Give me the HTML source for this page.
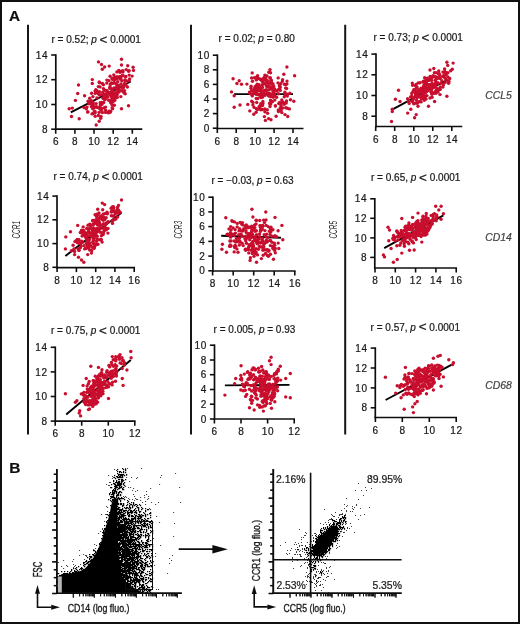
<!DOCTYPE html>
<html><head><meta charset="utf-8"><style>
html,body{margin:0;padding:0;background:#fff;}
svg{display:block;font-family:"Liberation Sans",sans-serif;}
</style></head><body>
<svg width="520" height="624" viewBox="0 0 520 624">
<defs><filter id="soft" x="0" y="0" width="520" height="624" filterUnits="userSpaceOnUse"><feGaussianBlur stdDeviation="0.3"/></filter></defs>
<rect x="0" y="0" width="520" height="624" fill="#fff"/>
<g filter="url(#soft)">
<rect x="0" y="0" width="520" height="624" fill="#fff"/>
<line x1="70.8" y1="112.3" x2="130.8" y2="81.5" stroke="#000" stroke-width="1.9" stroke-linecap="butt"/>
<g fill="#c8102e"><circle cx="120.9" cy="78.1" r="1.7"/><circle cx="101.1" cy="110.3" r="1.7"/><circle cx="84.0" cy="107.5" r="1.7"/><circle cx="124.0" cy="92.7" r="1.7"/><circle cx="96.8" cy="90.6" r="1.7"/><circle cx="110.0" cy="94.4" r="1.7"/><circle cx="107.7" cy="112.5" r="1.7"/><circle cx="114.2" cy="92.7" r="1.7"/><circle cx="108.8" cy="80.6" r="1.7"/><circle cx="117.1" cy="77.8" r="1.7"/><circle cx="125.8" cy="76.4" r="1.7"/><circle cx="99.1" cy="112.4" r="1.7"/><circle cx="110.1" cy="112.2" r="1.7"/><circle cx="114.3" cy="105.2" r="1.7"/><circle cx="108.8" cy="112.8" r="1.7"/><circle cx="104.6" cy="94.8" r="1.7"/><circle cx="122.4" cy="87.8" r="1.7"/><circle cx="114.8" cy="100.2" r="1.7"/><circle cx="117.0" cy="76.6" r="1.7"/><circle cx="106.9" cy="80.1" r="1.7"/><circle cx="132.1" cy="76.1" r="1.7"/><circle cx="117.7" cy="81.8" r="1.7"/><circle cx="92.8" cy="108.8" r="1.7"/><circle cx="93.3" cy="113.5" r="1.7"/><circle cx="110.1" cy="76.2" r="1.7"/><circle cx="110.1" cy="86.7" r="1.7"/><circle cx="87.8" cy="111.9" r="1.7"/><circle cx="107.2" cy="96.3" r="1.7"/><circle cx="100.5" cy="104.5" r="1.7"/><circle cx="106.2" cy="95.2" r="1.7"/><circle cx="125.9" cy="84.9" r="1.7"/><circle cx="112.9" cy="101.5" r="1.7"/><circle cx="100.9" cy="94.9" r="1.7"/><circle cx="92.0" cy="113.9" r="1.7"/><circle cx="122.3" cy="75.8" r="1.7"/><circle cx="105.6" cy="107.1" r="1.7"/><circle cx="125.2" cy="93.8" r="1.7"/><circle cx="121.8" cy="80.8" r="1.7"/><circle cx="109.0" cy="111.1" r="1.7"/><circle cx="120.8" cy="96.6" r="1.7"/><circle cx="105.5" cy="110.3" r="1.7"/><circle cx="102.4" cy="112.5" r="1.7"/><circle cx="94.3" cy="107.7" r="1.7"/><circle cx="100.1" cy="86.9" r="1.7"/><circle cx="95.1" cy="112.8" r="1.7"/><circle cx="122.9" cy="71.9" r="1.7"/><circle cx="112.3" cy="89.0" r="1.7"/><circle cx="112.0" cy="102.3" r="1.7"/><circle cx="98.4" cy="115.5" r="1.7"/><circle cx="105.5" cy="99.1" r="1.7"/><circle cx="114.8" cy="77.5" r="1.7"/><circle cx="120.4" cy="76.5" r="1.7"/><circle cx="128.6" cy="71.2" r="1.7"/><circle cx="92.9" cy="96.6" r="1.7"/><circle cx="92.9" cy="102.2" r="1.7"/><circle cx="114.0" cy="80.2" r="1.7"/><circle cx="122.9" cy="70.8" r="1.7"/><circle cx="102.4" cy="83.5" r="1.7"/><circle cx="89.7" cy="98.3" r="1.7"/><circle cx="121.0" cy="83.9" r="1.7"/><circle cx="94.6" cy="106.9" r="1.7"/><circle cx="125.4" cy="77.1" r="1.7"/><circle cx="111.8" cy="100.6" r="1.7"/><circle cx="115.3" cy="98.0" r="1.7"/><circle cx="101.9" cy="104.4" r="1.7"/><circle cx="115.4" cy="77.6" r="1.7"/><circle cx="104.8" cy="99.2" r="1.7"/><circle cx="88.8" cy="101.4" r="1.7"/><circle cx="123.5" cy="87.4" r="1.7"/><circle cx="105.3" cy="96.1" r="1.7"/><circle cx="99.4" cy="91.7" r="1.7"/><circle cx="90.7" cy="103.7" r="1.7"/><circle cx="111.3" cy="83.0" r="1.7"/><circle cx="87.0" cy="107.1" r="1.7"/><circle cx="124.8" cy="80.2" r="1.7"/><circle cx="99.4" cy="108.2" r="1.7"/><circle cx="114.7" cy="78.1" r="1.7"/><circle cx="105.5" cy="112.4" r="1.7"/><circle cx="100.2" cy="102.7" r="1.7"/><circle cx="89.0" cy="103.7" r="1.7"/><circle cx="117.3" cy="85.3" r="1.7"/><circle cx="120.1" cy="78.9" r="1.7"/><circle cx="98.3" cy="93.5" r="1.7"/><circle cx="124.5" cy="90.6" r="1.7"/><circle cx="113.6" cy="78.0" r="1.7"/><circle cx="122.5" cy="91.0" r="1.7"/><circle cx="103.4" cy="88.6" r="1.7"/><circle cx="86.3" cy="108.8" r="1.7"/><circle cx="110.1" cy="88.3" r="1.7"/><circle cx="110.6" cy="102.6" r="1.7"/><circle cx="101.7" cy="108.4" r="1.7"/><circle cx="127.4" cy="87.0" r="1.7"/><circle cx="93.2" cy="105.5" r="1.7"/><circle cx="129.2" cy="75.1" r="1.7"/><circle cx="112.4" cy="89.9" r="1.7"/><circle cx="120.2" cy="78.9" r="1.7"/><circle cx="126.9" cy="80.9" r="1.7"/><circle cx="121.5" cy="71.1" r="1.7"/><circle cx="99.5" cy="82.8" r="1.7"/><circle cx="119.4" cy="89.6" r="1.7"/><circle cx="98.4" cy="86.6" r="1.7"/><circle cx="122.8" cy="90.9" r="1.7"/><circle cx="91.4" cy="100.7" r="1.7"/><circle cx="99.2" cy="94.8" r="1.7"/><circle cx="96.9" cy="92.4" r="1.7"/><circle cx="117.2" cy="94.8" r="1.7"/><circle cx="104.0" cy="107.9" r="1.7"/><circle cx="129.6" cy="79.0" r="1.7"/><circle cx="95.3" cy="93.4" r="1.7"/><circle cx="109.5" cy="111.6" r="1.7"/><circle cx="95.1" cy="91.1" r="1.7"/><circle cx="119.6" cy="76.6" r="1.7"/><circle cx="101.0" cy="116.5" r="1.7"/><circle cx="91.6" cy="93.2" r="1.7"/><circle cx="112.2" cy="107.7" r="1.7"/><circle cx="100.0" cy="106.4" r="1.7"/><circle cx="117.3" cy="97.4" r="1.7"/><circle cx="103.7" cy="102.5" r="1.7"/><circle cx="124.6" cy="83.5" r="1.7"/><circle cx="116.3" cy="78.8" r="1.7"/><circle cx="111.9" cy="104.7" r="1.7"/><circle cx="88.1" cy="101.2" r="1.7"/><circle cx="105.9" cy="90.4" r="1.7"/><circle cx="116.3" cy="93.3" r="1.7"/><circle cx="120.0" cy="72.4" r="1.7"/><circle cx="110.7" cy="95.3" r="1.7"/><circle cx="129.1" cy="70.6" r="1.7"/><circle cx="104.2" cy="98.7" r="1.7"/><circle cx="112.1" cy="78.7" r="1.7"/><circle cx="94.9" cy="111.5" r="1.7"/><circle cx="95.8" cy="89.8" r="1.7"/><circle cx="112.6" cy="108.8" r="1.7"/><circle cx="108.7" cy="100.2" r="1.7"/><circle cx="122.9" cy="75.3" r="1.7"/><circle cx="118.9" cy="77.5" r="1.7"/><circle cx="107.7" cy="97.0" r="1.7"/><circle cx="96.1" cy="103.6" r="1.7"/><circle cx="116.5" cy="78.7" r="1.7"/><circle cx="112.6" cy="83.4" r="1.7"/><circle cx="103.4" cy="94.8" r="1.7"/><circle cx="125.2" cy="80.4" r="1.7"/><circle cx="110.9" cy="94.7" r="1.7"/><circle cx="112.9" cy="96.5" r="1.7"/><circle cx="111.3" cy="96.9" r="1.7"/><circle cx="105.5" cy="96.8" r="1.7"/><circle cx="102.5" cy="92.4" r="1.7"/><circle cx="107.4" cy="92.3" r="1.7"/><circle cx="104.3" cy="90.3" r="1.7"/><circle cx="96.5" cy="106.8" r="1.7"/><circle cx="112.2" cy="79.0" r="1.7"/><circle cx="112.4" cy="92.6" r="1.7"/><circle cx="116.3" cy="89.9" r="1.7"/><circle cx="116.7" cy="88.2" r="1.7"/><circle cx="114.1" cy="88.0" r="1.7"/><circle cx="110.6" cy="111.2" r="1.7"/><circle cx="114.4" cy="82.7" r="1.7"/><circle cx="120.0" cy="90.3" r="1.7"/><circle cx="116.1" cy="83.9" r="1.7"/><circle cx="107.1" cy="90.6" r="1.7"/><circle cx="111.2" cy="83.4" r="1.7"/><circle cx="118.8" cy="70.5" r="1.7"/><circle cx="112.9" cy="92.3" r="1.7"/><circle cx="103.4" cy="84.8" r="1.7"/><circle cx="118.0" cy="91.9" r="1.7"/><circle cx="103.1" cy="98.2" r="1.7"/><circle cx="118.5" cy="87.6" r="1.7"/><circle cx="110.2" cy="84.4" r="1.7"/><circle cx="119.1" cy="92.1" r="1.7"/><circle cx="112.6" cy="98.4" r="1.7"/><circle cx="116.5" cy="92.7" r="1.7"/><circle cx="116.6" cy="87.3" r="1.7"/><circle cx="95.2" cy="116.3" r="1.7"/><circle cx="112.3" cy="90.2" r="1.7"/><circle cx="112.2" cy="101.9" r="1.7"/><circle cx="106.8" cy="83.1" r="1.7"/><circle cx="110.5" cy="92.1" r="1.7"/><circle cx="113.8" cy="100.7" r="1.7"/><circle cx="110.2" cy="100.3" r="1.7"/><circle cx="122.3" cy="87.8" r="1.7"/><circle cx="94.4" cy="111.6" r="1.7"/><circle cx="105.9" cy="98.3" r="1.7"/><circle cx="91.4" cy="106.7" r="1.7"/><circle cx="112.3" cy="96.5" r="1.7"/><circle cx="103.3" cy="98.1" r="1.7"/><circle cx="105.5" cy="95.3" r="1.7"/><circle cx="107.9" cy="93.5" r="1.7"/><circle cx="117.4" cy="86.4" r="1.7"/><circle cx="96.9" cy="97.9" r="1.7"/><circle cx="112.1" cy="94.1" r="1.7"/><circle cx="118.8" cy="85.5" r="1.7"/><circle cx="122.0" cy="86.7" r="1.7"/><circle cx="100.7" cy="118.3" r="1.7"/><circle cx="114.2" cy="94.5" r="1.7"/><circle cx="105.2" cy="94.0" r="1.7"/><circle cx="93.1" cy="103.8" r="1.7"/><circle cx="101.5" cy="102.4" r="1.7"/><circle cx="97.5" cy="107.5" r="1.7"/><circle cx="117.4" cy="89.1" r="1.7"/><circle cx="103.5" cy="97.6" r="1.7"/><circle cx="104.7" cy="99.4" r="1.7"/><circle cx="129.1" cy="80.9" r="1.7"/><circle cx="105.1" cy="98.5" r="1.7"/><circle cx="114.1" cy="96.0" r="1.7"/><circle cx="109.6" cy="87.9" r="1.7"/><circle cx="115.9" cy="96.6" r="1.7"/><circle cx="124.2" cy="85.3" r="1.7"/><circle cx="121.5" cy="59.3" r="1.7"/><circle cx="98.5" cy="61.9" r="1.7"/><circle cx="101.5" cy="64.5" r="1.7"/><circle cx="121.5" cy="65.0" r="1.7"/><circle cx="109.2" cy="66.1" r="1.7"/><circle cx="104.6" cy="67.0" r="1.7"/><circle cx="102.3" cy="69.2" r="1.7"/><circle cx="127.7" cy="65.8" r="1.7"/><circle cx="133.1" cy="67.3" r="1.7"/><circle cx="133.5" cy="70.4" r="1.7"/><circle cx="126.2" cy="69.6" r="1.7"/><circle cx="116.9" cy="71.9" r="1.7"/><circle cx="113.8" cy="75.0" r="1.7"/><circle cx="78.5" cy="85.0" r="1.7"/><circle cx="77.7" cy="93.5" r="1.7"/><circle cx="75.4" cy="100.4" r="1.7"/><circle cx="69.2" cy="108.8" r="1.7"/><circle cx="72.3" cy="108.1" r="1.7"/><circle cx="71.5" cy="116.5" r="1.7"/><circle cx="79.2" cy="118.8" r="1.7"/><circle cx="84.6" cy="95.8" r="1.7"/><circle cx="92.3" cy="79.6" r="1.7"/><circle cx="92.3" cy="83.5" r="1.7"/><circle cx="99.2" cy="81.9" r="1.7"/><circle cx="96.2" cy="125.0" r="1.7"/><circle cx="99.2" cy="121.2" r="1.7"/><circle cx="128.5" cy="105.8" r="1.7"/><circle cx="121.5" cy="108.8" r="1.7"/><circle cx="87.7" cy="111.9" r="1.7"/></g>
<line x1="55.8" y1="54.2" x2="55.8" y2="130" stroke="#111" stroke-width="1.7" stroke-linecap="butt"/>
<line x1="55" y1="129.2" x2="142.3" y2="129.2" stroke="#111" stroke-width="1.7" stroke-linecap="butt"/>
<line x1="51.2" y1="129.2" x2="55.8" y2="129.2" stroke="#111" stroke-width="1.6" stroke-linecap="butt"/>
<text x="48.2" y="132.8" font-size="10" text-anchor="end" fill="#1a1a1a" stroke="#1a1a1a" stroke-width="0.22" letter-spacing="0.6">8</text>
<line x1="51.2" y1="104.5" x2="55.8" y2="104.5" stroke="#111" stroke-width="1.6" stroke-linecap="butt"/>
<text x="48.2" y="108.1" font-size="10" text-anchor="end" fill="#1a1a1a" stroke="#1a1a1a" stroke-width="0.22" letter-spacing="0.6">10</text>
<line x1="51.2" y1="79.7" x2="55.8" y2="79.7" stroke="#111" stroke-width="1.6" stroke-linecap="butt"/>
<text x="48.2" y="83.3" font-size="10" text-anchor="end" fill="#1a1a1a" stroke="#1a1a1a" stroke-width="0.22" letter-spacing="0.6">12</text>
<line x1="51.2" y1="55" x2="55.8" y2="55" stroke="#111" stroke-width="1.6" stroke-linecap="butt"/>
<text x="48.2" y="58.6" font-size="10" text-anchor="end" fill="#1a1a1a" stroke="#1a1a1a" stroke-width="0.22" letter-spacing="0.6">14</text>
<line x1="55.7" y1="129.2" x2="55.7" y2="133.7" stroke="#111" stroke-width="1.6" stroke-linecap="butt"/>
<text x="56" y="145.4" font-size="10" text-anchor="middle" fill="#1a1a1a" stroke="#1a1a1a" stroke-width="0.22" letter-spacing="0.6">6</text>
<line x1="74.9" y1="129.2" x2="74.9" y2="133.7" stroke="#111" stroke-width="1.6" stroke-linecap="butt"/>
<text x="75.2" y="145.4" font-size="10" text-anchor="middle" fill="#1a1a1a" stroke="#1a1a1a" stroke-width="0.22" letter-spacing="0.6">8</text>
<line x1="94" y1="129.2" x2="94" y2="133.7" stroke="#111" stroke-width="1.6" stroke-linecap="butt"/>
<text x="94.3" y="145.4" font-size="10" text-anchor="middle" fill="#1a1a1a" stroke="#1a1a1a" stroke-width="0.22" letter-spacing="0.6">10</text>
<line x1="113.2" y1="129.2" x2="113.2" y2="133.7" stroke="#111" stroke-width="1.6" stroke-linecap="butt"/>
<text x="113.5" y="145.4" font-size="10" text-anchor="middle" fill="#1a1a1a" stroke="#1a1a1a" stroke-width="0.22" letter-spacing="0.6">12</text>
<line x1="132.3" y1="129.2" x2="132.3" y2="133.7" stroke="#111" stroke-width="1.6" stroke-linecap="butt"/>
<text x="132.6" y="145.4" font-size="10" text-anchor="middle" fill="#1a1a1a" stroke="#1a1a1a" stroke-width="0.22" letter-spacing="0.6">14</text>
<text x="51.5" y="43" font-size="10" text-anchor="start" fill="#1a1a1a" stroke="#1a1a1a" stroke-width="0.22" >r = 0.52; <tspan font-style="italic">p</tspan> <tspan font-size="13.5" dy="0.9">&lt;</tspan><tspan dy="-0.9"> 0.0001</tspan></text>
<line x1="234" y1="94.1" x2="293" y2="94.1" stroke="#000" stroke-width="1.9" stroke-linecap="butt"/>
<g fill="#c8102e"><circle cx="282.3" cy="81.4" r="1.7"/><circle cx="262.4" cy="109.5" r="1.7"/><circle cx="282.7" cy="102.2" r="1.7"/><circle cx="257.2" cy="90.4" r="1.7"/><circle cx="276.1" cy="116.3" r="1.7"/><circle cx="261.2" cy="91.3" r="1.7"/><circle cx="267.3" cy="109.7" r="1.7"/><circle cx="256.7" cy="102.5" r="1.7"/><circle cx="278.4" cy="93.8" r="1.7"/><circle cx="255.6" cy="91.1" r="1.7"/><circle cx="284.4" cy="84.2" r="1.7"/><circle cx="251.7" cy="94.4" r="1.7"/><circle cx="260.7" cy="109.8" r="1.7"/><circle cx="286.2" cy="103.0" r="1.7"/><circle cx="256.1" cy="112.2" r="1.7"/><circle cx="281.0" cy="109.7" r="1.7"/><circle cx="278.5" cy="111.5" r="1.7"/><circle cx="259.6" cy="106.1" r="1.7"/><circle cx="270.7" cy="89.0" r="1.7"/><circle cx="263.4" cy="82.7" r="1.7"/><circle cx="268.5" cy="89.9" r="1.7"/><circle cx="264.9" cy="111.8" r="1.7"/><circle cx="278.7" cy="103.6" r="1.7"/><circle cx="269.8" cy="77.8" r="1.7"/><circle cx="264.4" cy="116.6" r="1.7"/><circle cx="252.9" cy="105.0" r="1.7"/><circle cx="287.3" cy="96.0" r="1.7"/><circle cx="284.9" cy="92.3" r="1.7"/><circle cx="263.3" cy="95.1" r="1.7"/><circle cx="256.9" cy="87.8" r="1.7"/><circle cx="262.4" cy="84.7" r="1.7"/><circle cx="276.9" cy="91.0" r="1.7"/><circle cx="256.9" cy="79.2" r="1.7"/><circle cx="251.6" cy="90.8" r="1.7"/><circle cx="267.6" cy="113.3" r="1.7"/><circle cx="271.0" cy="119.7" r="1.7"/><circle cx="282.6" cy="79.7" r="1.7"/><circle cx="271.3" cy="80.4" r="1.7"/><circle cx="262.1" cy="80.5" r="1.7"/><circle cx="251.7" cy="101.2" r="1.7"/><circle cx="267.0" cy="75.9" r="1.7"/><circle cx="279.6" cy="85.4" r="1.7"/><circle cx="284.3" cy="96.7" r="1.7"/><circle cx="271.6" cy="94.3" r="1.7"/><circle cx="269.0" cy="86.8" r="1.7"/><circle cx="252.5" cy="81.3" r="1.7"/><circle cx="281.8" cy="112.6" r="1.7"/><circle cx="280.3" cy="90.4" r="1.7"/><circle cx="267.0" cy="92.8" r="1.7"/><circle cx="260.5" cy="91.0" r="1.7"/><circle cx="260.2" cy="95.4" r="1.7"/><circle cx="282.1" cy="102.7" r="1.7"/><circle cx="278.2" cy="77.9" r="1.7"/><circle cx="255.5" cy="86.1" r="1.7"/><circle cx="259.0" cy="106.9" r="1.7"/><circle cx="285.0" cy="114.6" r="1.7"/><circle cx="273.6" cy="90.5" r="1.7"/><circle cx="262.9" cy="101.4" r="1.7"/><circle cx="285.6" cy="88.1" r="1.7"/><circle cx="251.0" cy="88.2" r="1.7"/><circle cx="284.1" cy="104.2" r="1.7"/><circle cx="249.5" cy="92.1" r="1.7"/><circle cx="275.4" cy="106.1" r="1.7"/><circle cx="269.5" cy="82.8" r="1.7"/><circle cx="289.9" cy="93.3" r="1.7"/><circle cx="281.8" cy="99.9" r="1.7"/><circle cx="251.1" cy="86.2" r="1.7"/><circle cx="255.5" cy="92.2" r="1.7"/><circle cx="262.0" cy="90.7" r="1.7"/><circle cx="249.8" cy="110.9" r="1.7"/><circle cx="273.7" cy="92.0" r="1.7"/><circle cx="257.7" cy="98.5" r="1.7"/><circle cx="256.4" cy="108.8" r="1.7"/><circle cx="286.6" cy="88.5" r="1.7"/><circle cx="260.3" cy="105.8" r="1.7"/><circle cx="287.3" cy="108.3" r="1.7"/><circle cx="287.5" cy="94.3" r="1.7"/><circle cx="285.4" cy="94.9" r="1.7"/><circle cx="258.6" cy="94.7" r="1.7"/><circle cx="264.8" cy="109.0" r="1.7"/><circle cx="287.0" cy="81.1" r="1.7"/><circle cx="255.2" cy="92.9" r="1.7"/><circle cx="268.6" cy="118.6" r="1.7"/><circle cx="279.9" cy="103.6" r="1.7"/><circle cx="257.8" cy="90.1" r="1.7"/><circle cx="260.5" cy="79.6" r="1.7"/><circle cx="260.8" cy="88.4" r="1.7"/><circle cx="286.5" cy="100.9" r="1.7"/><circle cx="271.6" cy="84.1" r="1.7"/><circle cx="285.7" cy="107.7" r="1.7"/><circle cx="271.0" cy="80.4" r="1.7"/><circle cx="255.7" cy="89.1" r="1.7"/><circle cx="264.9" cy="75.1" r="1.7"/><circle cx="268.0" cy="94.7" r="1.7"/><circle cx="259.9" cy="89.6" r="1.7"/><circle cx="263.8" cy="93.0" r="1.7"/><circle cx="274.7" cy="95.6" r="1.7"/><circle cx="257.5" cy="109.5" r="1.7"/><circle cx="273.6" cy="93.6" r="1.7"/><circle cx="281.1" cy="105.6" r="1.7"/><circle cx="289.4" cy="108.9" r="1.7"/><circle cx="275.4" cy="105.7" r="1.7"/><circle cx="254.1" cy="107.4" r="1.7"/><circle cx="258.4" cy="85.5" r="1.7"/><circle cx="253.3" cy="93.7" r="1.7"/><circle cx="247.8" cy="104.4" r="1.7"/><circle cx="282.7" cy="107.9" r="1.7"/><circle cx="253.0" cy="102.4" r="1.7"/><circle cx="254.8" cy="87.5" r="1.7"/><circle cx="266.8" cy="83.3" r="1.7"/><circle cx="273.4" cy="89.2" r="1.7"/><circle cx="276.6" cy="97.2" r="1.7"/><circle cx="279.7" cy="86.0" r="1.7"/><circle cx="280.4" cy="107.7" r="1.7"/><circle cx="290.5" cy="99.8" r="1.7"/><circle cx="257.6" cy="94.3" r="1.7"/><circle cx="271.4" cy="96.4" r="1.7"/><circle cx="260.0" cy="86.7" r="1.7"/><circle cx="260.3" cy="108.5" r="1.7"/><circle cx="265.5" cy="77.3" r="1.7"/><circle cx="271.3" cy="82.4" r="1.7"/><circle cx="260.8" cy="97.5" r="1.7"/><circle cx="264.2" cy="77.4" r="1.7"/><circle cx="257.3" cy="91.3" r="1.7"/><circle cx="266.5" cy="80.3" r="1.7"/><circle cx="278.3" cy="110.0" r="1.7"/><circle cx="283.5" cy="102.6" r="1.7"/><circle cx="270.1" cy="104.5" r="1.7"/><circle cx="265.0" cy="95.4" r="1.7"/><circle cx="257.8" cy="87.5" r="1.7"/><circle cx="249.9" cy="93.2" r="1.7"/><circle cx="278.0" cy="82.9" r="1.7"/><circle cx="286.9" cy="83.9" r="1.7"/><circle cx="280.7" cy="83.6" r="1.7"/><circle cx="285.8" cy="84.7" r="1.7"/><circle cx="280.9" cy="110.7" r="1.7"/><circle cx="257.6" cy="75.8" r="1.7"/><circle cx="273.9" cy="95.2" r="1.7"/><circle cx="270.0" cy="106.6" r="1.7"/><circle cx="270.5" cy="96.4" r="1.7"/><circle cx="269.4" cy="93.2" r="1.7"/><circle cx="264.9" cy="79.8" r="1.7"/><circle cx="274.3" cy="88.6" r="1.7"/><circle cx="252.2" cy="72.9" r="1.7"/><circle cx="271.8" cy="88.8" r="1.7"/><circle cx="269.6" cy="103.3" r="1.7"/><circle cx="256.6" cy="77.2" r="1.7"/><circle cx="272.5" cy="101.6" r="1.7"/><circle cx="252.8" cy="91.0" r="1.7"/><circle cx="259.5" cy="78.8" r="1.7"/><circle cx="271.3" cy="80.7" r="1.7"/><circle cx="274.8" cy="100.1" r="1.7"/><circle cx="262.5" cy="105.5" r="1.7"/><circle cx="268.8" cy="83.2" r="1.7"/><circle cx="252.3" cy="95.9" r="1.7"/><circle cx="264.9" cy="79.7" r="1.7"/><circle cx="261.8" cy="95.3" r="1.7"/><circle cx="273.6" cy="86.2" r="1.7"/><circle cx="256.6" cy="85.6" r="1.7"/><circle cx="275.1" cy="90.0" r="1.7"/><circle cx="273.0" cy="91.4" r="1.7"/><circle cx="261.7" cy="96.5" r="1.7"/><circle cx="265.5" cy="76.1" r="1.7"/><circle cx="261.0" cy="93.5" r="1.7"/><circle cx="259.6" cy="94.9" r="1.7"/><circle cx="270.7" cy="86.9" r="1.7"/><circle cx="265.8" cy="79.6" r="1.7"/><circle cx="279.6" cy="102.4" r="1.7"/><circle cx="272.3" cy="88.8" r="1.7"/><circle cx="280.2" cy="87.1" r="1.7"/><circle cx="274.7" cy="91.0" r="1.7"/><circle cx="268.8" cy="72.3" r="1.7"/><circle cx="264.7" cy="77.4" r="1.7"/><circle cx="270.5" cy="100.1" r="1.7"/><circle cx="270.4" cy="77.9" r="1.7"/><circle cx="254.4" cy="77.7" r="1.7"/><circle cx="266.2" cy="89.8" r="1.7"/><circle cx="256.3" cy="79.9" r="1.7"/><circle cx="262.6" cy="79.0" r="1.7"/><circle cx="262.3" cy="81.4" r="1.7"/><circle cx="262.1" cy="103.7" r="1.7"/><circle cx="264.3" cy="90.5" r="1.7"/><circle cx="246.9" cy="84.1" r="1.7"/><circle cx="268.9" cy="96.0" r="1.7"/><circle cx="270.9" cy="100.8" r="1.7"/><circle cx="257.8" cy="78.4" r="1.7"/><circle cx="268.8" cy="94.5" r="1.7"/><circle cx="271.9" cy="83.4" r="1.7"/><circle cx="270.5" cy="72.7" r="1.7"/><circle cx="270.5" cy="88.4" r="1.7"/><circle cx="265.5" cy="90.8" r="1.7"/><circle cx="273.1" cy="97.3" r="1.7"/><circle cx="268.2" cy="85.9" r="1.7"/><circle cx="279.9" cy="88.0" r="1.7"/><circle cx="266.7" cy="80.9" r="1.7"/><circle cx="262.0" cy="95.5" r="1.7"/><circle cx="252.1" cy="94.6" r="1.7"/><circle cx="273.0" cy="83.9" r="1.7"/><circle cx="259.1" cy="84.8" r="1.7"/><circle cx="257.2" cy="84.1" r="1.7"/><circle cx="254.5" cy="89.3" r="1.7"/><circle cx="258.3" cy="90.5" r="1.7"/><circle cx="262.5" cy="87.4" r="1.7"/><circle cx="262.6" cy="95.9" r="1.7"/><circle cx="262.9" cy="103.5" r="1.7"/><circle cx="262.4" cy="97.3" r="1.7"/><circle cx="267.2" cy="86.7" r="1.7"/><circle cx="251.6" cy="78.0" r="1.7"/><circle cx="278.2" cy="89.6" r="1.7"/><circle cx="260.8" cy="103.7" r="1.7"/><circle cx="256.4" cy="94.4" r="1.7"/><circle cx="269.7" cy="95.6" r="1.7"/><circle cx="256.2" cy="98.5" r="1.7"/><circle cx="268.5" cy="95.5" r="1.7"/><circle cx="267.2" cy="80.4" r="1.7"/><circle cx="266.3" cy="86.1" r="1.7"/><circle cx="282.6" cy="102.1" r="1.7"/><circle cx="264.8" cy="83.7" r="1.7"/><circle cx="270.8" cy="103.8" r="1.7"/><circle cx="233.1" cy="78.8" r="1.7"/><circle cx="236.9" cy="83.5" r="1.7"/><circle cx="239.2" cy="80.8" r="1.7"/><circle cx="241.5" cy="84.2" r="1.7"/><circle cx="231.5" cy="91.9" r="1.7"/><circle cx="234.2" cy="95.8" r="1.7"/><circle cx="234.2" cy="107.3" r="1.7"/><circle cx="240.0" cy="105.0" r="1.7"/><circle cx="270.0" cy="69.6" r="1.7"/><circle cx="286.9" cy="67.0" r="1.7"/><circle cx="294.6" cy="75.8" r="1.7"/><circle cx="283.8" cy="74.2" r="1.7"/><circle cx="265.4" cy="120.4" r="1.7"/><circle cx="253.8" cy="114.2" r="1.7"/><circle cx="287.7" cy="116.5" r="1.7"/><circle cx="293.8" cy="101.2" r="1.7"/></g>
<line x1="217.4" y1="54.4" x2="217.4" y2="129.3" stroke="#111" stroke-width="1.7" stroke-linecap="butt"/>
<line x1="216.6" y1="128.5" x2="303.5" y2="128.5" stroke="#111" stroke-width="1.7" stroke-linecap="butt"/>
<line x1="212.8" y1="128.2" x2="217.4" y2="128.2" stroke="#111" stroke-width="1.6" stroke-linecap="butt"/>
<text x="209.8" y="131.8" font-size="10" text-anchor="end" fill="#1a1a1a" stroke="#1a1a1a" stroke-width="0.22" letter-spacing="0.6">0</text>
<line x1="212.8" y1="113.6" x2="217.4" y2="113.6" stroke="#111" stroke-width="1.6" stroke-linecap="butt"/>
<text x="209.8" y="117.2" font-size="10" text-anchor="end" fill="#1a1a1a" stroke="#1a1a1a" stroke-width="0.22" letter-spacing="0.6">2</text>
<line x1="212.8" y1="99" x2="217.4" y2="99" stroke="#111" stroke-width="1.6" stroke-linecap="butt"/>
<text x="209.8" y="102.6" font-size="10" text-anchor="end" fill="#1a1a1a" stroke="#1a1a1a" stroke-width="0.22" letter-spacing="0.6">4</text>
<line x1="212.8" y1="84.4" x2="217.4" y2="84.4" stroke="#111" stroke-width="1.6" stroke-linecap="butt"/>
<text x="209.8" y="88" font-size="10" text-anchor="end" fill="#1a1a1a" stroke="#1a1a1a" stroke-width="0.22" letter-spacing="0.6">6</text>
<line x1="212.8" y1="69.8" x2="217.4" y2="69.8" stroke="#111" stroke-width="1.6" stroke-linecap="butt"/>
<text x="209.8" y="73.4" font-size="10" text-anchor="end" fill="#1a1a1a" stroke="#1a1a1a" stroke-width="0.22" letter-spacing="0.6">8</text>
<line x1="212.8" y1="55.2" x2="217.4" y2="55.2" stroke="#111" stroke-width="1.6" stroke-linecap="butt"/>
<text x="209.8" y="58.8" font-size="10" text-anchor="end" fill="#1a1a1a" stroke="#1a1a1a" stroke-width="0.22" letter-spacing="0.6">10</text>
<line x1="217.3" y1="128.5" x2="217.3" y2="133" stroke="#111" stroke-width="1.6" stroke-linecap="butt"/>
<text x="217.6" y="144.7" font-size="10" text-anchor="middle" fill="#1a1a1a" stroke="#1a1a1a" stroke-width="0.22" letter-spacing="0.6">6</text>
<line x1="236.2" y1="128.5" x2="236.2" y2="133" stroke="#111" stroke-width="1.6" stroke-linecap="butt"/>
<text x="236.5" y="144.7" font-size="10" text-anchor="middle" fill="#1a1a1a" stroke="#1a1a1a" stroke-width="0.22" letter-spacing="0.6">8</text>
<line x1="255.2" y1="128.5" x2="255.2" y2="133" stroke="#111" stroke-width="1.6" stroke-linecap="butt"/>
<text x="255.5" y="144.7" font-size="10" text-anchor="middle" fill="#1a1a1a" stroke="#1a1a1a" stroke-width="0.22" letter-spacing="0.6">10</text>
<line x1="274.1" y1="128.5" x2="274.1" y2="133" stroke="#111" stroke-width="1.6" stroke-linecap="butt"/>
<text x="274.4" y="144.7" font-size="10" text-anchor="middle" fill="#1a1a1a" stroke="#1a1a1a" stroke-width="0.22" letter-spacing="0.6">12</text>
<line x1="293" y1="128.5" x2="293" y2="133" stroke="#111" stroke-width="1.6" stroke-linecap="butt"/>
<text x="293.3" y="144.7" font-size="10" text-anchor="middle" fill="#1a1a1a" stroke="#1a1a1a" stroke-width="0.22" letter-spacing="0.6">14</text>
<text x="218.6" y="41.7" font-size="10" text-anchor="start" fill="#1a1a1a" stroke="#1a1a1a" stroke-width="0.22" >r = 0.02; <tspan font-style="italic">p</tspan> = 0.80</text>
<line x1="393.1" y1="109.2" x2="447" y2="80" stroke="#000" stroke-width="1.9" stroke-linecap="butt"/>
<g fill="#c8102e"><circle cx="419.8" cy="101.4" r="1.7"/><circle cx="440.1" cy="77.8" r="1.7"/><circle cx="435.8" cy="82.5" r="1.7"/><circle cx="429.3" cy="88.1" r="1.7"/><circle cx="445.4" cy="72.1" r="1.7"/><circle cx="416.3" cy="92.2" r="1.7"/><circle cx="415.5" cy="93.4" r="1.7"/><circle cx="416.5" cy="102.8" r="1.7"/><circle cx="423.4" cy="81.2" r="1.7"/><circle cx="417.2" cy="103.3" r="1.7"/><circle cx="447.7" cy="80.8" r="1.7"/><circle cx="445.1" cy="82.4" r="1.7"/><circle cx="425.5" cy="91.8" r="1.7"/><circle cx="443.9" cy="75.6" r="1.7"/><circle cx="425.3" cy="93.0" r="1.7"/><circle cx="431.3" cy="91.5" r="1.7"/><circle cx="412.2" cy="101.1" r="1.7"/><circle cx="431.0" cy="91.9" r="1.7"/><circle cx="412.6" cy="85.2" r="1.7"/><circle cx="443.8" cy="77.0" r="1.7"/><circle cx="422.7" cy="88.3" r="1.7"/><circle cx="416.2" cy="96.4" r="1.7"/><circle cx="446.1" cy="74.4" r="1.7"/><circle cx="427.4" cy="78.3" r="1.7"/><circle cx="422.5" cy="90.5" r="1.7"/><circle cx="412.9" cy="91.8" r="1.7"/><circle cx="424.6" cy="99.4" r="1.7"/><circle cx="425.3" cy="81.7" r="1.7"/><circle cx="430.1" cy="76.4" r="1.7"/><circle cx="425.8" cy="88.0" r="1.7"/><circle cx="419.5" cy="92.6" r="1.7"/><circle cx="438.1" cy="92.1" r="1.7"/><circle cx="418.2" cy="82.9" r="1.7"/><circle cx="416.1" cy="84.5" r="1.7"/><circle cx="435.7" cy="77.0" r="1.7"/><circle cx="438.2" cy="77.2" r="1.7"/><circle cx="409.2" cy="103.4" r="1.7"/><circle cx="423.7" cy="97.8" r="1.7"/><circle cx="417.5" cy="94.0" r="1.7"/><circle cx="439.6" cy="89.3" r="1.7"/><circle cx="414.4" cy="103.4" r="1.7"/><circle cx="416.2" cy="88.3" r="1.7"/><circle cx="413.8" cy="103.8" r="1.7"/><circle cx="416.6" cy="92.9" r="1.7"/><circle cx="421.5" cy="98.7" r="1.7"/><circle cx="415.4" cy="85.5" r="1.7"/><circle cx="416.4" cy="100.0" r="1.7"/><circle cx="435.3" cy="92.9" r="1.7"/><circle cx="432.6" cy="76.8" r="1.7"/><circle cx="435.6" cy="80.1" r="1.7"/><circle cx="430.3" cy="84.7" r="1.7"/><circle cx="443.4" cy="84.7" r="1.7"/><circle cx="436.0" cy="83.2" r="1.7"/><circle cx="424.6" cy="85.9" r="1.7"/><circle cx="423.9" cy="85.5" r="1.7"/><circle cx="450.7" cy="70.8" r="1.7"/><circle cx="418.0" cy="106.2" r="1.7"/><circle cx="424.6" cy="77.7" r="1.7"/><circle cx="417.1" cy="87.1" r="1.7"/><circle cx="414.1" cy="90.8" r="1.7"/><circle cx="442.9" cy="87.1" r="1.7"/><circle cx="435.9" cy="93.2" r="1.7"/><circle cx="427.8" cy="84.5" r="1.7"/><circle cx="432.3" cy="86.4" r="1.7"/><circle cx="440.3" cy="86.9" r="1.7"/><circle cx="440.0" cy="78.6" r="1.7"/><circle cx="423.7" cy="86.4" r="1.7"/><circle cx="449.7" cy="78.5" r="1.7"/><circle cx="445.5" cy="78.4" r="1.7"/><circle cx="413.8" cy="89.7" r="1.7"/><circle cx="412.6" cy="101.8" r="1.7"/><circle cx="428.1" cy="90.5" r="1.7"/><circle cx="449.0" cy="81.4" r="1.7"/><circle cx="434.4" cy="72.8" r="1.7"/><circle cx="438.7" cy="70.9" r="1.7"/><circle cx="411.8" cy="96.2" r="1.7"/><circle cx="432.1" cy="97.2" r="1.7"/><circle cx="439.6" cy="74.9" r="1.7"/><circle cx="432.6" cy="77.0" r="1.7"/><circle cx="435.5" cy="85.5" r="1.7"/><circle cx="418.3" cy="102.0" r="1.7"/><circle cx="433.4" cy="85.9" r="1.7"/><circle cx="426.1" cy="99.1" r="1.7"/><circle cx="424.8" cy="82.0" r="1.7"/><circle cx="411.7" cy="93.4" r="1.7"/><circle cx="415.5" cy="96.2" r="1.7"/><circle cx="409.0" cy="101.3" r="1.7"/><circle cx="429.5" cy="79.4" r="1.7"/><circle cx="415.5" cy="95.1" r="1.7"/><circle cx="435.2" cy="80.2" r="1.7"/><circle cx="421.0" cy="88.2" r="1.7"/><circle cx="434.0" cy="84.5" r="1.7"/><circle cx="436.4" cy="89.7" r="1.7"/><circle cx="439.2" cy="73.7" r="1.7"/><circle cx="421.1" cy="101.9" r="1.7"/><circle cx="424.3" cy="100.3" r="1.7"/><circle cx="410.5" cy="97.0" r="1.7"/><circle cx="437.3" cy="78.6" r="1.7"/><circle cx="416.3" cy="91.7" r="1.7"/><circle cx="445.5" cy="72.8" r="1.7"/><circle cx="424.9" cy="86.2" r="1.7"/><circle cx="425.0" cy="85.5" r="1.7"/><circle cx="432.4" cy="88.0" r="1.7"/><circle cx="448.6" cy="83.2" r="1.7"/><circle cx="424.0" cy="86.8" r="1.7"/><circle cx="436.0" cy="72.6" r="1.7"/><circle cx="414.6" cy="90.0" r="1.7"/><circle cx="430.6" cy="86.5" r="1.7"/><circle cx="424.7" cy="96.3" r="1.7"/><circle cx="440.3" cy="89.4" r="1.7"/><circle cx="435.4" cy="91.4" r="1.7"/><circle cx="444.8" cy="71.8" r="1.7"/><circle cx="424.3" cy="97.3" r="1.7"/><circle cx="417.4" cy="92.4" r="1.7"/><circle cx="425.8" cy="78.5" r="1.7"/><circle cx="446.4" cy="79.9" r="1.7"/><circle cx="424.2" cy="98.8" r="1.7"/><circle cx="417.0" cy="92.4" r="1.7"/><circle cx="433.6" cy="87.5" r="1.7"/><circle cx="418.7" cy="89.6" r="1.7"/><circle cx="447.9" cy="72.7" r="1.7"/><circle cx="408.4" cy="101.2" r="1.7"/><circle cx="435.4" cy="76.7" r="1.7"/><circle cx="447.9" cy="76.9" r="1.7"/><circle cx="442.9" cy="72.1" r="1.7"/><circle cx="426.3" cy="87.4" r="1.7"/><circle cx="424.8" cy="83.9" r="1.7"/><circle cx="422.9" cy="82.1" r="1.7"/><circle cx="444.1" cy="72.2" r="1.7"/><circle cx="426.9" cy="95.6" r="1.7"/><circle cx="442.7" cy="76.3" r="1.7"/><circle cx="437.8" cy="89.8" r="1.7"/><circle cx="433.5" cy="93.2" r="1.7"/><circle cx="429.0" cy="80.3" r="1.7"/><circle cx="421.9" cy="96.0" r="1.7"/><circle cx="433.1" cy="75.6" r="1.7"/><circle cx="444.6" cy="69.0" r="1.7"/><circle cx="430.3" cy="84.4" r="1.7"/><circle cx="420.0" cy="82.8" r="1.7"/><circle cx="423.7" cy="92.2" r="1.7"/><circle cx="432.1" cy="83.5" r="1.7"/><circle cx="424.9" cy="85.9" r="1.7"/><circle cx="438.8" cy="89.5" r="1.7"/><circle cx="424.9" cy="85.7" r="1.7"/><circle cx="437.5" cy="77.7" r="1.7"/><circle cx="425.1" cy="92.2" r="1.7"/><circle cx="429.5" cy="86.3" r="1.7"/><circle cx="427.0" cy="80.5" r="1.7"/><circle cx="419.3" cy="97.0" r="1.7"/><circle cx="408.7" cy="100.4" r="1.7"/><circle cx="431.4" cy="88.7" r="1.7"/><circle cx="425.4" cy="80.9" r="1.7"/><circle cx="437.7" cy="82.7" r="1.7"/><circle cx="426.7" cy="89.7" r="1.7"/><circle cx="423.3" cy="95.4" r="1.7"/><circle cx="426.4" cy="89.9" r="1.7"/><circle cx="432.3" cy="88.1" r="1.7"/><circle cx="422.1" cy="91.4" r="1.7"/><circle cx="424.1" cy="87.4" r="1.7"/><circle cx="438.1" cy="73.6" r="1.7"/><circle cx="423.6" cy="95.8" r="1.7"/><circle cx="416.4" cy="94.6" r="1.7"/><circle cx="425.1" cy="97.6" r="1.7"/><circle cx="419.6" cy="91.6" r="1.7"/><circle cx="430.3" cy="86.1" r="1.7"/><circle cx="441.0" cy="83.3" r="1.7"/><circle cx="419.2" cy="90.7" r="1.7"/><circle cx="413.7" cy="97.7" r="1.7"/><circle cx="430.5" cy="85.5" r="1.7"/><circle cx="432.9" cy="85.2" r="1.7"/><circle cx="431.7" cy="91.9" r="1.7"/><circle cx="423.3" cy="91.4" r="1.7"/><circle cx="426.1" cy="81.6" r="1.7"/><circle cx="425.4" cy="84.2" r="1.7"/><circle cx="421.6" cy="90.9" r="1.7"/><circle cx="417.0" cy="97.5" r="1.7"/><circle cx="424.0" cy="89.2" r="1.7"/><circle cx="428.0" cy="88.1" r="1.7"/><circle cx="419.5" cy="91.2" r="1.7"/><circle cx="430.0" cy="98.0" r="1.7"/><circle cx="427.5" cy="88.4" r="1.7"/><circle cx="431.6" cy="80.4" r="1.7"/><circle cx="418.1" cy="92.5" r="1.7"/><circle cx="431.9" cy="94.2" r="1.7"/><circle cx="407.6" cy="98.7" r="1.7"/><circle cx="420.5" cy="95.9" r="1.7"/><circle cx="426.7" cy="91.4" r="1.7"/><circle cx="431.4" cy="92.5" r="1.7"/><circle cx="423.8" cy="92.9" r="1.7"/><circle cx="422.8" cy="98.0" r="1.7"/><circle cx="426.5" cy="91.5" r="1.7"/><circle cx="413.1" cy="99.5" r="1.7"/><circle cx="426.9" cy="84.2" r="1.7"/><circle cx="428.4" cy="80.3" r="1.7"/><circle cx="427.6" cy="89.4" r="1.7"/><circle cx="445.7" cy="75.1" r="1.7"/><circle cx="422.9" cy="93.2" r="1.7"/><circle cx="437.3" cy="88.5" r="1.7"/><circle cx="431.0" cy="78.5" r="1.7"/><circle cx="437.8" cy="83.4" r="1.7"/><circle cx="422.0" cy="98.2" r="1.7"/><circle cx="423.9" cy="86.7" r="1.7"/><circle cx="430.9" cy="78.8" r="1.7"/><circle cx="426.5" cy="82.0" r="1.7"/><circle cx="431.9" cy="92.0" r="1.7"/><circle cx="431.6" cy="87.4" r="1.7"/><circle cx="431.6" cy="77.2" r="1.7"/><circle cx="434.8" cy="86.8" r="1.7"/><circle cx="416.6" cy="91.7" r="1.7"/><circle cx="418.8" cy="96.2" r="1.7"/><circle cx="419.4" cy="96.3" r="1.7"/><circle cx="434.4" cy="85.5" r="1.7"/><circle cx="431.4" cy="77.6" r="1.7"/><circle cx="441.8" cy="80.7" r="1.7"/><circle cx="391.5" cy="121.5" r="1.7"/><circle cx="392.3" cy="109.2" r="1.7"/><circle cx="392.3" cy="111.5" r="1.7"/><circle cx="395.4" cy="99.2" r="1.7"/><circle cx="398.5" cy="90.3" r="1.7"/><circle cx="400.0" cy="101.5" r="1.7"/><circle cx="407.7" cy="113.1" r="1.7"/><circle cx="414.6" cy="117.7" r="1.7"/><circle cx="416.2" cy="114.6" r="1.7"/><circle cx="410.8" cy="109.2" r="1.7"/><circle cx="412.3" cy="83.1" r="1.7"/><circle cx="428.5" cy="106.2" r="1.7"/><circle cx="434.6" cy="101.5" r="1.7"/><circle cx="446.9" cy="96.2" r="1.7"/><circle cx="440.0" cy="94.6" r="1.7"/><circle cx="430.0" cy="70.0" r="1.7"/><circle cx="433.8" cy="68.5" r="1.7"/><circle cx="446.9" cy="62.3" r="1.7"/><circle cx="453.1" cy="63.1" r="1.7"/><circle cx="447.7" cy="65.4" r="1.7"/><circle cx="452.3" cy="69.2" r="1.7"/></g>
<line x1="376" y1="53.3" x2="376" y2="127.3" stroke="#111" stroke-width="1.7" stroke-linecap="butt"/>
<line x1="375.2" y1="126.5" x2="462.3" y2="126.5" stroke="#111" stroke-width="1.7" stroke-linecap="butt"/>
<line x1="371.4" y1="116.2" x2="376" y2="116.2" stroke="#111" stroke-width="1.6" stroke-linecap="butt"/>
<text x="368.4" y="119.8" font-size="10" text-anchor="end" fill="#1a1a1a" stroke="#1a1a1a" stroke-width="0.22" letter-spacing="0.6">8</text>
<line x1="371.4" y1="95.5" x2="376" y2="95.5" stroke="#111" stroke-width="1.6" stroke-linecap="butt"/>
<text x="368.4" y="99.1" font-size="10" text-anchor="end" fill="#1a1a1a" stroke="#1a1a1a" stroke-width="0.22" letter-spacing="0.6">10</text>
<line x1="371.4" y1="74.8" x2="376" y2="74.8" stroke="#111" stroke-width="1.6" stroke-linecap="butt"/>
<text x="368.4" y="78.4" font-size="10" text-anchor="end" fill="#1a1a1a" stroke="#1a1a1a" stroke-width="0.22" letter-spacing="0.6">12</text>
<line x1="371.4" y1="54.1" x2="376" y2="54.1" stroke="#111" stroke-width="1.6" stroke-linecap="butt"/>
<text x="368.4" y="57.7" font-size="10" text-anchor="end" fill="#1a1a1a" stroke="#1a1a1a" stroke-width="0.22" letter-spacing="0.6">14</text>
<line x1="375.7" y1="126.5" x2="375.7" y2="131" stroke="#111" stroke-width="1.6" stroke-linecap="butt"/>
<text x="376" y="142.7" font-size="10" text-anchor="middle" fill="#1a1a1a" stroke="#1a1a1a" stroke-width="0.22" letter-spacing="0.6">6</text>
<line x1="394.7" y1="126.5" x2="394.7" y2="131" stroke="#111" stroke-width="1.6" stroke-linecap="butt"/>
<text x="395" y="142.7" font-size="10" text-anchor="middle" fill="#1a1a1a" stroke="#1a1a1a" stroke-width="0.22" letter-spacing="0.6">8</text>
<line x1="413.8" y1="126.5" x2="413.8" y2="131" stroke="#111" stroke-width="1.6" stroke-linecap="butt"/>
<text x="414.1" y="142.7" font-size="10" text-anchor="middle" fill="#1a1a1a" stroke="#1a1a1a" stroke-width="0.22" letter-spacing="0.6">10</text>
<line x1="432.8" y1="126.5" x2="432.8" y2="131" stroke="#111" stroke-width="1.6" stroke-linecap="butt"/>
<text x="433.1" y="142.7" font-size="10" text-anchor="middle" fill="#1a1a1a" stroke="#1a1a1a" stroke-width="0.22" letter-spacing="0.6">12</text>
<line x1="451.8" y1="126.5" x2="451.8" y2="131" stroke="#111" stroke-width="1.6" stroke-linecap="butt"/>
<text x="452.1" y="142.7" font-size="10" text-anchor="middle" fill="#1a1a1a" stroke="#1a1a1a" stroke-width="0.22" letter-spacing="0.6">14</text>
<text x="373.5" y="41.4" font-size="10" text-anchor="start" fill="#1a1a1a" stroke="#1a1a1a" stroke-width="0.22" >r = 0.73; <tspan font-style="italic">p</tspan> <tspan font-size="13.5" dy="0.9">&lt;</tspan><tspan dy="-0.9"> 0.0001</tspan></text>
<line x1="65.4" y1="256.1" x2="121.5" y2="212.8" stroke="#000" stroke-width="1.9" stroke-linecap="butt"/>
<g fill="#c8102e"><circle cx="83.1" cy="232.0" r="1.7"/><circle cx="87.5" cy="246.1" r="1.7"/><circle cx="106.2" cy="213.6" r="1.7"/><circle cx="117.3" cy="209.4" r="1.7"/><circle cx="97.7" cy="225.0" r="1.7"/><circle cx="98.1" cy="224.1" r="1.7"/><circle cx="108.0" cy="228.4" r="1.7"/><circle cx="95.2" cy="222.8" r="1.7"/><circle cx="73.1" cy="245.2" r="1.7"/><circle cx="104.5" cy="228.7" r="1.7"/><circle cx="104.4" cy="227.7" r="1.7"/><circle cx="96.0" cy="219.7" r="1.7"/><circle cx="92.1" cy="228.6" r="1.7"/><circle cx="87.5" cy="245.8" r="1.7"/><circle cx="86.3" cy="243.5" r="1.7"/><circle cx="86.1" cy="236.7" r="1.7"/><circle cx="112.5" cy="223.4" r="1.7"/><circle cx="100.9" cy="216.7" r="1.7"/><circle cx="86.5" cy="233.4" r="1.7"/><circle cx="115.9" cy="212.6" r="1.7"/><circle cx="117.5" cy="207.4" r="1.7"/><circle cx="104.6" cy="224.9" r="1.7"/><circle cx="101.7" cy="218.0" r="1.7"/><circle cx="89.7" cy="243.1" r="1.7"/><circle cx="95.0" cy="232.6" r="1.7"/><circle cx="97.0" cy="214.1" r="1.7"/><circle cx="111.9" cy="211.7" r="1.7"/><circle cx="100.7" cy="239.4" r="1.7"/><circle cx="85.0" cy="236.0" r="1.7"/><circle cx="102.7" cy="209.7" r="1.7"/><circle cx="94.7" cy="236.1" r="1.7"/><circle cx="93.3" cy="220.8" r="1.7"/><circle cx="98.4" cy="230.5" r="1.7"/><circle cx="113.2" cy="210.2" r="1.7"/><circle cx="116.6" cy="212.3" r="1.7"/><circle cx="99.0" cy="213.0" r="1.7"/><circle cx="97.2" cy="238.9" r="1.7"/><circle cx="82.9" cy="231.0" r="1.7"/><circle cx="86.4" cy="237.4" r="1.7"/><circle cx="113.1" cy="216.0" r="1.7"/><circle cx="92.8" cy="220.4" r="1.7"/><circle cx="81.9" cy="241.1" r="1.7"/><circle cx="115.9" cy="219.0" r="1.7"/><circle cx="100.5" cy="216.9" r="1.7"/><circle cx="77.3" cy="239.7" r="1.7"/><circle cx="107.0" cy="212.3" r="1.7"/><circle cx="89.4" cy="233.2" r="1.7"/><circle cx="93.4" cy="247.5" r="1.7"/><circle cx="118.4" cy="213.2" r="1.7"/><circle cx="97.2" cy="236.2" r="1.7"/><circle cx="84.1" cy="245.6" r="1.7"/><circle cx="81.6" cy="230.3" r="1.7"/><circle cx="97.5" cy="221.3" r="1.7"/><circle cx="86.4" cy="237.3" r="1.7"/><circle cx="93.7" cy="237.5" r="1.7"/><circle cx="104.9" cy="225.3" r="1.7"/><circle cx="113.9" cy="216.1" r="1.7"/><circle cx="80.3" cy="247.8" r="1.7"/><circle cx="79.8" cy="241.7" r="1.7"/><circle cx="83.3" cy="232.8" r="1.7"/><circle cx="85.8" cy="248.4" r="1.7"/><circle cx="96.4" cy="216.0" r="1.7"/><circle cx="76.1" cy="240.7" r="1.7"/><circle cx="91.7" cy="250.5" r="1.7"/><circle cx="96.8" cy="229.4" r="1.7"/><circle cx="100.4" cy="232.1" r="1.7"/><circle cx="101.5" cy="216.7" r="1.7"/><circle cx="83.7" cy="233.4" r="1.7"/><circle cx="94.2" cy="248.2" r="1.7"/><circle cx="106.5" cy="222.9" r="1.7"/><circle cx="93.8" cy="244.3" r="1.7"/><circle cx="103.8" cy="217.2" r="1.7"/><circle cx="114.2" cy="219.6" r="1.7"/><circle cx="82.1" cy="236.0" r="1.7"/><circle cx="99.5" cy="239.9" r="1.7"/><circle cx="113.4" cy="206.8" r="1.7"/><circle cx="102.1" cy="242.1" r="1.7"/><circle cx="88.4" cy="231.7" r="1.7"/><circle cx="71.4" cy="250.7" r="1.7"/><circle cx="106.5" cy="229.6" r="1.7"/><circle cx="95.9" cy="221.9" r="1.7"/><circle cx="77.4" cy="242.7" r="1.7"/><circle cx="108.2" cy="221.6" r="1.7"/><circle cx="120.2" cy="212.3" r="1.7"/><circle cx="95.7" cy="233.1" r="1.7"/><circle cx="92.9" cy="242.3" r="1.7"/><circle cx="112.0" cy="211.0" r="1.7"/><circle cx="95.8" cy="229.1" r="1.7"/><circle cx="91.3" cy="232.7" r="1.7"/><circle cx="101.4" cy="239.7" r="1.7"/><circle cx="103.1" cy="234.5" r="1.7"/><circle cx="89.6" cy="228.5" r="1.7"/><circle cx="84.7" cy="248.9" r="1.7"/><circle cx="95.1" cy="214.8" r="1.7"/><circle cx="83.8" cy="234.6" r="1.7"/><circle cx="98.7" cy="219.8" r="1.7"/><circle cx="112.3" cy="221.2" r="1.7"/><circle cx="99.0" cy="218.4" r="1.7"/><circle cx="79.0" cy="239.8" r="1.7"/><circle cx="100.9" cy="216.0" r="1.7"/><circle cx="98.0" cy="214.5" r="1.7"/><circle cx="94.6" cy="246.8" r="1.7"/><circle cx="84.0" cy="234.0" r="1.7"/><circle cx="86.2" cy="238.4" r="1.7"/><circle cx="88.7" cy="244.6" r="1.7"/><circle cx="97.9" cy="244.3" r="1.7"/><circle cx="93.3" cy="233.2" r="1.7"/><circle cx="88.5" cy="248.3" r="1.7"/><circle cx="114.4" cy="211.5" r="1.7"/><circle cx="105.3" cy="229.9" r="1.7"/><circle cx="92.4" cy="247.2" r="1.7"/><circle cx="74.6" cy="251.5" r="1.7"/><circle cx="92.9" cy="224.3" r="1.7"/><circle cx="115.2" cy="213.9" r="1.7"/><circle cx="73.9" cy="249.0" r="1.7"/><circle cx="93.7" cy="235.0" r="1.7"/><circle cx="83.2" cy="226.9" r="1.7"/><circle cx="92.8" cy="220.7" r="1.7"/><circle cx="107.4" cy="213.8" r="1.7"/><circle cx="90.6" cy="225.7" r="1.7"/><circle cx="81.2" cy="246.1" r="1.7"/><circle cx="78.0" cy="248.7" r="1.7"/><circle cx="86.9" cy="241.2" r="1.7"/><circle cx="103.2" cy="214.3" r="1.7"/><circle cx="96.1" cy="244.8" r="1.7"/><circle cx="95.5" cy="229.0" r="1.7"/><circle cx="106.7" cy="223.2" r="1.7"/><circle cx="92.9" cy="237.8" r="1.7"/><circle cx="114.4" cy="219.4" r="1.7"/><circle cx="93.6" cy="247.5" r="1.7"/><circle cx="79.0" cy="250.6" r="1.7"/><circle cx="96.3" cy="243.6" r="1.7"/><circle cx="89.3" cy="246.4" r="1.7"/><circle cx="90.4" cy="245.5" r="1.7"/><circle cx="75.0" cy="241.6" r="1.7"/><circle cx="94.2" cy="238.2" r="1.7"/><circle cx="77.3" cy="239.7" r="1.7"/><circle cx="118.6" cy="210.3" r="1.7"/><circle cx="85.6" cy="248.3" r="1.7"/><circle cx="81.5" cy="232.8" r="1.7"/><circle cx="98.5" cy="221.1" r="1.7"/><circle cx="89.8" cy="224.2" r="1.7"/><circle cx="91.4" cy="236.0" r="1.7"/><circle cx="92.6" cy="230.3" r="1.7"/><circle cx="94.9" cy="220.5" r="1.7"/><circle cx="88.5" cy="231.3" r="1.7"/><circle cx="103.3" cy="220.3" r="1.7"/><circle cx="102.4" cy="224.8" r="1.7"/><circle cx="89.4" cy="239.2" r="1.7"/><circle cx="93.9" cy="230.9" r="1.7"/><circle cx="83.7" cy="230.5" r="1.7"/><circle cx="88.5" cy="231.9" r="1.7"/><circle cx="104.7" cy="219.5" r="1.7"/><circle cx="100.3" cy="228.2" r="1.7"/><circle cx="80.3" cy="232.5" r="1.7"/><circle cx="101.4" cy="235.8" r="1.7"/><circle cx="92.9" cy="242.4" r="1.7"/><circle cx="88.0" cy="225.2" r="1.7"/><circle cx="107.7" cy="222.2" r="1.7"/><circle cx="85.5" cy="236.2" r="1.7"/><circle cx="97.2" cy="228.4" r="1.7"/><circle cx="104.8" cy="213.6" r="1.7"/><circle cx="89.7" cy="250.0" r="1.7"/><circle cx="103.4" cy="232.9" r="1.7"/><circle cx="99.2" cy="222.4" r="1.7"/><circle cx="112.8" cy="210.7" r="1.7"/><circle cx="107.9" cy="233.1" r="1.7"/><circle cx="93.1" cy="232.1" r="1.7"/><circle cx="112.5" cy="220.7" r="1.7"/><circle cx="97.9" cy="228.6" r="1.7"/><circle cx="114.8" cy="211.0" r="1.7"/><circle cx="87.6" cy="235.8" r="1.7"/><circle cx="96.0" cy="233.7" r="1.7"/><circle cx="88.6" cy="239.6" r="1.7"/><circle cx="82.2" cy="242.4" r="1.7"/><circle cx="99.5" cy="222.7" r="1.7"/><circle cx="113.7" cy="207.7" r="1.7"/><circle cx="89.2" cy="239.7" r="1.7"/><circle cx="103.7" cy="223.6" r="1.7"/><circle cx="111.1" cy="211.9" r="1.7"/><circle cx="94.8" cy="234.9" r="1.7"/><circle cx="104.5" cy="226.5" r="1.7"/><circle cx="79.5" cy="243.6" r="1.7"/><circle cx="84.7" cy="232.5" r="1.7"/><circle cx="111.3" cy="215.8" r="1.7"/><circle cx="98.0" cy="231.2" r="1.7"/><circle cx="97.1" cy="224.3" r="1.7"/><circle cx="96.5" cy="241.0" r="1.7"/><circle cx="93.7" cy="224.2" r="1.7"/><circle cx="88.7" cy="241.8" r="1.7"/><circle cx="90.6" cy="235.7" r="1.7"/><circle cx="78.8" cy="250.0" r="1.7"/><circle cx="86.7" cy="228.5" r="1.7"/><circle cx="98.0" cy="223.6" r="1.7"/><circle cx="95.0" cy="229.6" r="1.7"/><circle cx="105.7" cy="228.2" r="1.7"/><circle cx="101.9" cy="219.4" r="1.7"/><circle cx="88.9" cy="229.2" r="1.7"/><circle cx="93.9" cy="234.2" r="1.7"/><circle cx="103.9" cy="231.3" r="1.7"/><circle cx="98.2" cy="230.7" r="1.7"/><circle cx="97.2" cy="217.3" r="1.7"/><circle cx="99.2" cy="223.6" r="1.7"/><circle cx="103.6" cy="228.5" r="1.7"/><circle cx="111.1" cy="208.3" r="1.7"/><circle cx="112.3" cy="220.6" r="1.7"/><circle cx="99.3" cy="225.0" r="1.7"/><circle cx="105.7" cy="224.3" r="1.7"/><circle cx="100.1" cy="226.4" r="1.7"/><circle cx="117.6" cy="217.0" r="1.7"/><circle cx="94.2" cy="234.9" r="1.7"/><circle cx="87.1" cy="241.1" r="1.7"/><circle cx="100.0" cy="232.1" r="1.7"/><circle cx="93.7" cy="231.1" r="1.7"/><circle cx="93.2" cy="227.6" r="1.7"/><circle cx="93.5" cy="240.3" r="1.7"/><circle cx="102.5" cy="233.8" r="1.7"/><circle cx="106.1" cy="217.8" r="1.7"/><circle cx="81.0" cy="242.8" r="1.7"/><circle cx="121.5" cy="200.0" r="1.7"/><circle cx="102.3" cy="203.1" r="1.7"/><circle cx="104.6" cy="204.6" r="1.7"/><circle cx="97.7" cy="209.2" r="1.7"/><circle cx="112.3" cy="206.9" r="1.7"/><circle cx="118.5" cy="205.4" r="1.7"/><circle cx="70.5" cy="231.8" r="1.7"/><circle cx="65.8" cy="236.9" r="1.7"/><circle cx="65.4" cy="248.9" r="1.7"/><circle cx="77.7" cy="225.4" r="1.7"/><circle cx="78.5" cy="257.2" r="1.7"/><circle cx="81.5" cy="260.0" r="1.7"/><circle cx="83.8" cy="262.3" r="1.7"/><circle cx="87.7" cy="254.6" r="1.7"/><circle cx="91.5" cy="253.1" r="1.7"/><circle cx="74.6" cy="254.6" r="1.7"/></g>
<line x1="57" y1="195.3" x2="57" y2="268.4" stroke="#111" stroke-width="1.7" stroke-linecap="butt"/>
<line x1="56.2" y1="267.6" x2="135" y2="267.6" stroke="#111" stroke-width="1.7" stroke-linecap="butt"/>
<line x1="52.4" y1="267.3" x2="57" y2="267.3" stroke="#111" stroke-width="1.6" stroke-linecap="butt"/>
<text x="49.4" y="270.9" font-size="10" text-anchor="end" fill="#1a1a1a" stroke="#1a1a1a" stroke-width="0.22" letter-spacing="0.6">8</text>
<line x1="52.4" y1="243.6" x2="57" y2="243.6" stroke="#111" stroke-width="1.6" stroke-linecap="butt"/>
<text x="49.4" y="247.2" font-size="10" text-anchor="end" fill="#1a1a1a" stroke="#1a1a1a" stroke-width="0.22" letter-spacing="0.6">10</text>
<line x1="52.4" y1="219.8" x2="57" y2="219.8" stroke="#111" stroke-width="1.6" stroke-linecap="butt"/>
<text x="49.4" y="223.4" font-size="10" text-anchor="end" fill="#1a1a1a" stroke="#1a1a1a" stroke-width="0.22" letter-spacing="0.6">12</text>
<line x1="52.4" y1="196.1" x2="57" y2="196.1" stroke="#111" stroke-width="1.6" stroke-linecap="butt"/>
<text x="49.4" y="199.7" font-size="10" text-anchor="end" fill="#1a1a1a" stroke="#1a1a1a" stroke-width="0.22" letter-spacing="0.6">14</text>
<line x1="57.1" y1="267.6" x2="57.1" y2="272.1" stroke="#111" stroke-width="1.6" stroke-linecap="butt"/>
<text x="57.4" y="283.8" font-size="10" text-anchor="middle" fill="#1a1a1a" stroke="#1a1a1a" stroke-width="0.22" letter-spacing="0.6">8</text>
<line x1="76.4" y1="267.6" x2="76.4" y2="272.1" stroke="#111" stroke-width="1.6" stroke-linecap="butt"/>
<text x="76.7" y="283.8" font-size="10" text-anchor="middle" fill="#1a1a1a" stroke="#1a1a1a" stroke-width="0.22" letter-spacing="0.6">10</text>
<line x1="95.7" y1="267.6" x2="95.7" y2="272.1" stroke="#111" stroke-width="1.6" stroke-linecap="butt"/>
<text x="96" y="283.8" font-size="10" text-anchor="middle" fill="#1a1a1a" stroke="#1a1a1a" stroke-width="0.22" letter-spacing="0.6">12</text>
<line x1="114.9" y1="267.6" x2="114.9" y2="272.1" stroke="#111" stroke-width="1.6" stroke-linecap="butt"/>
<text x="115.2" y="283.8" font-size="10" text-anchor="middle" fill="#1a1a1a" stroke="#1a1a1a" stroke-width="0.22" letter-spacing="0.6">14</text>
<line x1="134.2" y1="267.6" x2="134.2" y2="272.1" stroke="#111" stroke-width="1.6" stroke-linecap="butt"/>
<text x="134.5" y="283.8" font-size="10" text-anchor="middle" fill="#1a1a1a" stroke="#1a1a1a" stroke-width="0.22" letter-spacing="0.6">16</text>
<text x="53.5" y="180" font-size="10" text-anchor="start" fill="#1a1a1a" stroke="#1a1a1a" stroke-width="0.22" >r = 0.74, <tspan font-style="italic">p</tspan> <tspan font-size="13.5" dy="0.9">&lt;</tspan><tspan dy="-0.9"> 0.0001</tspan></text>
<line x1="221.2" y1="235.8" x2="281.1" y2="237.7" stroke="#000" stroke-width="1.9" stroke-linecap="butt"/>
<g fill="#c8102e"><circle cx="272.9" cy="229.7" r="1.7"/><circle cx="264.2" cy="234.8" r="1.7"/><circle cx="230.8" cy="236.9" r="1.7"/><circle cx="227.7" cy="234.1" r="1.7"/><circle cx="239.6" cy="228.7" r="1.7"/><circle cx="274.5" cy="250.3" r="1.7"/><circle cx="262.9" cy="226.3" r="1.7"/><circle cx="263.7" cy="246.5" r="1.7"/><circle cx="254.8" cy="227.6" r="1.7"/><circle cx="238.9" cy="234.6" r="1.7"/><circle cx="251.2" cy="245.7" r="1.7"/><circle cx="272.0" cy="242.3" r="1.7"/><circle cx="235.4" cy="233.1" r="1.7"/><circle cx="238.2" cy="241.8" r="1.7"/><circle cx="268.9" cy="250.3" r="1.7"/><circle cx="263.6" cy="244.1" r="1.7"/><circle cx="256.0" cy="220.2" r="1.7"/><circle cx="264.5" cy="222.6" r="1.7"/><circle cx="235.7" cy="242.1" r="1.7"/><circle cx="271.0" cy="229.5" r="1.7"/><circle cx="229.6" cy="246.2" r="1.7"/><circle cx="252.3" cy="253.5" r="1.7"/><circle cx="255.7" cy="241.2" r="1.7"/><circle cx="237.2" cy="226.9" r="1.7"/><circle cx="248.4" cy="249.5" r="1.7"/><circle cx="261.8" cy="227.6" r="1.7"/><circle cx="234.8" cy="247.6" r="1.7"/><circle cx="271.0" cy="227.2" r="1.7"/><circle cx="275.0" cy="235.6" r="1.7"/><circle cx="270.2" cy="240.4" r="1.7"/><circle cx="266.0" cy="220.0" r="1.7"/><circle cx="230.4" cy="232.8" r="1.7"/><circle cx="270.5" cy="254.2" r="1.7"/><circle cx="262.8" cy="241.3" r="1.7"/><circle cx="259.3" cy="242.6" r="1.7"/><circle cx="268.2" cy="226.6" r="1.7"/><circle cx="256.9" cy="242.8" r="1.7"/><circle cx="263.6" cy="220.1" r="1.7"/><circle cx="263.2" cy="255.3" r="1.7"/><circle cx="256.0" cy="224.0" r="1.7"/><circle cx="253.4" cy="229.2" r="1.7"/><circle cx="266.2" cy="240.4" r="1.7"/><circle cx="230.7" cy="226.6" r="1.7"/><circle cx="267.3" cy="249.8" r="1.7"/><circle cx="229.9" cy="241.0" r="1.7"/><circle cx="262.2" cy="229.1" r="1.7"/><circle cx="232.6" cy="234.7" r="1.7"/><circle cx="272.8" cy="248.2" r="1.7"/><circle cx="238.0" cy="252.2" r="1.7"/><circle cx="260.5" cy="227.4" r="1.7"/><circle cx="241.8" cy="224.3" r="1.7"/><circle cx="245.9" cy="230.6" r="1.7"/><circle cx="266.0" cy="236.5" r="1.7"/><circle cx="274.7" cy="245.2" r="1.7"/><circle cx="274.3" cy="248.6" r="1.7"/><circle cx="259.3" cy="246.4" r="1.7"/><circle cx="266.6" cy="249.9" r="1.7"/><circle cx="270.8" cy="231.8" r="1.7"/><circle cx="247.2" cy="226.6" r="1.7"/><circle cx="251.3" cy="235.5" r="1.7"/><circle cx="261.4" cy="258.6" r="1.7"/><circle cx="259.5" cy="236.7" r="1.7"/><circle cx="265.6" cy="253.5" r="1.7"/><circle cx="269.4" cy="231.2" r="1.7"/><circle cx="254.0" cy="256.2" r="1.7"/><circle cx="251.3" cy="250.3" r="1.7"/><circle cx="254.1" cy="249.9" r="1.7"/><circle cx="231.2" cy="234.2" r="1.7"/><circle cx="267.6" cy="238.1" r="1.7"/><circle cx="270.0" cy="234.4" r="1.7"/><circle cx="251.9" cy="231.8" r="1.7"/><circle cx="241.2" cy="230.9" r="1.7"/><circle cx="247.4" cy="238.0" r="1.7"/><circle cx="253.5" cy="246.7" r="1.7"/><circle cx="267.4" cy="255.5" r="1.7"/><circle cx="259.9" cy="225.8" r="1.7"/><circle cx="256.5" cy="234.8" r="1.7"/><circle cx="239.0" cy="230.9" r="1.7"/><circle cx="239.5" cy="238.1" r="1.7"/><circle cx="230.4" cy="237.0" r="1.7"/><circle cx="252.9" cy="217.0" r="1.7"/><circle cx="257.7" cy="243.2" r="1.7"/><circle cx="234.5" cy="235.3" r="1.7"/><circle cx="237.2" cy="241.2" r="1.7"/><circle cx="270.2" cy="227.9" r="1.7"/><circle cx="237.2" cy="223.4" r="1.7"/><circle cx="256.6" cy="220.4" r="1.7"/><circle cx="252.6" cy="248.3" r="1.7"/><circle cx="263.4" cy="247.3" r="1.7"/><circle cx="227.1" cy="234.5" r="1.7"/><circle cx="238.4" cy="238.1" r="1.7"/><circle cx="234.5" cy="221.9" r="1.7"/><circle cx="229.0" cy="228.9" r="1.7"/><circle cx="249.3" cy="245.9" r="1.7"/><circle cx="248.8" cy="252.9" r="1.7"/><circle cx="245.2" cy="226.0" r="1.7"/><circle cx="234.3" cy="240.9" r="1.7"/><circle cx="254.8" cy="251.0" r="1.7"/><circle cx="234.2" cy="251.9" r="1.7"/><circle cx="274.2" cy="248.9" r="1.7"/><circle cx="232.5" cy="221.4" r="1.7"/><circle cx="231.0" cy="230.0" r="1.7"/><circle cx="266.2" cy="225.4" r="1.7"/><circle cx="259.7" cy="220.5" r="1.7"/><circle cx="266.2" cy="241.5" r="1.7"/><circle cx="235.1" cy="245.5" r="1.7"/><circle cx="245.0" cy="238.8" r="1.7"/><circle cx="253.1" cy="227.9" r="1.7"/><circle cx="245.6" cy="250.2" r="1.7"/><circle cx="268.5" cy="251.2" r="1.7"/><circle cx="254.7" cy="251.8" r="1.7"/><circle cx="264.9" cy="230.6" r="1.7"/><circle cx="268.5" cy="256.3" r="1.7"/><circle cx="235.8" cy="246.2" r="1.7"/><circle cx="230.2" cy="244.9" r="1.7"/><circle cx="228.7" cy="234.9" r="1.7"/><circle cx="270.6" cy="229.9" r="1.7"/><circle cx="274.7" cy="236.5" r="1.7"/><circle cx="236.5" cy="238.5" r="1.7"/><circle cx="254.5" cy="225.1" r="1.7"/><circle cx="251.6" cy="226.3" r="1.7"/><circle cx="243.8" cy="228.8" r="1.7"/><circle cx="255.2" cy="231.3" r="1.7"/><circle cx="257.2" cy="240.1" r="1.7"/><circle cx="248.5" cy="247.4" r="1.7"/><circle cx="255.1" cy="253.6" r="1.7"/><circle cx="256.2" cy="252.5" r="1.7"/><circle cx="272.6" cy="246.3" r="1.7"/><circle cx="242.0" cy="236.0" r="1.7"/><circle cx="230.4" cy="246.3" r="1.7"/><circle cx="258.4" cy="249.2" r="1.7"/><circle cx="261.3" cy="246.9" r="1.7"/><circle cx="242.9" cy="230.5" r="1.7"/><circle cx="245.3" cy="249.3" r="1.7"/><circle cx="260.5" cy="243.1" r="1.7"/><circle cx="246.3" cy="225.0" r="1.7"/><circle cx="275.3" cy="252.7" r="1.7"/><circle cx="255.4" cy="239.7" r="1.7"/><circle cx="264.8" cy="249.7" r="1.7"/><circle cx="236.9" cy="248.9" r="1.7"/><circle cx="260.6" cy="229.9" r="1.7"/><circle cx="242.4" cy="222.6" r="1.7"/><circle cx="257.5" cy="254.9" r="1.7"/><circle cx="270.4" cy="245.6" r="1.7"/><circle cx="247.9" cy="236.2" r="1.7"/><circle cx="267.5" cy="241.5" r="1.7"/><circle cx="257.2" cy="243.7" r="1.7"/><circle cx="250.3" cy="244.9" r="1.7"/><circle cx="256.1" cy="248.8" r="1.7"/><circle cx="276.7" cy="236.7" r="1.7"/><circle cx="252.7" cy="227.4" r="1.7"/><circle cx="247.9" cy="227.7" r="1.7"/><circle cx="251.6" cy="231.1" r="1.7"/><circle cx="257.1" cy="240.2" r="1.7"/><circle cx="254.7" cy="236.9" r="1.7"/><circle cx="232.9" cy="234.1" r="1.7"/><circle cx="261.8" cy="247.1" r="1.7"/><circle cx="243.2" cy="245.6" r="1.7"/><circle cx="235.1" cy="229.6" r="1.7"/><circle cx="239.4" cy="245.0" r="1.7"/><circle cx="252.7" cy="241.5" r="1.7"/><circle cx="282.8" cy="239.7" r="1.7"/><circle cx="240.1" cy="222.4" r="1.7"/><circle cx="257.9" cy="241.6" r="1.7"/><circle cx="246.3" cy="249.5" r="1.7"/><circle cx="270.2" cy="240.5" r="1.7"/><circle cx="246.3" cy="227.6" r="1.7"/><circle cx="252.8" cy="252.0" r="1.7"/><circle cx="239.4" cy="240.8" r="1.7"/><circle cx="278.2" cy="243.1" r="1.7"/><circle cx="250.0" cy="233.5" r="1.7"/><circle cx="250.1" cy="260.4" r="1.7"/><circle cx="256.3" cy="230.7" r="1.7"/><circle cx="251.5" cy="237.5" r="1.7"/><circle cx="255.3" cy="237.1" r="1.7"/><circle cx="245.8" cy="236.3" r="1.7"/><circle cx="261.9" cy="239.5" r="1.7"/><circle cx="248.3" cy="233.8" r="1.7"/><circle cx="240.1" cy="241.7" r="1.7"/><circle cx="261.8" cy="242.0" r="1.7"/><circle cx="231.0" cy="245.7" r="1.7"/><circle cx="253.4" cy="245.9" r="1.7"/><circle cx="262.7" cy="225.5" r="1.7"/><circle cx="246.0" cy="238.5" r="1.7"/><circle cx="248.4" cy="235.0" r="1.7"/><circle cx="252.6" cy="234.5" r="1.7"/><circle cx="246.4" cy="243.3" r="1.7"/><circle cx="251.9" cy="243.1" r="1.7"/><circle cx="271.9" cy="236.2" r="1.7"/><circle cx="234.6" cy="246.6" r="1.7"/><circle cx="250.7" cy="235.7" r="1.7"/><circle cx="266.3" cy="242.2" r="1.7"/><circle cx="250.2" cy="227.6" r="1.7"/><circle cx="245.7" cy="240.7" r="1.7"/><circle cx="252.1" cy="229.4" r="1.7"/><circle cx="248.6" cy="227.0" r="1.7"/><circle cx="241.1" cy="234.2" r="1.7"/><circle cx="262.9" cy="250.2" r="1.7"/><circle cx="242.8" cy="230.9" r="1.7"/><circle cx="233.1" cy="228.0" r="1.7"/><circle cx="249.0" cy="244.6" r="1.7"/><circle cx="275.3" cy="248.5" r="1.7"/><circle cx="254.6" cy="238.7" r="1.7"/><circle cx="264.5" cy="243.5" r="1.7"/><circle cx="266.6" cy="234.1" r="1.7"/><circle cx="260.5" cy="231.3" r="1.7"/><circle cx="242.8" cy="224.9" r="1.7"/><circle cx="262.4" cy="238.4" r="1.7"/><circle cx="252.0" cy="243.1" r="1.7"/><circle cx="246.3" cy="232.6" r="1.7"/><circle cx="254.9" cy="240.4" r="1.7"/><circle cx="242.1" cy="243.3" r="1.7"/><circle cx="260.9" cy="225.6" r="1.7"/><circle cx="231.1" cy="240.9" r="1.7"/><circle cx="249.7" cy="239.7" r="1.7"/><circle cx="259.5" cy="234.0" r="1.7"/><circle cx="258.1" cy="239.2" r="1.7"/><circle cx="261.8" cy="229.4" r="1.7"/><circle cx="253.0" cy="243.9" r="1.7"/><circle cx="258.9" cy="239.1" r="1.7"/><circle cx="274.3" cy="243.1" r="1.7"/><circle cx="251.9" cy="209.2" r="1.7"/><circle cx="265.8" cy="212.0" r="1.7"/><circle cx="225.8" cy="217.7" r="1.7"/><circle cx="231.9" cy="220.8" r="1.7"/><circle cx="275.0" cy="217.4" r="1.7"/><circle cx="281.9" cy="225.4" r="1.7"/><circle cx="222.4" cy="244.2" r="1.7"/><circle cx="221.9" cy="249.2" r="1.7"/><circle cx="226.5" cy="252.3" r="1.7"/><circle cx="278.8" cy="248.5" r="1.7"/><circle cx="278.1" cy="230.8" r="1.7"/><circle cx="256.5" cy="262.3" r="1.7"/><circle cx="250.4" cy="257.7" r="1.7"/><circle cx="273.5" cy="259.2" r="1.7"/></g>
<line x1="212.9" y1="196.4" x2="212.9" y2="271.8" stroke="#111" stroke-width="1.7" stroke-linecap="butt"/>
<line x1="212.1" y1="271" x2="295.6" y2="271" stroke="#111" stroke-width="1.7" stroke-linecap="butt"/>
<line x1="208.3" y1="270.8" x2="212.9" y2="270.8" stroke="#111" stroke-width="1.6" stroke-linecap="butt"/>
<text x="205.3" y="274.4" font-size="10" text-anchor="end" fill="#1a1a1a" stroke="#1a1a1a" stroke-width="0.22" letter-spacing="0.6">0</text>
<line x1="208.3" y1="256.1" x2="212.9" y2="256.1" stroke="#111" stroke-width="1.6" stroke-linecap="butt"/>
<text x="205.3" y="259.7" font-size="10" text-anchor="end" fill="#1a1a1a" stroke="#1a1a1a" stroke-width="0.22" letter-spacing="0.6">2</text>
<line x1="208.3" y1="241.4" x2="212.9" y2="241.4" stroke="#111" stroke-width="1.6" stroke-linecap="butt"/>
<text x="205.3" y="245" font-size="10" text-anchor="end" fill="#1a1a1a" stroke="#1a1a1a" stroke-width="0.22" letter-spacing="0.6">4</text>
<line x1="208.3" y1="226.6" x2="212.9" y2="226.6" stroke="#111" stroke-width="1.6" stroke-linecap="butt"/>
<text x="205.3" y="230.2" font-size="10" text-anchor="end" fill="#1a1a1a" stroke="#1a1a1a" stroke-width="0.22" letter-spacing="0.6">6</text>
<line x1="208.3" y1="211.9" x2="212.9" y2="211.9" stroke="#111" stroke-width="1.6" stroke-linecap="butt"/>
<text x="205.3" y="215.5" font-size="10" text-anchor="end" fill="#1a1a1a" stroke="#1a1a1a" stroke-width="0.22" letter-spacing="0.6">8</text>
<line x1="208.3" y1="197.2" x2="212.9" y2="197.2" stroke="#111" stroke-width="1.6" stroke-linecap="butt"/>
<text x="205.3" y="200.8" font-size="10" text-anchor="end" fill="#1a1a1a" stroke="#1a1a1a" stroke-width="0.22" letter-spacing="0.6">10</text>
<line x1="212.6" y1="271" x2="212.6" y2="275.5" stroke="#111" stroke-width="1.6" stroke-linecap="butt"/>
<text x="212.9" y="287.2" font-size="10" text-anchor="middle" fill="#1a1a1a" stroke="#1a1a1a" stroke-width="0.22" letter-spacing="0.6">8</text>
<line x1="233.2" y1="271" x2="233.2" y2="275.5" stroke="#111" stroke-width="1.6" stroke-linecap="butt"/>
<text x="233.5" y="287.2" font-size="10" text-anchor="middle" fill="#1a1a1a" stroke="#1a1a1a" stroke-width="0.22" letter-spacing="0.6">10</text>
<line x1="253.7" y1="271" x2="253.7" y2="275.5" stroke="#111" stroke-width="1.6" stroke-linecap="butt"/>
<text x="254" y="287.2" font-size="10" text-anchor="middle" fill="#1a1a1a" stroke="#1a1a1a" stroke-width="0.22" letter-spacing="0.6">12</text>
<line x1="274.2" y1="271" x2="274.2" y2="275.5" stroke="#111" stroke-width="1.6" stroke-linecap="butt"/>
<text x="274.6" y="287.2" font-size="10" text-anchor="middle" fill="#1a1a1a" stroke="#1a1a1a" stroke-width="0.22" letter-spacing="0.6">14</text>
<line x1="294.8" y1="271" x2="294.8" y2="275.5" stroke="#111" stroke-width="1.6" stroke-linecap="butt"/>
<text x="295.1" y="287.2" font-size="10" text-anchor="middle" fill="#1a1a1a" stroke="#1a1a1a" stroke-width="0.22" letter-spacing="0.6">16</text>
<text x="211.5" y="183.5" font-size="10" text-anchor="start" fill="#1a1a1a" stroke="#1a1a1a" stroke-width="0.22" >r = −0.03, <tspan font-style="italic">p</tspan> = 0.63</text>
<line x1="384.2" y1="248.2" x2="443.4" y2="215.4" stroke="#000" stroke-width="1.9" stroke-linecap="butt"/>
<g fill="#c8102e"><circle cx="427.7" cy="222.1" r="1.7"/><circle cx="425.5" cy="235.1" r="1.7"/><circle cx="402.7" cy="240.6" r="1.7"/><circle cx="422.2" cy="223.3" r="1.7"/><circle cx="409.2" cy="228.1" r="1.7"/><circle cx="431.2" cy="215.4" r="1.7"/><circle cx="397.8" cy="236.8" r="1.7"/><circle cx="396.8" cy="231.0" r="1.7"/><circle cx="421.0" cy="236.6" r="1.7"/><circle cx="419.7" cy="224.9" r="1.7"/><circle cx="410.2" cy="239.2" r="1.7"/><circle cx="401.2" cy="232.6" r="1.7"/><circle cx="424.0" cy="219.9" r="1.7"/><circle cx="432.9" cy="220.9" r="1.7"/><circle cx="400.9" cy="234.3" r="1.7"/><circle cx="412.3" cy="241.8" r="1.7"/><circle cx="417.6" cy="222.8" r="1.7"/><circle cx="422.6" cy="230.4" r="1.7"/><circle cx="396.8" cy="245.7" r="1.7"/><circle cx="408.9" cy="222.9" r="1.7"/><circle cx="436.2" cy="220.8" r="1.7"/><circle cx="415.8" cy="223.9" r="1.7"/><circle cx="425.1" cy="221.2" r="1.7"/><circle cx="397.4" cy="236.6" r="1.7"/><circle cx="405.6" cy="226.3" r="1.7"/><circle cx="405.0" cy="227.4" r="1.7"/><circle cx="406.7" cy="228.4" r="1.7"/><circle cx="428.3" cy="218.5" r="1.7"/><circle cx="423.8" cy="223.6" r="1.7"/><circle cx="433.2" cy="216.6" r="1.7"/><circle cx="403.7" cy="239.8" r="1.7"/><circle cx="404.2" cy="241.3" r="1.7"/><circle cx="397.0" cy="231.5" r="1.7"/><circle cx="417.1" cy="228.6" r="1.7"/><circle cx="404.4" cy="246.3" r="1.7"/><circle cx="409.7" cy="234.5" r="1.7"/><circle cx="421.5" cy="235.1" r="1.7"/><circle cx="426.3" cy="213.4" r="1.7"/><circle cx="433.4" cy="214.4" r="1.7"/><circle cx="394.5" cy="238.0" r="1.7"/><circle cx="433.2" cy="218.1" r="1.7"/><circle cx="430.4" cy="221.0" r="1.7"/><circle cx="429.7" cy="227.9" r="1.7"/><circle cx="419.4" cy="233.3" r="1.7"/><circle cx="410.6" cy="228.1" r="1.7"/><circle cx="423.1" cy="217.1" r="1.7"/><circle cx="407.4" cy="237.5" r="1.7"/><circle cx="416.1" cy="225.4" r="1.7"/><circle cx="427.8" cy="222.5" r="1.7"/><circle cx="398.5" cy="233.5" r="1.7"/><circle cx="407.7" cy="229.2" r="1.7"/><circle cx="435.7" cy="219.4" r="1.7"/><circle cx="402.9" cy="236.3" r="1.7"/><circle cx="421.8" cy="219.9" r="1.7"/><circle cx="416.2" cy="223.8" r="1.7"/><circle cx="430.0" cy="225.7" r="1.7"/><circle cx="404.1" cy="243.7" r="1.7"/><circle cx="415.9" cy="235.2" r="1.7"/><circle cx="402.8" cy="235.6" r="1.7"/><circle cx="426.9" cy="234.0" r="1.7"/><circle cx="420.7" cy="231.0" r="1.7"/><circle cx="400.3" cy="236.7" r="1.7"/><circle cx="421.8" cy="242.1" r="1.7"/><circle cx="423.8" cy="231.5" r="1.7"/><circle cx="423.0" cy="216.2" r="1.7"/><circle cx="401.9" cy="233.2" r="1.7"/><circle cx="424.2" cy="228.5" r="1.7"/><circle cx="400.8" cy="243.0" r="1.7"/><circle cx="413.6" cy="237.5" r="1.7"/><circle cx="418.4" cy="235.2" r="1.7"/><circle cx="394.7" cy="237.3" r="1.7"/><circle cx="410.1" cy="228.0" r="1.7"/><circle cx="408.8" cy="243.7" r="1.7"/><circle cx="426.0" cy="218.9" r="1.7"/><circle cx="412.5" cy="228.5" r="1.7"/><circle cx="431.4" cy="224.5" r="1.7"/><circle cx="424.2" cy="235.1" r="1.7"/><circle cx="417.9" cy="235.4" r="1.7"/><circle cx="413.0" cy="233.5" r="1.7"/><circle cx="413.5" cy="242.9" r="1.7"/><circle cx="395.1" cy="240.9" r="1.7"/><circle cx="425.7" cy="224.7" r="1.7"/><circle cx="415.7" cy="228.5" r="1.7"/><circle cx="428.6" cy="230.1" r="1.7"/><circle cx="424.5" cy="220.2" r="1.7"/><circle cx="393.6" cy="235.5" r="1.7"/><circle cx="436.8" cy="217.2" r="1.7"/><circle cx="422.0" cy="222.3" r="1.7"/><circle cx="425.1" cy="228.0" r="1.7"/><circle cx="432.1" cy="223.9" r="1.7"/><circle cx="406.0" cy="235.1" r="1.7"/><circle cx="398.5" cy="236.5" r="1.7"/><circle cx="411.3" cy="228.0" r="1.7"/><circle cx="420.1" cy="228.2" r="1.7"/><circle cx="400.3" cy="234.8" r="1.7"/><circle cx="432.0" cy="223.2" r="1.7"/><circle cx="416.9" cy="221.5" r="1.7"/><circle cx="411.0" cy="229.7" r="1.7"/><circle cx="392.9" cy="238.2" r="1.7"/><circle cx="408.4" cy="235.2" r="1.7"/><circle cx="425.8" cy="232.4" r="1.7"/><circle cx="407.9" cy="236.7" r="1.7"/><circle cx="427.3" cy="231.3" r="1.7"/><circle cx="425.9" cy="218.0" r="1.7"/><circle cx="412.0" cy="240.9" r="1.7"/><circle cx="418.0" cy="220.8" r="1.7"/><circle cx="416.2" cy="239.5" r="1.7"/><circle cx="436.6" cy="214.9" r="1.7"/><circle cx="427.2" cy="230.9" r="1.7"/><circle cx="402.4" cy="240.3" r="1.7"/><circle cx="411.1" cy="235.2" r="1.7"/><circle cx="432.0" cy="220.2" r="1.7"/><circle cx="434.4" cy="213.6" r="1.7"/><circle cx="417.3" cy="228.3" r="1.7"/><circle cx="422.8" cy="232.8" r="1.7"/><circle cx="417.9" cy="231.6" r="1.7"/><circle cx="404.3" cy="230.5" r="1.7"/><circle cx="426.1" cy="232.5" r="1.7"/><circle cx="424.5" cy="230.5" r="1.7"/><circle cx="427.6" cy="227.8" r="1.7"/><circle cx="408.6" cy="233.4" r="1.7"/><circle cx="422.0" cy="230.1" r="1.7"/><circle cx="407.0" cy="226.2" r="1.7"/><circle cx="405.4" cy="234.3" r="1.7"/><circle cx="393.3" cy="239.4" r="1.7"/><circle cx="394.7" cy="238.0" r="1.7"/><circle cx="397.7" cy="232.5" r="1.7"/><circle cx="407.9" cy="242.3" r="1.7"/><circle cx="406.8" cy="234.1" r="1.7"/><circle cx="436.9" cy="216.9" r="1.7"/><circle cx="426.0" cy="216.1" r="1.7"/><circle cx="397.9" cy="239.9" r="1.7"/><circle cx="412.8" cy="224.7" r="1.7"/><circle cx="412.5" cy="228.5" r="1.7"/><circle cx="410.5" cy="226.1" r="1.7"/><circle cx="422.6" cy="223.2" r="1.7"/><circle cx="424.2" cy="224.1" r="1.7"/><circle cx="425.6" cy="230.4" r="1.7"/><circle cx="425.4" cy="220.9" r="1.7"/><circle cx="418.8" cy="235.3" r="1.7"/><circle cx="409.6" cy="229.5" r="1.7"/><circle cx="430.2" cy="226.5" r="1.7"/><circle cx="416.3" cy="231.9" r="1.7"/><circle cx="415.4" cy="237.3" r="1.7"/><circle cx="428.3" cy="228.7" r="1.7"/><circle cx="423.3" cy="229.4" r="1.7"/><circle cx="401.5" cy="232.0" r="1.7"/><circle cx="408.9" cy="229.3" r="1.7"/><circle cx="419.3" cy="227.8" r="1.7"/><circle cx="422.9" cy="219.8" r="1.7"/><circle cx="414.1" cy="235.9" r="1.7"/><circle cx="418.0" cy="223.1" r="1.7"/><circle cx="399.8" cy="245.2" r="1.7"/><circle cx="411.6" cy="226.2" r="1.7"/><circle cx="420.7" cy="229.3" r="1.7"/><circle cx="427.1" cy="229.6" r="1.7"/><circle cx="416.3" cy="231.6" r="1.7"/><circle cx="423.4" cy="220.2" r="1.7"/><circle cx="421.6" cy="227.7" r="1.7"/><circle cx="417.3" cy="228.0" r="1.7"/><circle cx="416.3" cy="231.3" r="1.7"/><circle cx="404.1" cy="235.0" r="1.7"/><circle cx="423.2" cy="224.9" r="1.7"/><circle cx="401.5" cy="231.9" r="1.7"/><circle cx="416.7" cy="228.6" r="1.7"/><circle cx="414.6" cy="232.4" r="1.7"/><circle cx="422.2" cy="226.1" r="1.7"/><circle cx="411.3" cy="235.6" r="1.7"/><circle cx="411.6" cy="235.1" r="1.7"/><circle cx="418.2" cy="230.2" r="1.7"/><circle cx="406.7" cy="232.4" r="1.7"/><circle cx="412.8" cy="224.5" r="1.7"/><circle cx="417.8" cy="226.3" r="1.7"/><circle cx="425.4" cy="224.8" r="1.7"/><circle cx="421.6" cy="223.2" r="1.7"/><circle cx="415.7" cy="227.0" r="1.7"/><circle cx="403.0" cy="233.4" r="1.7"/><circle cx="410.7" cy="226.7" r="1.7"/><circle cx="418.7" cy="226.7" r="1.7"/><circle cx="417.2" cy="228.8" r="1.7"/><circle cx="416.9" cy="232.5" r="1.7"/><circle cx="416.9" cy="228.6" r="1.7"/><circle cx="423.6" cy="233.5" r="1.7"/><circle cx="405.5" cy="238.5" r="1.7"/><circle cx="409.1" cy="228.6" r="1.7"/><circle cx="418.1" cy="229.5" r="1.7"/><circle cx="415.2" cy="227.0" r="1.7"/><circle cx="421.4" cy="227.8" r="1.7"/><circle cx="408.7" cy="225.2" r="1.7"/><circle cx="416.0" cy="233.7" r="1.7"/><circle cx="421.2" cy="227.4" r="1.7"/><circle cx="428.3" cy="224.6" r="1.7"/><circle cx="422.6" cy="220.1" r="1.7"/><circle cx="422.7" cy="235.0" r="1.7"/><circle cx="415.8" cy="223.0" r="1.7"/><circle cx="414.4" cy="232.8" r="1.7"/><circle cx="401.4" cy="233.8" r="1.7"/><circle cx="427.4" cy="219.8" r="1.7"/><circle cx="414.6" cy="233.7" r="1.7"/><circle cx="405.5" cy="230.5" r="1.7"/><circle cx="422.8" cy="225.5" r="1.7"/><circle cx="410.4" cy="234.8" r="1.7"/><circle cx="417.9" cy="223.5" r="1.7"/><circle cx="409.8" cy="237.2" r="1.7"/><circle cx="393.7" cy="238.2" r="1.7"/><circle cx="401.2" cy="230.4" r="1.7"/><circle cx="421.5" cy="226.1" r="1.7"/><circle cx="419.0" cy="224.1" r="1.7"/><circle cx="418.7" cy="226.8" r="1.7"/><circle cx="420.7" cy="228.6" r="1.7"/><circle cx="416.8" cy="230.1" r="1.7"/><circle cx="405.5" cy="235.9" r="1.7"/><circle cx="412.0" cy="230.3" r="1.7"/><circle cx="415.6" cy="232.2" r="1.7"/><circle cx="426.3" cy="231.5" r="1.7"/><circle cx="405.8" cy="241.6" r="1.7"/><circle cx="435.7" cy="206.2" r="1.7"/><circle cx="441.1" cy="206.2" r="1.7"/><circle cx="438.8" cy="210.0" r="1.7"/><circle cx="443.4" cy="213.8" r="1.7"/><circle cx="441.1" cy="219.2" r="1.7"/><circle cx="401.8" cy="218.5" r="1.7"/><circle cx="418.0" cy="213.1" r="1.7"/><circle cx="412.6" cy="217.4" r="1.7"/><circle cx="388.0" cy="227.2" r="1.7"/><circle cx="389.5" cy="230.0" r="1.7"/><circle cx="383.4" cy="254.9" r="1.7"/><circle cx="384.5" cy="256.9" r="1.7"/><circle cx="393.4" cy="262.3" r="1.7"/><circle cx="397.2" cy="259.5" r="1.7"/><circle cx="401.8" cy="253.1" r="1.7"/><circle cx="409.5" cy="250.3" r="1.7"/><circle cx="414.2" cy="250.0" r="1.7"/><circle cx="388.8" cy="240.8" r="1.7"/><circle cx="391.1" cy="248.5" r="1.7"/></g>
<line x1="374.8" y1="198" x2="374.8" y2="268.8" stroke="#111" stroke-width="1.7" stroke-linecap="butt"/>
<line x1="374" y1="268" x2="457" y2="268" stroke="#111" stroke-width="1.7" stroke-linecap="butt"/>
<line x1="370.2" y1="257.4" x2="374.8" y2="257.4" stroke="#111" stroke-width="1.6" stroke-linecap="butt"/>
<text x="367.2" y="261" font-size="10" text-anchor="end" fill="#1a1a1a" stroke="#1a1a1a" stroke-width="0.22" letter-spacing="0.6">8</text>
<line x1="370.2" y1="237.9" x2="374.8" y2="237.9" stroke="#111" stroke-width="1.6" stroke-linecap="butt"/>
<text x="367.2" y="241.5" font-size="10" text-anchor="end" fill="#1a1a1a" stroke="#1a1a1a" stroke-width="0.22" letter-spacing="0.6">10</text>
<line x1="370.2" y1="218.3" x2="374.8" y2="218.3" stroke="#111" stroke-width="1.6" stroke-linecap="butt"/>
<text x="367.2" y="221.9" font-size="10" text-anchor="end" fill="#1a1a1a" stroke="#1a1a1a" stroke-width="0.22" letter-spacing="0.6">12</text>
<line x1="370.2" y1="198.8" x2="374.8" y2="198.8" stroke="#111" stroke-width="1.6" stroke-linecap="butt"/>
<text x="367.2" y="202.4" font-size="10" text-anchor="end" fill="#1a1a1a" stroke="#1a1a1a" stroke-width="0.22" letter-spacing="0.6">14</text>
<line x1="375" y1="268" x2="375" y2="272.5" stroke="#111" stroke-width="1.6" stroke-linecap="butt"/>
<text x="375.3" y="284.2" font-size="10" text-anchor="middle" fill="#1a1a1a" stroke="#1a1a1a" stroke-width="0.22" letter-spacing="0.6">8</text>
<line x1="395.3" y1="268" x2="395.3" y2="272.5" stroke="#111" stroke-width="1.6" stroke-linecap="butt"/>
<text x="395.6" y="284.2" font-size="10" text-anchor="middle" fill="#1a1a1a" stroke="#1a1a1a" stroke-width="0.22" letter-spacing="0.6">10</text>
<line x1="415.6" y1="268" x2="415.6" y2="272.5" stroke="#111" stroke-width="1.6" stroke-linecap="butt"/>
<text x="415.9" y="284.2" font-size="10" text-anchor="middle" fill="#1a1a1a" stroke="#1a1a1a" stroke-width="0.22" letter-spacing="0.6">12</text>
<line x1="435.9" y1="268" x2="435.9" y2="272.5" stroke="#111" stroke-width="1.6" stroke-linecap="butt"/>
<text x="436.2" y="284.2" font-size="10" text-anchor="middle" fill="#1a1a1a" stroke="#1a1a1a" stroke-width="0.22" letter-spacing="0.6">14</text>
<line x1="456.2" y1="268" x2="456.2" y2="272.5" stroke="#111" stroke-width="1.6" stroke-linecap="butt"/>
<text x="456.5" y="284.2" font-size="10" text-anchor="middle" fill="#1a1a1a" stroke="#1a1a1a" stroke-width="0.22" letter-spacing="0.6">16</text>
<text x="371" y="181.2" font-size="10" text-anchor="start" fill="#1a1a1a" stroke="#1a1a1a" stroke-width="0.22" >r = 0.65, <tspan font-style="italic">p</tspan> <tspan font-size="13.5" dy="0.9">&lt;</tspan><tspan dy="-0.9"> 0.0001</tspan></text>
<line x1="66.2" y1="414.6" x2="130.8" y2="360" stroke="#000" stroke-width="1.9" stroke-linecap="butt"/>
<g fill="#c8102e"><circle cx="88.6" cy="390.6" r="1.7"/><circle cx="116.0" cy="368.4" r="1.7"/><circle cx="86.7" cy="392.3" r="1.7"/><circle cx="108.9" cy="365.5" r="1.7"/><circle cx="111.4" cy="362.4" r="1.7"/><circle cx="97.9" cy="394.4" r="1.7"/><circle cx="89.3" cy="389.5" r="1.7"/><circle cx="94.5" cy="403.9" r="1.7"/><circle cx="94.9" cy="382.7" r="1.7"/><circle cx="108.5" cy="386.8" r="1.7"/><circle cx="115.5" cy="381.3" r="1.7"/><circle cx="116.1" cy="359.4" r="1.7"/><circle cx="105.9" cy="387.6" r="1.7"/><circle cx="122.2" cy="368.6" r="1.7"/><circle cx="106.8" cy="385.0" r="1.7"/><circle cx="97.4" cy="380.2" r="1.7"/><circle cx="91.6" cy="386.3" r="1.7"/><circle cx="93.9" cy="383.7" r="1.7"/><circle cx="95.2" cy="381.6" r="1.7"/><circle cx="114.6" cy="359.6" r="1.7"/><circle cx="118.9" cy="356.2" r="1.7"/><circle cx="116.8" cy="371.1" r="1.7"/><circle cx="115.1" cy="364.7" r="1.7"/><circle cx="90.4" cy="391.3" r="1.7"/><circle cx="113.3" cy="376.6" r="1.7"/><circle cx="90.6" cy="402.0" r="1.7"/><circle cx="83.7" cy="395.2" r="1.7"/><circle cx="123.2" cy="360.4" r="1.7"/><circle cx="99.4" cy="374.7" r="1.7"/><circle cx="93.3" cy="387.4" r="1.7"/><circle cx="107.1" cy="370.6" r="1.7"/><circle cx="82.7" cy="393.8" r="1.7"/><circle cx="107.8" cy="375.3" r="1.7"/><circle cx="124.5" cy="362.8" r="1.7"/><circle cx="115.7" cy="356.7" r="1.7"/><circle cx="98.0" cy="394.1" r="1.7"/><circle cx="101.1" cy="373.3" r="1.7"/><circle cx="94.3" cy="385.0" r="1.7"/><circle cx="90.8" cy="402.8" r="1.7"/><circle cx="102.8" cy="391.3" r="1.7"/><circle cx="112.3" cy="375.5" r="1.7"/><circle cx="118.6" cy="356.9" r="1.7"/><circle cx="109.4" cy="383.6" r="1.7"/><circle cx="97.7" cy="402.1" r="1.7"/><circle cx="115.2" cy="369.8" r="1.7"/><circle cx="90.2" cy="401.2" r="1.7"/><circle cx="97.7" cy="381.9" r="1.7"/><circle cx="122.6" cy="360.6" r="1.7"/><circle cx="98.4" cy="380.9" r="1.7"/><circle cx="115.0" cy="370.2" r="1.7"/><circle cx="81.3" cy="393.9" r="1.7"/><circle cx="102.8" cy="383.2" r="1.7"/><circle cx="97.9" cy="378.2" r="1.7"/><circle cx="91.0" cy="404.5" r="1.7"/><circle cx="114.8" cy="373.8" r="1.7"/><circle cx="115.7" cy="360.9" r="1.7"/><circle cx="111.8" cy="364.7" r="1.7"/><circle cx="119.4" cy="359.2" r="1.7"/><circle cx="90.8" cy="393.3" r="1.7"/><circle cx="96.4" cy="401.0" r="1.7"/><circle cx="94.2" cy="391.7" r="1.7"/><circle cx="83.9" cy="398.6" r="1.7"/><circle cx="99.6" cy="392.0" r="1.7"/><circle cx="101.6" cy="372.6" r="1.7"/><circle cx="93.6" cy="380.8" r="1.7"/><circle cx="99.8" cy="393.6" r="1.7"/><circle cx="98.3" cy="398.0" r="1.7"/><circle cx="89.8" cy="391.4" r="1.7"/><circle cx="103.4" cy="388.3" r="1.7"/><circle cx="100.2" cy="390.0" r="1.7"/><circle cx="91.3" cy="396.5" r="1.7"/><circle cx="116.7" cy="365.9" r="1.7"/><circle cx="116.1" cy="375.1" r="1.7"/><circle cx="106.6" cy="387.3" r="1.7"/><circle cx="112.4" cy="373.2" r="1.7"/><circle cx="93.2" cy="385.7" r="1.7"/><circle cx="90.9" cy="401.9" r="1.7"/><circle cx="96.8" cy="378.8" r="1.7"/><circle cx="99.1" cy="394.5" r="1.7"/><circle cx="109.7" cy="366.9" r="1.7"/><circle cx="112.1" cy="384.9" r="1.7"/><circle cx="94.8" cy="393.4" r="1.7"/><circle cx="109.5" cy="374.1" r="1.7"/><circle cx="102.0" cy="369.8" r="1.7"/><circle cx="98.8" cy="381.3" r="1.7"/><circle cx="88.4" cy="383.7" r="1.7"/><circle cx="88.5" cy="392.2" r="1.7"/><circle cx="116.4" cy="372.7" r="1.7"/><circle cx="94.7" cy="385.0" r="1.7"/><circle cx="88.7" cy="402.0" r="1.7"/><circle cx="90.5" cy="401.7" r="1.7"/><circle cx="104.5" cy="376.2" r="1.7"/><circle cx="99.9" cy="391.1" r="1.7"/><circle cx="112.5" cy="382.2" r="1.7"/><circle cx="101.0" cy="384.7" r="1.7"/><circle cx="98.4" cy="391.1" r="1.7"/><circle cx="99.5" cy="384.2" r="1.7"/><circle cx="88.0" cy="404.9" r="1.7"/><circle cx="83.9" cy="392.4" r="1.7"/><circle cx="106.7" cy="372.2" r="1.7"/><circle cx="98.3" cy="391.3" r="1.7"/><circle cx="104.7" cy="375.0" r="1.7"/><circle cx="102.3" cy="374.8" r="1.7"/><circle cx="99.1" cy="388.0" r="1.7"/><circle cx="96.1" cy="403.0" r="1.7"/><circle cx="100.3" cy="379.7" r="1.7"/><circle cx="91.5" cy="402.5" r="1.7"/><circle cx="83.8" cy="401.7" r="1.7"/><circle cx="98.1" cy="376.3" r="1.7"/><circle cx="111.0" cy="371.5" r="1.7"/><circle cx="87.3" cy="389.1" r="1.7"/><circle cx="121.4" cy="363.6" r="1.7"/><circle cx="112.0" cy="375.0" r="1.7"/><circle cx="109.4" cy="372.6" r="1.7"/><circle cx="120.1" cy="362.9" r="1.7"/><circle cx="95.3" cy="376.3" r="1.7"/><circle cx="94.5" cy="404.0" r="1.7"/><circle cx="91.3" cy="401.2" r="1.7"/><circle cx="87.9" cy="397.0" r="1.7"/><circle cx="88.5" cy="389.4" r="1.7"/><circle cx="89.2" cy="381.5" r="1.7"/><circle cx="101.2" cy="392.6" r="1.7"/><circle cx="92.9" cy="399.3" r="1.7"/><circle cx="85.6" cy="395.8" r="1.7"/><circle cx="124.2" cy="365.0" r="1.7"/><circle cx="97.9" cy="382.1" r="1.7"/><circle cx="122.0" cy="357.7" r="1.7"/><circle cx="93.5" cy="387.6" r="1.7"/><circle cx="100.1" cy="376.0" r="1.7"/><circle cx="98.2" cy="388.3" r="1.7"/><circle cx="97.2" cy="390.4" r="1.7"/><circle cx="110.5" cy="377.3" r="1.7"/><circle cx="113.5" cy="366.3" r="1.7"/><circle cx="111.2" cy="378.3" r="1.7"/><circle cx="113.2" cy="359.7" r="1.7"/><circle cx="101.4" cy="393.5" r="1.7"/><circle cx="87.1" cy="386.0" r="1.7"/><circle cx="116.4" cy="376.1" r="1.7"/><circle cx="109.9" cy="383.9" r="1.7"/><circle cx="119.2" cy="356.7" r="1.7"/><circle cx="93.2" cy="380.7" r="1.7"/><circle cx="99.8" cy="385.6" r="1.7"/><circle cx="112.4" cy="371.0" r="1.7"/><circle cx="86.5" cy="401.2" r="1.7"/><circle cx="98.5" cy="394.3" r="1.7"/><circle cx="99.3" cy="394.6" r="1.7"/><circle cx="80.6" cy="415.9" r="1.7"/><circle cx="90.1" cy="403.0" r="1.7"/><circle cx="94.6" cy="397.8" r="1.7"/><circle cx="98.4" cy="396.9" r="1.7"/><circle cx="106.2" cy="377.9" r="1.7"/><circle cx="87.4" cy="397.0" r="1.7"/><circle cx="93.9" cy="391.0" r="1.7"/><circle cx="94.4" cy="398.8" r="1.7"/><circle cx="85.6" cy="404.5" r="1.7"/><circle cx="101.5" cy="388.4" r="1.7"/><circle cx="93.4" cy="401.6" r="1.7"/><circle cx="110.9" cy="375.9" r="1.7"/><circle cx="106.7" cy="377.6" r="1.7"/><circle cx="92.3" cy="400.1" r="1.7"/><circle cx="88.7" cy="401.1" r="1.7"/><circle cx="98.7" cy="387.8" r="1.7"/><circle cx="86.8" cy="400.5" r="1.7"/><circle cx="87.9" cy="391.9" r="1.7"/><circle cx="85.7" cy="401.3" r="1.7"/><circle cx="100.0" cy="387.3" r="1.7"/><circle cx="97.4" cy="385.2" r="1.7"/><circle cx="89.6" cy="404.8" r="1.7"/><circle cx="88.5" cy="409.6" r="1.7"/><circle cx="101.8" cy="385.1" r="1.7"/><circle cx="89.5" cy="408.9" r="1.7"/><circle cx="101.6" cy="376.1" r="1.7"/><circle cx="92.1" cy="394.4" r="1.7"/><circle cx="102.6" cy="383.7" r="1.7"/><circle cx="94.1" cy="383.3" r="1.7"/><circle cx="96.8" cy="395.0" r="1.7"/><circle cx="92.8" cy="400.7" r="1.7"/><circle cx="93.3" cy="395.1" r="1.7"/><circle cx="94.7" cy="385.7" r="1.7"/><circle cx="100.8" cy="393.0" r="1.7"/><circle cx="96.2" cy="403.8" r="1.7"/><circle cx="90.5" cy="387.8" r="1.7"/><circle cx="90.2" cy="401.9" r="1.7"/><circle cx="98.6" cy="381.1" r="1.7"/><circle cx="94.0" cy="400.1" r="1.7"/><circle cx="101.5" cy="384.6" r="1.7"/><circle cx="98.5" cy="380.9" r="1.7"/><circle cx="103.9" cy="384.2" r="1.7"/><circle cx="92.6" cy="389.7" r="1.7"/><circle cx="115.8" cy="373.9" r="1.7"/><circle cx="101.3" cy="382.4" r="1.7"/><circle cx="103.8" cy="383.4" r="1.7"/><circle cx="104.4" cy="381.4" r="1.7"/><circle cx="103.0" cy="393.8" r="1.7"/><circle cx="101.5" cy="382.5" r="1.7"/><circle cx="100.8" cy="395.7" r="1.7"/><circle cx="107.6" cy="381.4" r="1.7"/><circle cx="101.3" cy="387.9" r="1.7"/><circle cx="94.1" cy="396.8" r="1.7"/><circle cx="94.6" cy="396.6" r="1.7"/><circle cx="98.7" cy="386.2" r="1.7"/><circle cx="103.8" cy="378.0" r="1.7"/><circle cx="99.6" cy="384.5" r="1.7"/><circle cx="89.5" cy="400.8" r="1.7"/><circle cx="95.8" cy="398.6" r="1.7"/><circle cx="111.3" cy="372.7" r="1.7"/><circle cx="98.1" cy="393.3" r="1.7"/><circle cx="105.1" cy="384.4" r="1.7"/><circle cx="92.7" cy="406.4" r="1.7"/><circle cx="95.3" cy="393.5" r="1.7"/><circle cx="92.7" cy="404.1" r="1.7"/><circle cx="85.3" cy="403.2" r="1.7"/><circle cx="93.3" cy="394.6" r="1.7"/><circle cx="92.2" cy="392.1" r="1.7"/><circle cx="85.7" cy="397.5" r="1.7"/><circle cx="102.1" cy="387.6" r="1.7"/><circle cx="98.1" cy="383.3" r="1.7"/><circle cx="110.4" cy="376.0" r="1.7"/><circle cx="130.8" cy="351.5" r="1.7"/><circle cx="131.1" cy="357.7" r="1.7"/><circle cx="120.0" cy="354.6" r="1.7"/><circle cx="112.3" cy="356.6" r="1.7"/><circle cx="90.8" cy="366.2" r="1.7"/><circle cx="98.5" cy="367.4" r="1.7"/><circle cx="65.4" cy="393.8" r="1.7"/><circle cx="83.1" cy="385.4" r="1.7"/><circle cx="75.4" cy="402.3" r="1.7"/><circle cx="76.9" cy="400.8" r="1.7"/><circle cx="79.7" cy="410.8" r="1.7"/><circle cx="79.2" cy="413.1" r="1.7"/><circle cx="122.3" cy="378.5" r="1.7"/><circle cx="123.1" cy="385.4" r="1.7"/><circle cx="126.9" cy="370.0" r="1.7"/><circle cx="108.5" cy="398.5" r="1.7"/><circle cx="86.2" cy="378.5" r="1.7"/></g>
<line x1="55.3" y1="346.5" x2="55.3" y2="422" stroke="#111" stroke-width="1.7" stroke-linecap="butt"/>
<line x1="54.5" y1="421.2" x2="135.6" y2="421.2" stroke="#111" stroke-width="1.7" stroke-linecap="butt"/>
<line x1="50.7" y1="421.1" x2="55.3" y2="421.1" stroke="#111" stroke-width="1.6" stroke-linecap="butt"/>
<text x="47.7" y="424.7" font-size="10" text-anchor="end" fill="#1a1a1a" stroke="#1a1a1a" stroke-width="0.22" letter-spacing="0.6">8</text>
<line x1="50.7" y1="396.5" x2="55.3" y2="396.5" stroke="#111" stroke-width="1.6" stroke-linecap="butt"/>
<text x="47.7" y="400.1" font-size="10" text-anchor="end" fill="#1a1a1a" stroke="#1a1a1a" stroke-width="0.22" letter-spacing="0.6">10</text>
<line x1="50.7" y1="371.9" x2="55.3" y2="371.9" stroke="#111" stroke-width="1.6" stroke-linecap="butt"/>
<text x="47.7" y="375.5" font-size="10" text-anchor="end" fill="#1a1a1a" stroke="#1a1a1a" stroke-width="0.22" letter-spacing="0.6">12</text>
<line x1="50.7" y1="347.3" x2="55.3" y2="347.3" stroke="#111" stroke-width="1.6" stroke-linecap="butt"/>
<text x="47.7" y="350.9" font-size="10" text-anchor="end" fill="#1a1a1a" stroke="#1a1a1a" stroke-width="0.22" letter-spacing="0.6">14</text>
<line x1="55.2" y1="421.2" x2="55.2" y2="425.7" stroke="#111" stroke-width="1.6" stroke-linecap="butt"/>
<text x="55.5" y="437.4" font-size="10" text-anchor="middle" fill="#1a1a1a" stroke="#1a1a1a" stroke-width="0.22" letter-spacing="0.6">6</text>
<line x1="81.7" y1="421.2" x2="81.7" y2="425.7" stroke="#111" stroke-width="1.6" stroke-linecap="butt"/>
<text x="82" y="437.4" font-size="10" text-anchor="middle" fill="#1a1a1a" stroke="#1a1a1a" stroke-width="0.22" letter-spacing="0.6">8</text>
<line x1="108.3" y1="421.2" x2="108.3" y2="425.7" stroke="#111" stroke-width="1.6" stroke-linecap="butt"/>
<text x="108.6" y="437.4" font-size="10" text-anchor="middle" fill="#1a1a1a" stroke="#1a1a1a" stroke-width="0.22" letter-spacing="0.6">10</text>
<line x1="134.8" y1="421.2" x2="134.8" y2="425.7" stroke="#111" stroke-width="1.6" stroke-linecap="butt"/>
<text x="135.1" y="437.4" font-size="10" text-anchor="middle" fill="#1a1a1a" stroke="#1a1a1a" stroke-width="0.22" letter-spacing="0.6">12</text>
<text x="51" y="334.3" font-size="10" text-anchor="start" fill="#1a1a1a" stroke="#1a1a1a" stroke-width="0.22" >r = 0.75, <tspan font-style="italic">p</tspan> <tspan font-size="13.5" dy="0.9">&lt;</tspan><tspan dy="-0.9"> 0.0001</tspan></text>
<line x1="224.9" y1="385.4" x2="289.5" y2="384.9" stroke="#000" stroke-width="1.9" stroke-linecap="butt"/>
<g fill="#c8102e"><circle cx="253.1" cy="367.9" r="1.7"/><circle cx="274.2" cy="396.3" r="1.7"/><circle cx="274.0" cy="389.6" r="1.7"/><circle cx="247.9" cy="379.4" r="1.7"/><circle cx="265.4" cy="405.8" r="1.7"/><circle cx="260.8" cy="388.6" r="1.7"/><circle cx="259.7" cy="407.2" r="1.7"/><circle cx="252.0" cy="369.7" r="1.7"/><circle cx="256.3" cy="395.1" r="1.7"/><circle cx="266.8" cy="398.8" r="1.7"/><circle cx="271.3" cy="399.5" r="1.7"/><circle cx="263.9" cy="406.0" r="1.7"/><circle cx="266.2" cy="371.6" r="1.7"/><circle cx="278.3" cy="369.2" r="1.7"/><circle cx="260.6" cy="386.7" r="1.7"/><circle cx="250.3" cy="376.0" r="1.7"/><circle cx="242.4" cy="384.2" r="1.7"/><circle cx="243.3" cy="390.8" r="1.7"/><circle cx="251.7" cy="396.7" r="1.7"/><circle cx="271.2" cy="400.1" r="1.7"/><circle cx="261.4" cy="390.8" r="1.7"/><circle cx="266.7" cy="373.4" r="1.7"/><circle cx="259.6" cy="371.8" r="1.7"/><circle cx="273.9" cy="389.9" r="1.7"/><circle cx="264.1" cy="400.5" r="1.7"/><circle cx="272.1" cy="395.3" r="1.7"/><circle cx="257.7" cy="381.2" r="1.7"/><circle cx="243.7" cy="384.6" r="1.7"/><circle cx="271.2" cy="376.4" r="1.7"/><circle cx="278.3" cy="371.0" r="1.7"/><circle cx="257.8" cy="379.2" r="1.7"/><circle cx="276.3" cy="380.8" r="1.7"/><circle cx="251.6" cy="391.0" r="1.7"/><circle cx="243.8" cy="386.4" r="1.7"/><circle cx="244.5" cy="386.8" r="1.7"/><circle cx="269.0" cy="385.4" r="1.7"/><circle cx="274.6" cy="373.7" r="1.7"/><circle cx="244.3" cy="374.1" r="1.7"/><circle cx="255.0" cy="369.9" r="1.7"/><circle cx="266.3" cy="374.3" r="1.7"/><circle cx="266.9" cy="390.8" r="1.7"/><circle cx="266.0" cy="395.2" r="1.7"/><circle cx="270.7" cy="387.4" r="1.7"/><circle cx="262.5" cy="379.2" r="1.7"/><circle cx="258.5" cy="368.2" r="1.7"/><circle cx="254.3" cy="386.9" r="1.7"/><circle cx="256.3" cy="382.6" r="1.7"/><circle cx="264.6" cy="383.1" r="1.7"/><circle cx="254.1" cy="368.2" r="1.7"/><circle cx="260.4" cy="371.1" r="1.7"/><circle cx="273.2" cy="389.5" r="1.7"/><circle cx="251.4" cy="396.2" r="1.7"/><circle cx="273.9" cy="375.4" r="1.7"/><circle cx="272.7" cy="384.5" r="1.7"/><circle cx="252.5" cy="400.4" r="1.7"/><circle cx="261.6" cy="391.6" r="1.7"/><circle cx="262.2" cy="401.4" r="1.7"/><circle cx="275.7" cy="380.5" r="1.7"/><circle cx="251.1" cy="400.3" r="1.7"/><circle cx="266.9" cy="403.6" r="1.7"/><circle cx="262.8" cy="369.9" r="1.7"/><circle cx="267.9" cy="387.6" r="1.7"/><circle cx="247.7" cy="371.7" r="1.7"/><circle cx="249.7" cy="374.5" r="1.7"/><circle cx="260.6" cy="390.9" r="1.7"/><circle cx="268.8" cy="391.5" r="1.7"/><circle cx="262.9" cy="400.6" r="1.7"/><circle cx="271.8" cy="396.1" r="1.7"/><circle cx="271.8" cy="399.8" r="1.7"/><circle cx="277.6" cy="390.7" r="1.7"/><circle cx="256.3" cy="388.0" r="1.7"/><circle cx="255.8" cy="397.9" r="1.7"/><circle cx="263.1" cy="402.5" r="1.7"/><circle cx="253.3" cy="385.0" r="1.7"/><circle cx="240.8" cy="390.0" r="1.7"/><circle cx="270.3" cy="389.4" r="1.7"/><circle cx="262.1" cy="407.1" r="1.7"/><circle cx="269.0" cy="379.2" r="1.7"/><circle cx="250.3" cy="375.6" r="1.7"/><circle cx="266.2" cy="387.6" r="1.7"/><circle cx="263.8" cy="372.5" r="1.7"/><circle cx="270.3" cy="403.4" r="1.7"/><circle cx="256.3" cy="378.3" r="1.7"/><circle cx="245.3" cy="390.3" r="1.7"/><circle cx="256.8" cy="379.6" r="1.7"/><circle cx="261.0" cy="396.2" r="1.7"/><circle cx="253.6" cy="379.8" r="1.7"/><circle cx="271.8" cy="395.1" r="1.7"/><circle cx="250.4" cy="373.2" r="1.7"/><circle cx="275.7" cy="373.5" r="1.7"/><circle cx="247.2" cy="383.1" r="1.7"/><circle cx="251.8" cy="376.5" r="1.7"/><circle cx="264.8" cy="381.7" r="1.7"/><circle cx="266.3" cy="396.3" r="1.7"/><circle cx="266.8" cy="394.2" r="1.7"/><circle cx="265.4" cy="400.6" r="1.7"/><circle cx="251.7" cy="403.2" r="1.7"/><circle cx="255.6" cy="369.5" r="1.7"/><circle cx="264.5" cy="381.8" r="1.7"/><circle cx="262.6" cy="380.9" r="1.7"/><circle cx="259.4" cy="390.8" r="1.7"/><circle cx="266.2" cy="379.2" r="1.7"/><circle cx="264.5" cy="379.5" r="1.7"/><circle cx="268.9" cy="379.0" r="1.7"/><circle cx="261.9" cy="381.2" r="1.7"/><circle cx="261.6" cy="379.7" r="1.7"/><circle cx="257.6" cy="404.9" r="1.7"/><circle cx="277.1" cy="387.2" r="1.7"/><circle cx="271.5" cy="408.2" r="1.7"/><circle cx="246.1" cy="382.8" r="1.7"/><circle cx="275.3" cy="389.1" r="1.7"/><circle cx="247.4" cy="372.4" r="1.7"/><circle cx="253.5" cy="374.7" r="1.7"/><circle cx="245.6" cy="396.4" r="1.7"/><circle cx="275.8" cy="378.9" r="1.7"/><circle cx="255.5" cy="393.8" r="1.7"/><circle cx="249.4" cy="389.2" r="1.7"/><circle cx="276.7" cy="371.7" r="1.7"/><circle cx="262.2" cy="376.3" r="1.7"/><circle cx="267.9" cy="376.3" r="1.7"/><circle cx="271.7" cy="386.5" r="1.7"/><circle cx="276.7" cy="382.1" r="1.7"/><circle cx="259.1" cy="371.9" r="1.7"/><circle cx="247.8" cy="384.8" r="1.7"/><circle cx="274.7" cy="393.7" r="1.7"/><circle cx="274.8" cy="401.7" r="1.7"/><circle cx="240.6" cy="379.2" r="1.7"/><circle cx="271.8" cy="398.1" r="1.7"/><circle cx="261.6" cy="385.5" r="1.7"/><circle cx="241.8" cy="380.1" r="1.7"/><circle cx="241.5" cy="378.2" r="1.7"/><circle cx="273.3" cy="397.5" r="1.7"/><circle cx="266.3" cy="391.1" r="1.7"/><circle cx="277.8" cy="378.1" r="1.7"/><circle cx="264.1" cy="385.7" r="1.7"/><circle cx="277.6" cy="380.8" r="1.7"/><circle cx="250.5" cy="399.5" r="1.7"/><circle cx="270.3" cy="396.8" r="1.7"/><circle cx="268.6" cy="375.2" r="1.7"/><circle cx="264.7" cy="388.1" r="1.7"/><circle cx="277.3" cy="386.6" r="1.7"/><circle cx="248.8" cy="378.5" r="1.7"/><circle cx="266.0" cy="397.0" r="1.7"/><circle cx="275.8" cy="382.6" r="1.7"/><circle cx="268.3" cy="384.3" r="1.7"/><circle cx="264.0" cy="373.0" r="1.7"/><circle cx="275.5" cy="387.2" r="1.7"/><circle cx="268.5" cy="387.5" r="1.7"/><circle cx="267.2" cy="397.3" r="1.7"/><circle cx="273.0" cy="387.0" r="1.7"/><circle cx="250.9" cy="385.6" r="1.7"/><circle cx="266.9" cy="389.6" r="1.7"/><circle cx="267.9" cy="387.5" r="1.7"/><circle cx="260.5" cy="379.3" r="1.7"/><circle cx="264.8" cy="393.5" r="1.7"/><circle cx="253.9" cy="389.7" r="1.7"/><circle cx="274.9" cy="384.1" r="1.7"/><circle cx="260.0" cy="375.9" r="1.7"/><circle cx="264.1" cy="395.5" r="1.7"/><circle cx="255.4" cy="389.2" r="1.7"/><circle cx="259.1" cy="381.6" r="1.7"/><circle cx="264.3" cy="389.3" r="1.7"/><circle cx="267.9" cy="390.4" r="1.7"/><circle cx="265.1" cy="372.0" r="1.7"/><circle cx="265.3" cy="395.5" r="1.7"/><circle cx="273.0" cy="394.9" r="1.7"/><circle cx="274.1" cy="378.7" r="1.7"/><circle cx="240.8" cy="375.4" r="1.7"/><circle cx="263.5" cy="389.9" r="1.7"/><circle cx="266.6" cy="376.3" r="1.7"/><circle cx="254.4" cy="392.7" r="1.7"/><circle cx="264.0" cy="380.5" r="1.7"/><circle cx="259.7" cy="405.5" r="1.7"/><circle cx="261.8" cy="390.1" r="1.7"/><circle cx="255.4" cy="377.3" r="1.7"/><circle cx="250.3" cy="378.3" r="1.7"/><circle cx="272.4" cy="392.8" r="1.7"/><circle cx="268.5" cy="387.8" r="1.7"/><circle cx="268.0" cy="385.3" r="1.7"/><circle cx="254.4" cy="379.4" r="1.7"/><circle cx="261.1" cy="394.4" r="1.7"/><circle cx="269.4" cy="379.1" r="1.7"/><circle cx="267.7" cy="398.5" r="1.7"/><circle cx="258.8" cy="379.5" r="1.7"/><circle cx="258.6" cy="388.9" r="1.7"/><circle cx="266.4" cy="389.9" r="1.7"/><circle cx="276.4" cy="373.9" r="1.7"/><circle cx="274.2" cy="391.9" r="1.7"/><circle cx="280.6" cy="380.1" r="1.7"/><circle cx="262.6" cy="395.5" r="1.7"/><circle cx="265.0" cy="387.1" r="1.7"/><circle cx="260.6" cy="383.7" r="1.7"/><circle cx="260.6" cy="387.5" r="1.7"/><circle cx="265.1" cy="378.4" r="1.7"/><circle cx="258.6" cy="371.7" r="1.7"/><circle cx="263.9" cy="384.4" r="1.7"/><circle cx="261.6" cy="366.5" r="1.7"/><circle cx="249.8" cy="379.0" r="1.7"/><circle cx="262.2" cy="392.7" r="1.7"/><circle cx="246.7" cy="394.4" r="1.7"/><circle cx="261.7" cy="383.8" r="1.7"/><circle cx="262.0" cy="392.7" r="1.7"/><circle cx="268.4" cy="386.6" r="1.7"/><circle cx="253.2" cy="385.4" r="1.7"/><circle cx="266.4" cy="401.8" r="1.7"/><circle cx="267.9" cy="394.0" r="1.7"/><circle cx="264.8" cy="398.0" r="1.7"/><circle cx="265.5" cy="388.2" r="1.7"/><circle cx="264.2" cy="383.0" r="1.7"/><circle cx="259.2" cy="380.9" r="1.7"/><circle cx="264.1" cy="380.5" r="1.7"/><circle cx="255.9" cy="390.5" r="1.7"/><circle cx="261.6" cy="382.5" r="1.7"/><circle cx="265.2" cy="376.6" r="1.7"/><circle cx="269.6" cy="383.9" r="1.7"/><circle cx="255.0" cy="384.5" r="1.7"/><circle cx="257.4" cy="399.0" r="1.7"/><circle cx="263.7" cy="388.1" r="1.7"/><circle cx="263.5" cy="384.9" r="1.7"/><circle cx="259.7" cy="377.1" r="1.7"/><circle cx="271.1" cy="357.2" r="1.7"/><circle cx="269.5" cy="360.8" r="1.7"/><circle cx="271.1" cy="364.6" r="1.7"/><circle cx="241.1" cy="365.8" r="1.7"/><circle cx="280.3" cy="366.2" r="1.7"/><circle cx="290.3" cy="373.5" r="1.7"/><circle cx="285.7" cy="378.5" r="1.7"/><circle cx="224.9" cy="395.1" r="1.7"/><circle cx="290.3" cy="397.7" r="1.7"/><circle cx="285.7" cy="396.9" r="1.7"/><circle cx="249.5" cy="407.7" r="1.7"/><circle cx="254.2" cy="410.0" r="1.7"/><circle cx="263.4" cy="411.1" r="1.7"/><circle cx="234.6" cy="383.8" r="1.7"/><circle cx="235.7" cy="378.5" r="1.7"/></g>
<line x1="214.5" y1="344.4" x2="214.5" y2="419.8" stroke="#111" stroke-width="1.7" stroke-linecap="butt"/>
<line x1="213.7" y1="419" x2="295" y2="419" stroke="#111" stroke-width="1.7" stroke-linecap="butt"/>
<line x1="209.9" y1="419" x2="214.5" y2="419" stroke="#111" stroke-width="1.6" stroke-linecap="butt"/>
<text x="206.9" y="422.6" font-size="10" text-anchor="end" fill="#1a1a1a" stroke="#1a1a1a" stroke-width="0.22" letter-spacing="0.6">0</text>
<line x1="209.9" y1="404.2" x2="214.5" y2="404.2" stroke="#111" stroke-width="1.6" stroke-linecap="butt"/>
<text x="206.9" y="407.8" font-size="10" text-anchor="end" fill="#1a1a1a" stroke="#1a1a1a" stroke-width="0.22" letter-spacing="0.6">2</text>
<line x1="209.9" y1="389.5" x2="214.5" y2="389.5" stroke="#111" stroke-width="1.6" stroke-linecap="butt"/>
<text x="206.9" y="393.1" font-size="10" text-anchor="end" fill="#1a1a1a" stroke="#1a1a1a" stroke-width="0.22" letter-spacing="0.6">4</text>
<line x1="209.9" y1="374.7" x2="214.5" y2="374.7" stroke="#111" stroke-width="1.6" stroke-linecap="butt"/>
<text x="206.9" y="378.3" font-size="10" text-anchor="end" fill="#1a1a1a" stroke="#1a1a1a" stroke-width="0.22" letter-spacing="0.6">6</text>
<line x1="209.9" y1="360" x2="214.5" y2="360" stroke="#111" stroke-width="1.6" stroke-linecap="butt"/>
<text x="206.9" y="363.6" font-size="10" text-anchor="end" fill="#1a1a1a" stroke="#1a1a1a" stroke-width="0.22" letter-spacing="0.6">8</text>
<line x1="209.9" y1="345.2" x2="214.5" y2="345.2" stroke="#111" stroke-width="1.6" stroke-linecap="butt"/>
<text x="206.9" y="348.8" font-size="10" text-anchor="end" fill="#1a1a1a" stroke="#1a1a1a" stroke-width="0.22" letter-spacing="0.6">10</text>
<line x1="214.4" y1="419" x2="214.4" y2="423.5" stroke="#111" stroke-width="1.6" stroke-linecap="butt"/>
<text x="214.7" y="435.2" font-size="10" text-anchor="middle" fill="#1a1a1a" stroke="#1a1a1a" stroke-width="0.22" letter-spacing="0.6">6</text>
<line x1="241" y1="419" x2="241" y2="423.5" stroke="#111" stroke-width="1.6" stroke-linecap="butt"/>
<text x="241.3" y="435.2" font-size="10" text-anchor="middle" fill="#1a1a1a" stroke="#1a1a1a" stroke-width="0.22" letter-spacing="0.6">8</text>
<line x1="267.6" y1="419" x2="267.6" y2="423.5" stroke="#111" stroke-width="1.6" stroke-linecap="butt"/>
<text x="267.9" y="435.2" font-size="10" text-anchor="middle" fill="#1a1a1a" stroke="#1a1a1a" stroke-width="0.22" letter-spacing="0.6">10</text>
<line x1="294.2" y1="419" x2="294.2" y2="423.5" stroke="#111" stroke-width="1.6" stroke-linecap="butt"/>
<text x="294.5" y="435.2" font-size="10" text-anchor="middle" fill="#1a1a1a" stroke="#1a1a1a" stroke-width="0.22" letter-spacing="0.6">12</text>
<text x="213.6" y="333.4" font-size="10" text-anchor="start" fill="#1a1a1a" stroke="#1a1a1a" stroke-width="0.22" >r = 0.005, <tspan font-style="italic">p</tspan> = 0.93</text>
<line x1="385.6" y1="400" x2="451.8" y2="364.6" stroke="#000" stroke-width="1.9" stroke-linecap="butt"/>
<g fill="#c8102e"><circle cx="433.1" cy="382.9" r="1.7"/><circle cx="422.5" cy="371.3" r="1.7"/><circle cx="417.6" cy="376.5" r="1.7"/><circle cx="415.8" cy="389.0" r="1.7"/><circle cx="417.6" cy="375.1" r="1.7"/><circle cx="405.3" cy="389.5" r="1.7"/><circle cx="422.6" cy="386.1" r="1.7"/><circle cx="423.5" cy="384.5" r="1.7"/><circle cx="419.4" cy="377.1" r="1.7"/><circle cx="431.6" cy="386.2" r="1.7"/><circle cx="415.6" cy="386.2" r="1.7"/><circle cx="425.1" cy="368.3" r="1.7"/><circle cx="433.9" cy="382.6" r="1.7"/><circle cx="429.0" cy="370.9" r="1.7"/><circle cx="429.5" cy="386.9" r="1.7"/><circle cx="416.2" cy="373.2" r="1.7"/><circle cx="438.1" cy="369.3" r="1.7"/><circle cx="420.8" cy="375.1" r="1.7"/><circle cx="417.2" cy="376.3" r="1.7"/><circle cx="437.5" cy="368.7" r="1.7"/><circle cx="419.4" cy="391.4" r="1.7"/><circle cx="423.3" cy="369.6" r="1.7"/><circle cx="416.0" cy="389.8" r="1.7"/><circle cx="421.6" cy="379.0" r="1.7"/><circle cx="437.1" cy="365.1" r="1.7"/><circle cx="422.6" cy="380.7" r="1.7"/><circle cx="407.8" cy="378.6" r="1.7"/><circle cx="439.3" cy="367.3" r="1.7"/><circle cx="412.0" cy="384.9" r="1.7"/><circle cx="423.2" cy="389.6" r="1.7"/><circle cx="418.0" cy="394.7" r="1.7"/><circle cx="419.1" cy="378.7" r="1.7"/><circle cx="407.7" cy="378.9" r="1.7"/><circle cx="440.7" cy="366.2" r="1.7"/><circle cx="435.2" cy="373.6" r="1.7"/><circle cx="433.5" cy="367.9" r="1.7"/><circle cx="400.1" cy="385.8" r="1.7"/><circle cx="430.9" cy="374.6" r="1.7"/><circle cx="434.7" cy="374.3" r="1.7"/><circle cx="406.9" cy="381.3" r="1.7"/><circle cx="407.6" cy="383.2" r="1.7"/><circle cx="414.8" cy="371.0" r="1.7"/><circle cx="415.9" cy="387.0" r="1.7"/><circle cx="442.1" cy="367.4" r="1.7"/><circle cx="415.7" cy="389.7" r="1.7"/><circle cx="424.4" cy="376.2" r="1.7"/><circle cx="434.8" cy="365.9" r="1.7"/><circle cx="429.8" cy="366.1" r="1.7"/><circle cx="422.2" cy="385.9" r="1.7"/><circle cx="413.3" cy="387.0" r="1.7"/><circle cx="427.1" cy="388.4" r="1.7"/><circle cx="438.6" cy="373.8" r="1.7"/><circle cx="428.5" cy="365.7" r="1.7"/><circle cx="425.8" cy="376.9" r="1.7"/><circle cx="434.5" cy="369.4" r="1.7"/><circle cx="427.4" cy="368.5" r="1.7"/><circle cx="432.8" cy="380.3" r="1.7"/><circle cx="427.6" cy="368.8" r="1.7"/><circle cx="420.4" cy="387.2" r="1.7"/><circle cx="418.6" cy="389.2" r="1.7"/><circle cx="404.1" cy="385.4" r="1.7"/><circle cx="419.7" cy="391.5" r="1.7"/><circle cx="431.8" cy="365.0" r="1.7"/><circle cx="440.9" cy="367.1" r="1.7"/><circle cx="404.0" cy="379.0" r="1.7"/><circle cx="433.2" cy="367.7" r="1.7"/><circle cx="419.9" cy="370.3" r="1.7"/><circle cx="426.9" cy="373.3" r="1.7"/><circle cx="406.2" cy="378.7" r="1.7"/><circle cx="435.3" cy="370.9" r="1.7"/><circle cx="420.6" cy="386.3" r="1.7"/><circle cx="411.0" cy="388.2" r="1.7"/><circle cx="417.6" cy="376.9" r="1.7"/><circle cx="434.0" cy="383.0" r="1.7"/><circle cx="427.2" cy="375.5" r="1.7"/><circle cx="439.6" cy="370.0" r="1.7"/><circle cx="419.4" cy="391.6" r="1.7"/><circle cx="419.3" cy="381.2" r="1.7"/><circle cx="405.2" cy="384.8" r="1.7"/><circle cx="412.5" cy="394.9" r="1.7"/><circle cx="433.5" cy="382.5" r="1.7"/><circle cx="408.2" cy="377.1" r="1.7"/><circle cx="413.6" cy="388.1" r="1.7"/><circle cx="438.4" cy="375.7" r="1.7"/><circle cx="413.4" cy="382.8" r="1.7"/><circle cx="417.1" cy="392.1" r="1.7"/><circle cx="413.7" cy="393.4" r="1.7"/><circle cx="440.1" cy="374.2" r="1.7"/><circle cx="431.7" cy="385.6" r="1.7"/><circle cx="414.3" cy="396.6" r="1.7"/><circle cx="430.7" cy="377.3" r="1.7"/><circle cx="406.3" cy="379.2" r="1.7"/><circle cx="421.9" cy="390.5" r="1.7"/><circle cx="431.6" cy="383.9" r="1.7"/><circle cx="438.9" cy="365.5" r="1.7"/><circle cx="403.3" cy="394.9" r="1.7"/><circle cx="435.2" cy="372.0" r="1.7"/><circle cx="415.0" cy="393.6" r="1.7"/><circle cx="409.0" cy="373.5" r="1.7"/><circle cx="436.9" cy="370.0" r="1.7"/><circle cx="414.2" cy="389.7" r="1.7"/><circle cx="427.2" cy="377.3" r="1.7"/><circle cx="433.1" cy="372.0" r="1.7"/><circle cx="428.4" cy="368.8" r="1.7"/><circle cx="408.6" cy="393.0" r="1.7"/><circle cx="429.0" cy="383.6" r="1.7"/><circle cx="417.3" cy="385.2" r="1.7"/><circle cx="434.6" cy="375.1" r="1.7"/><circle cx="434.8" cy="371.7" r="1.7"/><circle cx="426.3" cy="375.9" r="1.7"/><circle cx="424.0" cy="377.5" r="1.7"/><circle cx="432.9" cy="379.2" r="1.7"/><circle cx="405.1" cy="377.3" r="1.7"/><circle cx="431.8" cy="368.2" r="1.7"/><circle cx="399.9" cy="387.5" r="1.7"/><circle cx="403.2" cy="386.2" r="1.7"/><circle cx="434.0" cy="381.6" r="1.7"/><circle cx="433.2" cy="379.1" r="1.7"/><circle cx="407.0" cy="394.3" r="1.7"/><circle cx="409.1" cy="373.5" r="1.7"/><circle cx="404.9" cy="374.9" r="1.7"/><circle cx="418.2" cy="371.9" r="1.7"/><circle cx="407.9" cy="377.2" r="1.7"/><circle cx="405.9" cy="393.2" r="1.7"/><circle cx="421.4" cy="386.2" r="1.7"/><circle cx="415.7" cy="393.8" r="1.7"/><circle cx="428.5" cy="384.0" r="1.7"/><circle cx="434.8" cy="367.8" r="1.7"/><circle cx="410.9" cy="382.0" r="1.7"/><circle cx="432.4" cy="370.0" r="1.7"/><circle cx="420.3" cy="393.2" r="1.7"/><circle cx="410.4" cy="394.1" r="1.7"/><circle cx="408.1" cy="378.8" r="1.7"/><circle cx="431.0" cy="378.0" r="1.7"/><circle cx="415.9" cy="377.9" r="1.7"/><circle cx="429.0" cy="384.4" r="1.7"/><circle cx="422.3" cy="380.5" r="1.7"/><circle cx="419.0" cy="368.2" r="1.7"/><circle cx="417.5" cy="371.2" r="1.7"/><circle cx="418.6" cy="382.4" r="1.7"/><circle cx="418.1" cy="393.3" r="1.7"/><circle cx="412.5" cy="385.2" r="1.7"/><circle cx="427.5" cy="370.0" r="1.7"/><circle cx="439.0" cy="378.5" r="1.7"/><circle cx="423.4" cy="378.3" r="1.7"/><circle cx="425.8" cy="386.5" r="1.7"/><circle cx="429.7" cy="381.0" r="1.7"/><circle cx="420.6" cy="380.2" r="1.7"/><circle cx="437.5" cy="374.3" r="1.7"/><circle cx="427.9" cy="371.8" r="1.7"/><circle cx="420.7" cy="382.1" r="1.7"/><circle cx="410.3" cy="381.8" r="1.7"/><circle cx="422.3" cy="380.6" r="1.7"/><circle cx="422.7" cy="384.7" r="1.7"/><circle cx="425.6" cy="381.9" r="1.7"/><circle cx="420.7" cy="369.6" r="1.7"/><circle cx="423.6" cy="386.2" r="1.7"/><circle cx="425.8" cy="373.4" r="1.7"/><circle cx="427.5" cy="379.7" r="1.7"/><circle cx="423.8" cy="381.1" r="1.7"/><circle cx="438.8" cy="375.9" r="1.7"/><circle cx="413.3" cy="378.4" r="1.7"/><circle cx="413.0" cy="387.8" r="1.7"/><circle cx="407.3" cy="384.0" r="1.7"/><circle cx="408.5" cy="389.3" r="1.7"/><circle cx="438.3" cy="372.6" r="1.7"/><circle cx="420.3" cy="374.6" r="1.7"/><circle cx="417.8" cy="369.4" r="1.7"/><circle cx="417.1" cy="381.8" r="1.7"/><circle cx="428.5" cy="384.1" r="1.7"/><circle cx="418.8" cy="376.8" r="1.7"/><circle cx="425.6" cy="373.5" r="1.7"/><circle cx="414.4" cy="384.9" r="1.7"/><circle cx="432.9" cy="378.5" r="1.7"/><circle cx="422.2" cy="380.7" r="1.7"/><circle cx="401.4" cy="384.5" r="1.7"/><circle cx="417.7" cy="375.8" r="1.7"/><circle cx="425.9" cy="380.1" r="1.7"/><circle cx="410.1" cy="380.0" r="1.7"/><circle cx="416.6" cy="384.4" r="1.7"/><circle cx="429.2" cy="387.7" r="1.7"/><circle cx="419.5" cy="378.8" r="1.7"/><circle cx="415.0" cy="374.2" r="1.7"/><circle cx="413.7" cy="389.2" r="1.7"/><circle cx="427.8" cy="380.4" r="1.7"/><circle cx="422.6" cy="390.3" r="1.7"/><circle cx="425.2" cy="371.4" r="1.7"/><circle cx="434.9" cy="371.4" r="1.7"/><circle cx="433.1" cy="373.4" r="1.7"/><circle cx="417.0" cy="380.7" r="1.7"/><circle cx="431.0" cy="380.4" r="1.7"/><circle cx="423.7" cy="378.8" r="1.7"/><circle cx="413.8" cy="380.1" r="1.7"/><circle cx="432.3" cy="384.2" r="1.7"/><circle cx="419.4" cy="373.6" r="1.7"/><circle cx="421.7" cy="375.8" r="1.7"/><circle cx="430.1" cy="371.2" r="1.7"/><circle cx="419.7" cy="379.0" r="1.7"/><circle cx="414.9" cy="374.3" r="1.7"/><circle cx="435.7" cy="375.9" r="1.7"/><circle cx="427.7" cy="382.5" r="1.7"/><circle cx="415.3" cy="375.6" r="1.7"/><circle cx="414.2" cy="379.3" r="1.7"/><circle cx="424.9" cy="384.7" r="1.7"/><circle cx="407.8" cy="387.2" r="1.7"/><circle cx="416.5" cy="383.0" r="1.7"/><circle cx="412.1" cy="373.6" r="1.7"/><circle cx="426.6" cy="376.3" r="1.7"/><circle cx="416.8" cy="380.1" r="1.7"/><circle cx="418.6" cy="384.4" r="1.7"/><circle cx="421.1" cy="380.4" r="1.7"/><circle cx="426.7" cy="379.1" r="1.7"/><circle cx="414.8" cy="390.9" r="1.7"/><circle cx="424.3" cy="373.0" r="1.7"/><circle cx="431.0" cy="378.9" r="1.7"/><circle cx="385.4" cy="377.2" r="1.7"/><circle cx="405.4" cy="367.4" r="1.7"/><circle cx="433.4" cy="358.2" r="1.7"/><circle cx="438.0" cy="356.2" r="1.7"/><circle cx="440.3" cy="355.4" r="1.7"/><circle cx="448.8" cy="359.7" r="1.7"/><circle cx="453.4" cy="362.8" r="1.7"/><circle cx="452.6" cy="364.6" r="1.7"/><circle cx="441.1" cy="386.2" r="1.7"/><circle cx="443.4" cy="376.9" r="1.7"/><circle cx="404.2" cy="409.2" r="1.7"/><circle cx="413.4" cy="412.6" r="1.7"/><circle cx="412.6" cy="406.9" r="1.7"/><circle cx="414.9" cy="403.8" r="1.7"/><circle cx="417.2" cy="401.5" r="1.7"/><circle cx="395.7" cy="393.1" r="1.7"/><circle cx="401.1" cy="397.7" r="1.7"/><circle cx="397.2" cy="385.8" r="1.7"/><circle cx="426.5" cy="393.8" r="1.7"/><circle cx="433.4" cy="390.0" r="1.7"/></g>
<line x1="375.3" y1="347.3" x2="375.3" y2="418.3" stroke="#111" stroke-width="1.7" stroke-linecap="butt"/>
<line x1="374.5" y1="417.5" x2="457" y2="417.5" stroke="#111" stroke-width="1.7" stroke-linecap="butt"/>
<line x1="370.7" y1="407.8" x2="375.3" y2="407.8" stroke="#111" stroke-width="1.6" stroke-linecap="butt"/>
<text x="367.7" y="411.4" font-size="10" text-anchor="end" fill="#1a1a1a" stroke="#1a1a1a" stroke-width="0.22" letter-spacing="0.6">8</text>
<line x1="370.7" y1="387.9" x2="375.3" y2="387.9" stroke="#111" stroke-width="1.6" stroke-linecap="butt"/>
<text x="367.7" y="391.5" font-size="10" text-anchor="end" fill="#1a1a1a" stroke="#1a1a1a" stroke-width="0.22" letter-spacing="0.6">10</text>
<line x1="370.7" y1="368" x2="375.3" y2="368" stroke="#111" stroke-width="1.6" stroke-linecap="butt"/>
<text x="367.7" y="371.6" font-size="10" text-anchor="end" fill="#1a1a1a" stroke="#1a1a1a" stroke-width="0.22" letter-spacing="0.6">12</text>
<line x1="370.7" y1="348.1" x2="375.3" y2="348.1" stroke="#111" stroke-width="1.6" stroke-linecap="butt"/>
<text x="367.7" y="351.7" font-size="10" text-anchor="end" fill="#1a1a1a" stroke="#1a1a1a" stroke-width="0.22" letter-spacing="0.6">14</text>
<line x1="375.4" y1="417.5" x2="375.4" y2="422" stroke="#111" stroke-width="1.6" stroke-linecap="butt"/>
<text x="375.7" y="433.7" font-size="10" text-anchor="middle" fill="#1a1a1a" stroke="#1a1a1a" stroke-width="0.22" letter-spacing="0.6">6</text>
<line x1="402.3" y1="417.5" x2="402.3" y2="422" stroke="#111" stroke-width="1.6" stroke-linecap="butt"/>
<text x="402.6" y="433.7" font-size="10" text-anchor="middle" fill="#1a1a1a" stroke="#1a1a1a" stroke-width="0.22" letter-spacing="0.6">8</text>
<line x1="429.3" y1="417.5" x2="429.3" y2="422" stroke="#111" stroke-width="1.6" stroke-linecap="butt"/>
<text x="429.6" y="433.7" font-size="10" text-anchor="middle" fill="#1a1a1a" stroke="#1a1a1a" stroke-width="0.22" letter-spacing="0.6">10</text>
<line x1="456.2" y1="417.5" x2="456.2" y2="422" stroke="#111" stroke-width="1.6" stroke-linecap="butt"/>
<text x="456.5" y="433.7" font-size="10" text-anchor="middle" fill="#1a1a1a" stroke="#1a1a1a" stroke-width="0.22" letter-spacing="0.6">12</text>
<text x="370.6" y="330.5" font-size="10" text-anchor="start" fill="#1a1a1a" stroke="#1a1a1a" stroke-width="0.22" >r = 0.57, <tspan font-style="italic">p</tspan> <tspan font-size="13.5" dy="0.9">&lt;</tspan><tspan dy="-0.9"> 0.0001</tspan></text>
<line x1="28" y1="24.8" x2="28" y2="434.4" stroke="#151515" stroke-width="2.0" stroke-linecap="butt"/>
<line x1="191" y1="24.8" x2="191" y2="434.4" stroke="#151515" stroke-width="2.0" stroke-linecap="butt"/>
<line x1="345.2" y1="24.8" x2="345.2" y2="434.4" stroke="#151515" stroke-width="2.0" stroke-linecap="butt"/>
<text x="511.8" y="98.8" font-size="10.4" text-anchor="end" fill="#444" stroke="#444" stroke-width="0.22" font-style="italic">CCL5</text>
<text x="511.8" y="240.9" font-size="10.4" text-anchor="end" fill="#444" stroke="#444" stroke-width="0.22" font-style="italic">CD14</text>
<text x="511.8" y="388.7" font-size="10.4" text-anchor="end" fill="#444" stroke="#444" stroke-width="0.22" font-style="italic">CD68</text>
<text transform="translate(20.0,238.6) rotate(-90)" font-size="10" font-style="italic" fill="#222" textLength="17.6" lengthAdjust="spacingAndGlyphs">CCR1</text>
<text transform="translate(182.4,238.6) rotate(-90)" font-size="10" font-style="italic" fill="#222" textLength="17.6" lengthAdjust="spacingAndGlyphs">CCR3</text>
<text transform="translate(337.0,238.6) rotate(-90)" font-size="10" font-style="italic" fill="#222" textLength="17.6" lengthAdjust="spacingAndGlyphs">CCR5</text>
<text x="9" y="20.9" font-size="15.3" text-anchor="start" fill="#111" stroke="#111" stroke-width="0.22" font-weight="bold">A</text>
<text x="9.2" y="472.7" font-size="15.5" text-anchor="start" fill="#111" stroke="#111" stroke-width="0.22" font-weight="bold">B</text>
<line x1="56.8" y1="469" x2="56.8" y2="593.5" stroke="#111" stroke-width="1.6" stroke-linecap="butt"/>
<line x1="56" y1="593.3" x2="181.8" y2="593.3" stroke="#111" stroke-width="1.6" stroke-linecap="butt"/>
<line x1="53.8" y1="474.3" x2="56.8" y2="474.3" stroke="#111" stroke-width="1.3" stroke-linecap="butt"/>
<line x1="53.8" y1="482.2" x2="56.8" y2="482.2" stroke="#111" stroke-width="1.3" stroke-linecap="butt"/>
<line x1="53.8" y1="490.2" x2="56.8" y2="490.2" stroke="#111" stroke-width="1.3" stroke-linecap="butt"/>
<line x1="52.2" y1="498.2" x2="56.8" y2="498.2" stroke="#111" stroke-width="1.3" stroke-linecap="butt"/>
<line x1="53.8" y1="506.1" x2="56.8" y2="506.1" stroke="#111" stroke-width="1.3" stroke-linecap="butt"/>
<line x1="53.8" y1="514" x2="56.8" y2="514" stroke="#111" stroke-width="1.3" stroke-linecap="butt"/>
<line x1="53.8" y1="522" x2="56.8" y2="522" stroke="#111" stroke-width="1.3" stroke-linecap="butt"/>
<line x1="52.2" y1="530" x2="56.8" y2="530" stroke="#111" stroke-width="1.3" stroke-linecap="butt"/>
<line x1="53.8" y1="537.9" x2="56.8" y2="537.9" stroke="#111" stroke-width="1.3" stroke-linecap="butt"/>
<line x1="53.8" y1="545.9" x2="56.8" y2="545.9" stroke="#111" stroke-width="1.3" stroke-linecap="butt"/>
<line x1="53.8" y1="553.8" x2="56.8" y2="553.8" stroke="#111" stroke-width="1.3" stroke-linecap="butt"/>
<line x1="52.2" y1="561.8" x2="56.8" y2="561.8" stroke="#111" stroke-width="1.3" stroke-linecap="butt"/>
<line x1="53.8" y1="569.7" x2="56.8" y2="569.7" stroke="#111" stroke-width="1.3" stroke-linecap="butt"/>
<line x1="53.8" y1="577.6" x2="56.8" y2="577.6" stroke="#111" stroke-width="1.3" stroke-linecap="butt"/>
<line x1="53.8" y1="585.6" x2="56.8" y2="585.6" stroke="#111" stroke-width="1.3" stroke-linecap="butt"/>
<line x1="52.2" y1="593.5" x2="56.8" y2="593.5" stroke="#111" stroke-width="1.3" stroke-linecap="butt"/>
<line x1="73.3" y1="593.3" x2="73.3" y2="597.6" stroke="#111" stroke-width="1.0" stroke-linecap="butt"/>
<line x1="79.6" y1="593.3" x2="79.6" y2="596.3" stroke="#111" stroke-width="1.0" stroke-linecap="butt"/>
<line x1="83.3" y1="593.3" x2="83.3" y2="596.3" stroke="#111" stroke-width="1.0" stroke-linecap="butt"/>
<line x1="85.9" y1="593.3" x2="85.9" y2="596.3" stroke="#111" stroke-width="1.0" stroke-linecap="butt"/>
<line x1="88" y1="593.3" x2="88" y2="596.3" stroke="#111" stroke-width="1.0" stroke-linecap="butt"/>
<line x1="89.6" y1="593.3" x2="89.6" y2="596.3" stroke="#111" stroke-width="1.0" stroke-linecap="butt"/>
<line x1="91" y1="593.3" x2="91" y2="596.3" stroke="#111" stroke-width="1.0" stroke-linecap="butt"/>
<line x1="92.3" y1="593.3" x2="92.3" y2="596.3" stroke="#111" stroke-width="1.0" stroke-linecap="butt"/>
<line x1="93.3" y1="593.3" x2="93.3" y2="596.3" stroke="#111" stroke-width="1.0" stroke-linecap="butt"/>
<line x1="94.3" y1="593.3" x2="94.3" y2="597.6" stroke="#111" stroke-width="1.0" stroke-linecap="butt"/>
<line x1="100.6" y1="593.3" x2="100.6" y2="596.3" stroke="#111" stroke-width="1.0" stroke-linecap="butt"/>
<line x1="104.3" y1="593.3" x2="104.3" y2="596.3" stroke="#111" stroke-width="1.0" stroke-linecap="butt"/>
<line x1="106.9" y1="593.3" x2="106.9" y2="596.3" stroke="#111" stroke-width="1.0" stroke-linecap="butt"/>
<line x1="109" y1="593.3" x2="109" y2="596.3" stroke="#111" stroke-width="1.0" stroke-linecap="butt"/>
<line x1="110.6" y1="593.3" x2="110.6" y2="596.3" stroke="#111" stroke-width="1.0" stroke-linecap="butt"/>
<line x1="112" y1="593.3" x2="112" y2="596.3" stroke="#111" stroke-width="1.0" stroke-linecap="butt"/>
<line x1="113.3" y1="593.3" x2="113.3" y2="596.3" stroke="#111" stroke-width="1.0" stroke-linecap="butt"/>
<line x1="114.3" y1="593.3" x2="114.3" y2="596.3" stroke="#111" stroke-width="1.0" stroke-linecap="butt"/>
<line x1="115.5" y1="593.3" x2="115.5" y2="597.6" stroke="#111" stroke-width="1.0" stroke-linecap="butt"/>
<line x1="121.8" y1="593.3" x2="121.8" y2="596.3" stroke="#111" stroke-width="1.0" stroke-linecap="butt"/>
<line x1="125.5" y1="593.3" x2="125.5" y2="596.3" stroke="#111" stroke-width="1.0" stroke-linecap="butt"/>
<line x1="128.1" y1="593.3" x2="128.1" y2="596.3" stroke="#111" stroke-width="1.0" stroke-linecap="butt"/>
<line x1="130.2" y1="593.3" x2="130.2" y2="596.3" stroke="#111" stroke-width="1.0" stroke-linecap="butt"/>
<line x1="131.8" y1="593.3" x2="131.8" y2="596.3" stroke="#111" stroke-width="1.0" stroke-linecap="butt"/>
<line x1="133.2" y1="593.3" x2="133.2" y2="596.3" stroke="#111" stroke-width="1.0" stroke-linecap="butt"/>
<line x1="134.5" y1="593.3" x2="134.5" y2="596.3" stroke="#111" stroke-width="1.0" stroke-linecap="butt"/>
<line x1="135.5" y1="593.3" x2="135.5" y2="596.3" stroke="#111" stroke-width="1.0" stroke-linecap="butt"/>
<line x1="136.3" y1="593.3" x2="136.3" y2="597.6" stroke="#111" stroke-width="1.0" stroke-linecap="butt"/>
<line x1="142.6" y1="593.3" x2="142.6" y2="596.3" stroke="#111" stroke-width="1.0" stroke-linecap="butt"/>
<line x1="146.3" y1="593.3" x2="146.3" y2="596.3" stroke="#111" stroke-width="1.0" stroke-linecap="butt"/>
<line x1="148.9" y1="593.3" x2="148.9" y2="596.3" stroke="#111" stroke-width="1.0" stroke-linecap="butt"/>
<line x1="151" y1="593.3" x2="151" y2="596.3" stroke="#111" stroke-width="1.0" stroke-linecap="butt"/>
<line x1="152.6" y1="593.3" x2="152.6" y2="596.3" stroke="#111" stroke-width="1.0" stroke-linecap="butt"/>
<line x1="154" y1="593.3" x2="154" y2="596.3" stroke="#111" stroke-width="1.0" stroke-linecap="butt"/>
<line x1="155.3" y1="593.3" x2="155.3" y2="596.3" stroke="#111" stroke-width="1.0" stroke-linecap="butt"/>
<line x1="156.3" y1="593.3" x2="156.3" y2="596.3" stroke="#111" stroke-width="1.0" stroke-linecap="butt"/>
<line x1="156.5" y1="593.3" x2="156.5" y2="597.6" stroke="#111" stroke-width="1.0" stroke-linecap="butt"/>
<line x1="162.8" y1="593.3" x2="162.8" y2="596.3" stroke="#111" stroke-width="1.0" stroke-linecap="butt"/>
<line x1="166.5" y1="593.3" x2="166.5" y2="596.3" stroke="#111" stroke-width="1.0" stroke-linecap="butt"/>
<line x1="169.1" y1="593.3" x2="169.1" y2="596.3" stroke="#111" stroke-width="1.0" stroke-linecap="butt"/>
<line x1="171.2" y1="593.3" x2="171.2" y2="596.3" stroke="#111" stroke-width="1.0" stroke-linecap="butt"/>
<line x1="172.8" y1="593.3" x2="172.8" y2="596.3" stroke="#111" stroke-width="1.0" stroke-linecap="butt"/>
<line x1="174.2" y1="593.3" x2="174.2" y2="596.3" stroke="#111" stroke-width="1.0" stroke-linecap="butt"/>
<line x1="175.5" y1="593.3" x2="175.5" y2="596.3" stroke="#111" stroke-width="1.0" stroke-linecap="butt"/>
<line x1="176.5" y1="593.3" x2="176.5" y2="596.3" stroke="#111" stroke-width="1.0" stroke-linecap="butt"/>
<line x1="177.3" y1="593.3" x2="177.3" y2="597.6" stroke="#111" stroke-width="1.0" stroke-linecap="butt"/>
<line x1="273.3" y1="469" x2="273.3" y2="593.5" stroke="#111" stroke-width="1.6" stroke-linecap="butt"/>
<line x1="272.5" y1="593.3" x2="401.6" y2="593.3" stroke="#111" stroke-width="1.6" stroke-linecap="butt"/>
<line x1="270.3" y1="474.3" x2="273.3" y2="474.3" stroke="#111" stroke-width="1.3" stroke-linecap="butt"/>
<line x1="270.3" y1="482.2" x2="273.3" y2="482.2" stroke="#111" stroke-width="1.3" stroke-linecap="butt"/>
<line x1="270.3" y1="490.2" x2="273.3" y2="490.2" stroke="#111" stroke-width="1.3" stroke-linecap="butt"/>
<line x1="268.7" y1="498.2" x2="273.3" y2="498.2" stroke="#111" stroke-width="1.3" stroke-linecap="butt"/>
<line x1="270.3" y1="506.1" x2="273.3" y2="506.1" stroke="#111" stroke-width="1.3" stroke-linecap="butt"/>
<line x1="270.3" y1="514" x2="273.3" y2="514" stroke="#111" stroke-width="1.3" stroke-linecap="butt"/>
<line x1="270.3" y1="522" x2="273.3" y2="522" stroke="#111" stroke-width="1.3" stroke-linecap="butt"/>
<line x1="268.7" y1="530" x2="273.3" y2="530" stroke="#111" stroke-width="1.3" stroke-linecap="butt"/>
<line x1="270.3" y1="537.9" x2="273.3" y2="537.9" stroke="#111" stroke-width="1.3" stroke-linecap="butt"/>
<line x1="270.3" y1="545.9" x2="273.3" y2="545.9" stroke="#111" stroke-width="1.3" stroke-linecap="butt"/>
<line x1="270.3" y1="553.8" x2="273.3" y2="553.8" stroke="#111" stroke-width="1.3" stroke-linecap="butt"/>
<line x1="268.7" y1="561.8" x2="273.3" y2="561.8" stroke="#111" stroke-width="1.3" stroke-linecap="butt"/>
<line x1="270.3" y1="569.7" x2="273.3" y2="569.7" stroke="#111" stroke-width="1.3" stroke-linecap="butt"/>
<line x1="270.3" y1="577.6" x2="273.3" y2="577.6" stroke="#111" stroke-width="1.3" stroke-linecap="butt"/>
<line x1="270.3" y1="585.6" x2="273.3" y2="585.6" stroke="#111" stroke-width="1.3" stroke-linecap="butt"/>
<line x1="268.7" y1="593.5" x2="273.3" y2="593.5" stroke="#111" stroke-width="1.3" stroke-linecap="butt"/>
<line x1="290" y1="593.3" x2="290" y2="597.6" stroke="#111" stroke-width="1.0" stroke-linecap="butt"/>
<line x1="296.3" y1="593.3" x2="296.3" y2="596.3" stroke="#111" stroke-width="1.0" stroke-linecap="butt"/>
<line x1="300" y1="593.3" x2="300" y2="596.3" stroke="#111" stroke-width="1.0" stroke-linecap="butt"/>
<line x1="302.6" y1="593.3" x2="302.6" y2="596.3" stroke="#111" stroke-width="1.0" stroke-linecap="butt"/>
<line x1="304.7" y1="593.3" x2="304.7" y2="596.3" stroke="#111" stroke-width="1.0" stroke-linecap="butt"/>
<line x1="306.3" y1="593.3" x2="306.3" y2="596.3" stroke="#111" stroke-width="1.0" stroke-linecap="butt"/>
<line x1="307.7" y1="593.3" x2="307.7" y2="596.3" stroke="#111" stroke-width="1.0" stroke-linecap="butt"/>
<line x1="309" y1="593.3" x2="309" y2="596.3" stroke="#111" stroke-width="1.0" stroke-linecap="butt"/>
<line x1="310" y1="593.3" x2="310" y2="596.3" stroke="#111" stroke-width="1.0" stroke-linecap="butt"/>
<line x1="311" y1="593.3" x2="311" y2="597.6" stroke="#111" stroke-width="1.0" stroke-linecap="butt"/>
<line x1="317.3" y1="593.3" x2="317.3" y2="596.3" stroke="#111" stroke-width="1.0" stroke-linecap="butt"/>
<line x1="321" y1="593.3" x2="321" y2="596.3" stroke="#111" stroke-width="1.0" stroke-linecap="butt"/>
<line x1="323.6" y1="593.3" x2="323.6" y2="596.3" stroke="#111" stroke-width="1.0" stroke-linecap="butt"/>
<line x1="325.7" y1="593.3" x2="325.7" y2="596.3" stroke="#111" stroke-width="1.0" stroke-linecap="butt"/>
<line x1="327.3" y1="593.3" x2="327.3" y2="596.3" stroke="#111" stroke-width="1.0" stroke-linecap="butt"/>
<line x1="328.7" y1="593.3" x2="328.7" y2="596.3" stroke="#111" stroke-width="1.0" stroke-linecap="butt"/>
<line x1="330" y1="593.3" x2="330" y2="596.3" stroke="#111" stroke-width="1.0" stroke-linecap="butt"/>
<line x1="331" y1="593.3" x2="331" y2="596.3" stroke="#111" stroke-width="1.0" stroke-linecap="butt"/>
<line x1="332" y1="593.3" x2="332" y2="597.6" stroke="#111" stroke-width="1.0" stroke-linecap="butt"/>
<line x1="338.3" y1="593.3" x2="338.3" y2="596.3" stroke="#111" stroke-width="1.0" stroke-linecap="butt"/>
<line x1="342" y1="593.3" x2="342" y2="596.3" stroke="#111" stroke-width="1.0" stroke-linecap="butt"/>
<line x1="344.6" y1="593.3" x2="344.6" y2="596.3" stroke="#111" stroke-width="1.0" stroke-linecap="butt"/>
<line x1="346.7" y1="593.3" x2="346.7" y2="596.3" stroke="#111" stroke-width="1.0" stroke-linecap="butt"/>
<line x1="348.3" y1="593.3" x2="348.3" y2="596.3" stroke="#111" stroke-width="1.0" stroke-linecap="butt"/>
<line x1="349.7" y1="593.3" x2="349.7" y2="596.3" stroke="#111" stroke-width="1.0" stroke-linecap="butt"/>
<line x1="351" y1="593.3" x2="351" y2="596.3" stroke="#111" stroke-width="1.0" stroke-linecap="butt"/>
<line x1="352" y1="593.3" x2="352" y2="596.3" stroke="#111" stroke-width="1.0" stroke-linecap="butt"/>
<line x1="353.5" y1="593.3" x2="353.5" y2="597.6" stroke="#111" stroke-width="1.0" stroke-linecap="butt"/>
<line x1="359.8" y1="593.3" x2="359.8" y2="596.3" stroke="#111" stroke-width="1.0" stroke-linecap="butt"/>
<line x1="363.5" y1="593.3" x2="363.5" y2="596.3" stroke="#111" stroke-width="1.0" stroke-linecap="butt"/>
<line x1="366.1" y1="593.3" x2="366.1" y2="596.3" stroke="#111" stroke-width="1.0" stroke-linecap="butt"/>
<line x1="368.2" y1="593.3" x2="368.2" y2="596.3" stroke="#111" stroke-width="1.0" stroke-linecap="butt"/>
<line x1="369.8" y1="593.3" x2="369.8" y2="596.3" stroke="#111" stroke-width="1.0" stroke-linecap="butt"/>
<line x1="371.2" y1="593.3" x2="371.2" y2="596.3" stroke="#111" stroke-width="1.0" stroke-linecap="butt"/>
<line x1="372.5" y1="593.3" x2="372.5" y2="596.3" stroke="#111" stroke-width="1.0" stroke-linecap="butt"/>
<line x1="373.5" y1="593.3" x2="373.5" y2="596.3" stroke="#111" stroke-width="1.0" stroke-linecap="butt"/>
<line x1="375" y1="593.3" x2="375" y2="597.6" stroke="#111" stroke-width="1.0" stroke-linecap="butt"/>
<line x1="381.3" y1="593.3" x2="381.3" y2="596.3" stroke="#111" stroke-width="1.0" stroke-linecap="butt"/>
<line x1="385" y1="593.3" x2="385" y2="596.3" stroke="#111" stroke-width="1.0" stroke-linecap="butt"/>
<line x1="387.6" y1="593.3" x2="387.6" y2="596.3" stroke="#111" stroke-width="1.0" stroke-linecap="butt"/>
<line x1="389.7" y1="593.3" x2="389.7" y2="596.3" stroke="#111" stroke-width="1.0" stroke-linecap="butt"/>
<line x1="391.3" y1="593.3" x2="391.3" y2="596.3" stroke="#111" stroke-width="1.0" stroke-linecap="butt"/>
<line x1="392.7" y1="593.3" x2="392.7" y2="596.3" stroke="#111" stroke-width="1.0" stroke-linecap="butt"/>
<line x1="394" y1="593.3" x2="394" y2="596.3" stroke="#111" stroke-width="1.0" stroke-linecap="butt"/>
<line x1="395" y1="593.3" x2="395" y2="596.3" stroke="#111" stroke-width="1.0" stroke-linecap="butt"/>
<line x1="396" y1="593.3" x2="396" y2="597.6" stroke="#111" stroke-width="1.0" stroke-linecap="butt"/>
<path d="M37.5 593.0 V607.2 H51.5" fill="none" stroke="#111" stroke-width="1.6"/>
<path d="M37.5 585.0 L35.0 593.8 L40.0 593.8Z" fill="#111"/>
<path d="M60.0 607.2 L51.2 604.7 L51.2 609.7Z" fill="#111"/>
<path d="M254.2 593.2 V606.9 H267.7" fill="none" stroke="#111" stroke-width="1.6"/>
<path d="M254.2 585.2 L251.7 594.0 L256.7 594.0Z" fill="#111"/>
<path d="M276.2 606.9 L267.4 604.4 L267.4 609.4Z" fill="#111"/>
<line x1="178.7" y1="549.2" x2="214" y2="549.2" stroke="#111" stroke-width="1.7" stroke-linecap="butt"/>
<path d="M227.9 549.2 L212.4 544.9 L212.4 553.5Z" fill="#111"/>
<text transform="translate(42.4,577.2) rotate(-90)" font-size="13" fill="#1a1a1a" stroke="#1a1a1a" stroke-width="0.35" textLength="15.4" lengthAdjust="spacingAndGlyphs">FSC</text>
<text x="67.7" y="611.6" font-size="11" fill="#1a1a1a" stroke="#1a1a1a" stroke-width="0.35" textLength="61.8" lengthAdjust="spacingAndGlyphs">CD14 (log fluo.)</text>
<text x="283.6" y="611.6" font-size="11" fill="#1a1a1a" stroke="#1a1a1a" stroke-width="0.35" textLength="62.0" lengthAdjust="spacingAndGlyphs">CCR5 (log fluo.)</text>
<text transform="translate(260.0,581.3) rotate(-90)" font-size="11" fill="#1a1a1a" stroke="#1a1a1a" stroke-width="0.35" textLength="61.3" lengthAdjust="spacingAndGlyphs">CCR1 (log fluo.)</text>
<text x="276" y="482.6" font-size="10.4" text-anchor="start" fill="#1a1a1a" stroke="#1a1a1a" stroke-width="0.22" >2.16%</text>
<text x="402.2" y="482.6" font-size="10.4" text-anchor="end" fill="#1a1a1a" stroke="#1a1a1a" stroke-width="0.22" >89.95%</text>
<text x="276.4" y="588.9" font-size="10.4" text-anchor="start" fill="#1a1a1a" stroke="#1a1a1a" stroke-width="0.22" >2.53%</text>
<text x="401.9" y="588.9" font-size="10.4" text-anchor="end" fill="#1a1a1a" stroke="#1a1a1a" stroke-width="0.22" >5.35%</text>
<path d="M57.8 593 L57.8 576.5 L62 574 L70 573.6 L80 571.2 L85 568.5 L90 563 L95 555 L98 549 L100.8 543 L103 536 L105.5 528 L108 520 L110 512 L111.2 505 L113.2 499 L115 497.5 L116.8 499 L117.4 510 L117.6 530 L118 545 L118.6 560 L120 570 L123 578 L128 584 L134 588 L140 591 L144 593Z" fill="#000"/>
<path d="M122 468h1.25v1.25h-1.25zM117 469h1.25v1.25h-1.25zM123 469h1.25v1.25h-1.25zM125 469h1.25v1.25h-1.25zM125 470h1.25v1.25h-1.25zM117 471h1.25v1.25h-1.25zM119 471h1.25v1.25h-1.25zM120 471h1.25v1.25h-1.25zM123 471h1.25v1.25h-1.25zM119 472h1.25v1.25h-1.25zM121 472h1.25v1.25h-1.25zM123 472h1.25v1.25h-1.25zM125 472h1.25v1.25h-1.25zM117 473h1.25v1.25h-1.25zM118 474h1.25v1.25h-1.25zM119 474h1.25v1.25h-1.25zM120 474h1.25v1.25h-1.25zM121 474h1.25v1.25h-1.25zM122 474h1.25v1.25h-1.25zM123 474h1.25v1.25h-1.25zM126 474h1.25v1.25h-1.25zM114 475h1.25v1.25h-1.25zM118 475h1.25v1.25h-1.25zM120 475h1.25v1.25h-1.25zM121 475h1.25v1.25h-1.25zM122 475h1.25v1.25h-1.25zM124 475h1.25v1.25h-1.25zM116 476h1.25v1.25h-1.25zM117 476h1.25v1.25h-1.25zM119 476h1.25v1.25h-1.25zM120 476h1.25v1.25h-1.25zM122 476h1.25v1.25h-1.25zM114 477h1.25v1.25h-1.25zM117 477h1.25v1.25h-1.25zM118 477h1.25v1.25h-1.25zM119 477h1.25v1.25h-1.25zM120 477h1.25v1.25h-1.25zM121 477h1.25v1.25h-1.25zM122 477h1.25v1.25h-1.25zM115 478h1.25v1.25h-1.25zM118 479h1.25v1.25h-1.25zM119 479h1.25v1.25h-1.25zM121 479h1.25v1.25h-1.25zM122 479h1.25v1.25h-1.25zM125 479h1.25v1.25h-1.25zM113 480h1.25v1.25h-1.25zM116 480h1.25v1.25h-1.25zM121 480h1.25v1.25h-1.25zM122 480h1.25v1.25h-1.25zM123 480h1.25v1.25h-1.25zM113 481h1.25v1.25h-1.25zM116 481h1.25v1.25h-1.25zM118 481h1.25v1.25h-1.25zM119 481h1.25v1.25h-1.25zM121 481h1.25v1.25h-1.25zM122 481h1.25v1.25h-1.25zM115 482h1.25v1.25h-1.25zM116 482h1.25v1.25h-1.25zM117 482h1.25v1.25h-1.25zM118 482h1.25v1.25h-1.25zM119 482h1.25v1.25h-1.25zM121 482h1.25v1.25h-1.25zM124 482h1.25v1.25h-1.25zM113 483h1.25v1.25h-1.25zM114 483h1.25v1.25h-1.25zM117 483h1.25v1.25h-1.25zM118 483h1.25v1.25h-1.25zM119 483h1.25v1.25h-1.25zM120 483h1.25v1.25h-1.25zM121 483h1.25v1.25h-1.25zM123 483h1.25v1.25h-1.25zM111 484h1.25v1.25h-1.25zM114 484h1.25v1.25h-1.25zM115 484h1.25v1.25h-1.25zM117 484h1.25v1.25h-1.25zM118 484h1.25v1.25h-1.25zM119 484h1.25v1.25h-1.25zM120 484h1.25v1.25h-1.25zM121 484h1.25v1.25h-1.25zM123 484h1.25v1.25h-1.25zM115 485h1.25v1.25h-1.25zM116 485h1.25v1.25h-1.25zM117 485h1.25v1.25h-1.25zM118 485h1.25v1.25h-1.25zM119 485h1.25v1.25h-1.25zM120 485h1.25v1.25h-1.25zM124 485h1.25v1.25h-1.25zM114 486h1.25v1.25h-1.25zM115 486h1.25v1.25h-1.25zM116 486h1.25v1.25h-1.25zM119 486h1.25v1.25h-1.25zM121 486h1.25v1.25h-1.25zM110 487h1.25v1.25h-1.25zM111 487h1.25v1.25h-1.25zM115 487h1.25v1.25h-1.25zM116 487h1.25v1.25h-1.25zM117 487h1.25v1.25h-1.25zM119 487h1.25v1.25h-1.25zM120 487h1.25v1.25h-1.25zM121 487h1.25v1.25h-1.25zM123 487h1.25v1.25h-1.25zM114 488h1.25v1.25h-1.25zM115 488h1.25v1.25h-1.25zM118 488h1.25v1.25h-1.25zM119 488h1.25v1.25h-1.25zM122 488h1.25v1.25h-1.25zM113 489h1.25v1.25h-1.25zM115 489h1.25v1.25h-1.25zM117 489h1.25v1.25h-1.25zM122 489h1.25v1.25h-1.25zM123 489h1.25v1.25h-1.25zM112 490h1.25v1.25h-1.25zM113 490h1.25v1.25h-1.25zM114 490h1.25v1.25h-1.25zM115 490h1.25v1.25h-1.25zM112 491h1.25v1.25h-1.25zM114 491h1.25v1.25h-1.25zM115 491h1.25v1.25h-1.25zM116 491h1.25v1.25h-1.25zM119 491h1.25v1.25h-1.25zM120 491h1.25v1.25h-1.25zM110 492h1.25v1.25h-1.25zM112 492h1.25v1.25h-1.25zM113 492h1.25v1.25h-1.25zM114 492h1.25v1.25h-1.25zM116 492h1.25v1.25h-1.25zM118 492h1.25v1.25h-1.25zM119 492h1.25v1.25h-1.25zM121 492h1.25v1.25h-1.25zM109 493h1.25v1.25h-1.25zM112 493h1.25v1.25h-1.25zM113 493h1.25v1.25h-1.25zM114 493h1.25v1.25h-1.25zM116 493h1.25v1.25h-1.25zM118 493h1.25v1.25h-1.25zM109 494h1.25v1.25h-1.25zM111 494h1.25v1.25h-1.25zM112 494h1.25v1.25h-1.25zM113 494h1.25v1.25h-1.25zM117 494h1.25v1.25h-1.25zM118 494h1.25v1.25h-1.25zM120 494h1.25v1.25h-1.25zM113 495h1.25v1.25h-1.25zM116 495h1.25v1.25h-1.25zM117 495h1.25v1.25h-1.25zM118 495h1.25v1.25h-1.25zM120 495h1.25v1.25h-1.25zM110 496h1.25v1.25h-1.25zM111 496h1.25v1.25h-1.25zM112 496h1.25v1.25h-1.25zM113 496h1.25v1.25h-1.25zM116 496h1.25v1.25h-1.25zM111 497h1.25v1.25h-1.25zM112 497h1.25v1.25h-1.25zM113 497h1.25v1.25h-1.25zM114 497h1.25v1.25h-1.25zM116 497h1.25v1.25h-1.25zM118 497h1.25v1.25h-1.25zM121 497h1.25v1.25h-1.25zM110 498h1.25v1.25h-1.25zM114 498h1.25v1.25h-1.25zM115 498h1.25v1.25h-1.25zM117 498h1.25v1.25h-1.25zM118 498h1.25v1.25h-1.25zM119 498h1.25v1.25h-1.25zM120 498h1.25v1.25h-1.25zM121 498h1.25v1.25h-1.25zM122 498h1.25v1.25h-1.25zM123 498h1.25v1.25h-1.25zM108 499h1.25v1.25h-1.25zM112 499h1.25v1.25h-1.25zM116 499h1.25v1.25h-1.25zM117 499h1.25v1.25h-1.25zM119 499h1.25v1.25h-1.25zM124 499h1.25v1.25h-1.25zM110 500h1.25v1.25h-1.25zM112 500h1.25v1.25h-1.25zM113 500h1.25v1.25h-1.25zM114 500h1.25v1.25h-1.25zM116 500h1.25v1.25h-1.25zM117 500h1.25v1.25h-1.25zM120 500h1.25v1.25h-1.25zM127 500h1.25v1.25h-1.25zM111 501h1.25v1.25h-1.25zM113 501h1.25v1.25h-1.25zM116 501h1.25v1.25h-1.25zM117 501h1.25v1.25h-1.25zM120 501h1.25v1.25h-1.25zM128 501h1.25v1.25h-1.25zM113 502h1.25v1.25h-1.25zM116 502h1.25v1.25h-1.25zM117 502h1.25v1.25h-1.25zM127 502h1.25v1.25h-1.25zM131 502h1.25v1.25h-1.25zM133 502h1.25v1.25h-1.25zM112 503h1.25v1.25h-1.25zM113 503h1.25v1.25h-1.25zM116 503h1.25v1.25h-1.25zM117 503h1.25v1.25h-1.25zM118 503h1.25v1.25h-1.25zM120 503h1.25v1.25h-1.25zM121 503h1.25v1.25h-1.25zM123 503h1.25v1.25h-1.25zM129 503h1.25v1.25h-1.25zM133 503h1.25v1.25h-1.25zM112 504h1.25v1.25h-1.25zM113 504h1.25v1.25h-1.25zM116 504h1.25v1.25h-1.25zM117 504h1.25v1.25h-1.25zM118 504h1.25v1.25h-1.25zM120 504h1.25v1.25h-1.25zM121 504h1.25v1.25h-1.25zM123 504h1.25v1.25h-1.25zM127 504h1.25v1.25h-1.25zM130 504h1.25v1.25h-1.25zM131 504h1.25v1.25h-1.25zM133 504h1.25v1.25h-1.25zM135 504h1.25v1.25h-1.25zM136 504h1.25v1.25h-1.25zM139 504h1.25v1.25h-1.25zM110 505h1.25v1.25h-1.25zM112 505h1.25v1.25h-1.25zM116 505h1.25v1.25h-1.25zM122 505h1.25v1.25h-1.25zM123 505h1.25v1.25h-1.25zM126 505h1.25v1.25h-1.25zM129 505h1.25v1.25h-1.25zM132 505h1.25v1.25h-1.25zM134 505h1.25v1.25h-1.25zM137 505h1.25v1.25h-1.25zM140 505h1.25v1.25h-1.25zM117 506h1.25v1.25h-1.25zM122 506h1.25v1.25h-1.25zM129 506h1.25v1.25h-1.25zM132 506h1.25v1.25h-1.25zM136 506h1.25v1.25h-1.25zM111 507h1.25v1.25h-1.25zM118 507h1.25v1.25h-1.25zM119 507h1.25v1.25h-1.25zM124 507h1.25v1.25h-1.25zM126 507h1.25v1.25h-1.25zM127 507h1.25v1.25h-1.25zM129 507h1.25v1.25h-1.25zM130 507h1.25v1.25h-1.25zM132 507h1.25v1.25h-1.25zM137 507h1.25v1.25h-1.25zM138 507h1.25v1.25h-1.25zM141 507h1.25v1.25h-1.25zM112 508h1.25v1.25h-1.25zM116 508h1.25v1.25h-1.25zM117 508h1.25v1.25h-1.25zM118 508h1.25v1.25h-1.25zM122 508h1.25v1.25h-1.25zM125 508h1.25v1.25h-1.25zM126 508h1.25v1.25h-1.25zM128 508h1.25v1.25h-1.25zM130 508h1.25v1.25h-1.25zM135 508h1.25v1.25h-1.25zM138 508h1.25v1.25h-1.25zM142 508h1.25v1.25h-1.25zM145 508h1.25v1.25h-1.25zM112 509h1.25v1.25h-1.25zM117 509h1.25v1.25h-1.25zM118 509h1.25v1.25h-1.25zM119 509h1.25v1.25h-1.25zM120 509h1.25v1.25h-1.25zM121 509h1.25v1.25h-1.25zM122 509h1.25v1.25h-1.25zM129 509h1.25v1.25h-1.25zM134 509h1.25v1.25h-1.25zM138 509h1.25v1.25h-1.25zM141 509h1.25v1.25h-1.25zM147 509h1.25v1.25h-1.25zM148 509h1.25v1.25h-1.25zM112 510h1.25v1.25h-1.25zM119 510h1.25v1.25h-1.25zM120 510h1.25v1.25h-1.25zM121 510h1.25v1.25h-1.25zM123 510h1.25v1.25h-1.25zM124 510h1.25v1.25h-1.25zM125 510h1.25v1.25h-1.25zM126 510h1.25v1.25h-1.25zM128 510h1.25v1.25h-1.25zM130 510h1.25v1.25h-1.25zM131 510h1.25v1.25h-1.25zM133 510h1.25v1.25h-1.25zM134 510h1.25v1.25h-1.25zM136 510h1.25v1.25h-1.25zM138 510h1.25v1.25h-1.25zM145 510h1.25v1.25h-1.25zM118 511h1.25v1.25h-1.25zM119 511h1.25v1.25h-1.25zM121 511h1.25v1.25h-1.25zM123 511h1.25v1.25h-1.25zM124 511h1.25v1.25h-1.25zM127 511h1.25v1.25h-1.25zM130 511h1.25v1.25h-1.25zM131 511h1.25v1.25h-1.25zM132 511h1.25v1.25h-1.25zM135 511h1.25v1.25h-1.25zM139 511h1.25v1.25h-1.25zM140 511h1.25v1.25h-1.25zM145 511h1.25v1.25h-1.25zM109 512h1.25v1.25h-1.25zM111 512h1.25v1.25h-1.25zM116 512h1.25v1.25h-1.25zM117 512h1.25v1.25h-1.25zM118 512h1.25v1.25h-1.25zM119 512h1.25v1.25h-1.25zM120 512h1.25v1.25h-1.25zM121 512h1.25v1.25h-1.25zM122 512h1.25v1.25h-1.25zM125 512h1.25v1.25h-1.25zM127 512h1.25v1.25h-1.25zM128 512h1.25v1.25h-1.25zM129 512h1.25v1.25h-1.25zM130 512h1.25v1.25h-1.25zM131 512h1.25v1.25h-1.25zM132 512h1.25v1.25h-1.25zM134 512h1.25v1.25h-1.25zM135 512h1.25v1.25h-1.25zM136 512h1.25v1.25h-1.25zM139 512h1.25v1.25h-1.25zM143 512h1.25v1.25h-1.25zM150 512h1.25v1.25h-1.25zM110 513h1.25v1.25h-1.25zM117 513h1.25v1.25h-1.25zM118 513h1.25v1.25h-1.25zM119 513h1.25v1.25h-1.25zM120 513h1.25v1.25h-1.25zM123 513h1.25v1.25h-1.25zM124 513h1.25v1.25h-1.25zM127 513h1.25v1.25h-1.25zM128 513h1.25v1.25h-1.25zM131 513h1.25v1.25h-1.25zM136 513h1.25v1.25h-1.25zM144 513h1.25v1.25h-1.25zM149 513h1.25v1.25h-1.25zM150 513h1.25v1.25h-1.25zM107 514h1.25v1.25h-1.25zM109 514h1.25v1.25h-1.25zM116 514h1.25v1.25h-1.25zM117 514h1.25v1.25h-1.25zM118 514h1.25v1.25h-1.25zM120 514h1.25v1.25h-1.25zM121 514h1.25v1.25h-1.25zM122 514h1.25v1.25h-1.25zM123 514h1.25v1.25h-1.25zM127 514h1.25v1.25h-1.25zM129 514h1.25v1.25h-1.25zM134 514h1.25v1.25h-1.25zM138 514h1.25v1.25h-1.25zM139 514h1.25v1.25h-1.25zM141 514h1.25v1.25h-1.25zM145 514h1.25v1.25h-1.25zM147 514h1.25v1.25h-1.25zM108 515h1.25v1.25h-1.25zM110 515h1.25v1.25h-1.25zM116 515h1.25v1.25h-1.25zM119 515h1.25v1.25h-1.25zM121 515h1.25v1.25h-1.25zM122 515h1.25v1.25h-1.25zM123 515h1.25v1.25h-1.25zM124 515h1.25v1.25h-1.25zM125 515h1.25v1.25h-1.25zM128 515h1.25v1.25h-1.25zM129 515h1.25v1.25h-1.25zM131 515h1.25v1.25h-1.25zM132 515h1.25v1.25h-1.25zM135 515h1.25v1.25h-1.25zM136 515h1.25v1.25h-1.25zM139 515h1.25v1.25h-1.25zM140 515h1.25v1.25h-1.25zM142 515h1.25v1.25h-1.25zM143 515h1.25v1.25h-1.25zM145 515h1.25v1.25h-1.25zM150 515h1.25v1.25h-1.25zM109 516h1.25v1.25h-1.25zM116 516h1.25v1.25h-1.25zM117 516h1.25v1.25h-1.25zM119 516h1.25v1.25h-1.25zM120 516h1.25v1.25h-1.25zM121 516h1.25v1.25h-1.25zM122 516h1.25v1.25h-1.25zM123 516h1.25v1.25h-1.25zM128 516h1.25v1.25h-1.25zM129 516h1.25v1.25h-1.25zM131 516h1.25v1.25h-1.25zM132 516h1.25v1.25h-1.25zM133 516h1.25v1.25h-1.25zM135 516h1.25v1.25h-1.25zM137 516h1.25v1.25h-1.25zM138 516h1.25v1.25h-1.25zM139 516h1.25v1.25h-1.25zM140 516h1.25v1.25h-1.25zM141 516h1.25v1.25h-1.25zM145 516h1.25v1.25h-1.25zM106 517h1.25v1.25h-1.25zM116 517h1.25v1.25h-1.25zM118 517h1.25v1.25h-1.25zM119 517h1.25v1.25h-1.25zM120 517h1.25v1.25h-1.25zM121 517h1.25v1.25h-1.25zM123 517h1.25v1.25h-1.25zM125 517h1.25v1.25h-1.25zM134 517h1.25v1.25h-1.25zM135 517h1.25v1.25h-1.25zM138 517h1.25v1.25h-1.25zM140 517h1.25v1.25h-1.25zM141 517h1.25v1.25h-1.25zM150 517h1.25v1.25h-1.25zM109 518h1.25v1.25h-1.25zM110 518h1.25v1.25h-1.25zM116 518h1.25v1.25h-1.25zM117 518h1.25v1.25h-1.25zM118 518h1.25v1.25h-1.25zM119 518h1.25v1.25h-1.25zM121 518h1.25v1.25h-1.25zM123 518h1.25v1.25h-1.25zM124 518h1.25v1.25h-1.25zM125 518h1.25v1.25h-1.25zM126 518h1.25v1.25h-1.25zM128 518h1.25v1.25h-1.25zM131 518h1.25v1.25h-1.25zM132 518h1.25v1.25h-1.25zM133 518h1.25v1.25h-1.25zM134 518h1.25v1.25h-1.25zM135 518h1.25v1.25h-1.25zM137 518h1.25v1.25h-1.25zM138 518h1.25v1.25h-1.25zM139 518h1.25v1.25h-1.25zM140 518h1.25v1.25h-1.25zM144 518h1.25v1.25h-1.25zM147 518h1.25v1.25h-1.25zM148 518h1.25v1.25h-1.25zM110 519h1.25v1.25h-1.25zM116 519h1.25v1.25h-1.25zM118 519h1.25v1.25h-1.25zM119 519h1.25v1.25h-1.25zM122 519h1.25v1.25h-1.25zM123 519h1.25v1.25h-1.25zM124 519h1.25v1.25h-1.25zM125 519h1.25v1.25h-1.25zM126 519h1.25v1.25h-1.25zM127 519h1.25v1.25h-1.25zM128 519h1.25v1.25h-1.25zM129 519h1.25v1.25h-1.25zM131 519h1.25v1.25h-1.25zM132 519h1.25v1.25h-1.25zM133 519h1.25v1.25h-1.25zM135 519h1.25v1.25h-1.25zM138 519h1.25v1.25h-1.25zM141 519h1.25v1.25h-1.25zM142 519h1.25v1.25h-1.25zM145 519h1.25v1.25h-1.25zM107 520h1.25v1.25h-1.25zM108 520h1.25v1.25h-1.25zM109 520h1.25v1.25h-1.25zM116 520h1.25v1.25h-1.25zM117 520h1.25v1.25h-1.25zM118 520h1.25v1.25h-1.25zM120 520h1.25v1.25h-1.25zM121 520h1.25v1.25h-1.25zM123 520h1.25v1.25h-1.25zM124 520h1.25v1.25h-1.25zM126 520h1.25v1.25h-1.25zM129 520h1.25v1.25h-1.25zM130 520h1.25v1.25h-1.25zM131 520h1.25v1.25h-1.25zM132 520h1.25v1.25h-1.25zM135 520h1.25v1.25h-1.25zM137 520h1.25v1.25h-1.25zM139 520h1.25v1.25h-1.25zM141 520h1.25v1.25h-1.25zM143 520h1.25v1.25h-1.25zM144 520h1.25v1.25h-1.25zM146 520h1.25v1.25h-1.25zM147 520h1.25v1.25h-1.25zM151 520h1.25v1.25h-1.25zM106 521h1.25v1.25h-1.25zM108 521h1.25v1.25h-1.25zM116 521h1.25v1.25h-1.25zM118 521h1.25v1.25h-1.25zM120 521h1.25v1.25h-1.25zM121 521h1.25v1.25h-1.25zM122 521h1.25v1.25h-1.25zM124 521h1.25v1.25h-1.25zM125 521h1.25v1.25h-1.25zM127 521h1.25v1.25h-1.25zM128 521h1.25v1.25h-1.25zM129 521h1.25v1.25h-1.25zM130 521h1.25v1.25h-1.25zM131 521h1.25v1.25h-1.25zM132 521h1.25v1.25h-1.25zM133 521h1.25v1.25h-1.25zM134 521h1.25v1.25h-1.25zM135 521h1.25v1.25h-1.25zM136 521h1.25v1.25h-1.25zM137 521h1.25v1.25h-1.25zM139 521h1.25v1.25h-1.25zM140 521h1.25v1.25h-1.25zM141 521h1.25v1.25h-1.25zM143 521h1.25v1.25h-1.25zM144 521h1.25v1.25h-1.25zM145 521h1.25v1.25h-1.25zM149 521h1.25v1.25h-1.25zM106 522h1.25v1.25h-1.25zM109 522h1.25v1.25h-1.25zM116 522h1.25v1.25h-1.25zM117 522h1.25v1.25h-1.25zM118 522h1.25v1.25h-1.25zM119 522h1.25v1.25h-1.25zM120 522h1.25v1.25h-1.25zM121 522h1.25v1.25h-1.25zM122 522h1.25v1.25h-1.25zM124 522h1.25v1.25h-1.25zM125 522h1.25v1.25h-1.25zM126 522h1.25v1.25h-1.25zM127 522h1.25v1.25h-1.25zM128 522h1.25v1.25h-1.25zM130 522h1.25v1.25h-1.25zM131 522h1.25v1.25h-1.25zM132 522h1.25v1.25h-1.25zM135 522h1.25v1.25h-1.25zM137 522h1.25v1.25h-1.25zM138 522h1.25v1.25h-1.25zM140 522h1.25v1.25h-1.25zM141 522h1.25v1.25h-1.25zM144 522h1.25v1.25h-1.25zM149 522h1.25v1.25h-1.25zM150 522h1.25v1.25h-1.25zM152 522h1.25v1.25h-1.25zM108 523h1.25v1.25h-1.25zM109 523h1.25v1.25h-1.25zM117 523h1.25v1.25h-1.25zM118 523h1.25v1.25h-1.25zM119 523h1.25v1.25h-1.25zM124 523h1.25v1.25h-1.25zM125 523h1.25v1.25h-1.25zM126 523h1.25v1.25h-1.25zM127 523h1.25v1.25h-1.25zM128 523h1.25v1.25h-1.25zM129 523h1.25v1.25h-1.25zM130 523h1.25v1.25h-1.25zM131 523h1.25v1.25h-1.25zM133 523h1.25v1.25h-1.25zM135 523h1.25v1.25h-1.25zM138 523h1.25v1.25h-1.25zM140 523h1.25v1.25h-1.25zM143 523h1.25v1.25h-1.25zM144 523h1.25v1.25h-1.25zM145 523h1.25v1.25h-1.25zM147 523h1.25v1.25h-1.25zM151 523h1.25v1.25h-1.25zM107 524h1.25v1.25h-1.25zM117 524h1.25v1.25h-1.25zM118 524h1.25v1.25h-1.25zM119 524h1.25v1.25h-1.25zM120 524h1.25v1.25h-1.25zM121 524h1.25v1.25h-1.25zM122 524h1.25v1.25h-1.25zM123 524h1.25v1.25h-1.25zM124 524h1.25v1.25h-1.25zM126 524h1.25v1.25h-1.25zM128 524h1.25v1.25h-1.25zM131 524h1.25v1.25h-1.25zM132 524h1.25v1.25h-1.25zM134 524h1.25v1.25h-1.25zM141 524h1.25v1.25h-1.25zM142 524h1.25v1.25h-1.25zM144 524h1.25v1.25h-1.25zM146 524h1.25v1.25h-1.25zM147 524h1.25v1.25h-1.25zM149 524h1.25v1.25h-1.25zM104 525h1.25v1.25h-1.25zM106 525h1.25v1.25h-1.25zM107 525h1.25v1.25h-1.25zM117 525h1.25v1.25h-1.25zM118 525h1.25v1.25h-1.25zM119 525h1.25v1.25h-1.25zM120 525h1.25v1.25h-1.25zM121 525h1.25v1.25h-1.25zM122 525h1.25v1.25h-1.25zM123 525h1.25v1.25h-1.25zM124 525h1.25v1.25h-1.25zM127 525h1.25v1.25h-1.25zM128 525h1.25v1.25h-1.25zM129 525h1.25v1.25h-1.25zM130 525h1.25v1.25h-1.25zM133 525h1.25v1.25h-1.25zM134 525h1.25v1.25h-1.25zM135 525h1.25v1.25h-1.25zM136 525h1.25v1.25h-1.25zM137 525h1.25v1.25h-1.25zM138 525h1.25v1.25h-1.25zM139 525h1.25v1.25h-1.25zM140 525h1.25v1.25h-1.25zM142 525h1.25v1.25h-1.25zM143 525h1.25v1.25h-1.25zM144 525h1.25v1.25h-1.25zM145 525h1.25v1.25h-1.25zM147 525h1.25v1.25h-1.25zM150 525h1.25v1.25h-1.25zM106 526h1.25v1.25h-1.25zM107 526h1.25v1.25h-1.25zM118 526h1.25v1.25h-1.25zM119 526h1.25v1.25h-1.25zM120 526h1.25v1.25h-1.25zM121 526h1.25v1.25h-1.25zM122 526h1.25v1.25h-1.25zM123 526h1.25v1.25h-1.25zM124 526h1.25v1.25h-1.25zM125 526h1.25v1.25h-1.25zM126 526h1.25v1.25h-1.25zM127 526h1.25v1.25h-1.25zM129 526h1.25v1.25h-1.25zM131 526h1.25v1.25h-1.25zM133 526h1.25v1.25h-1.25zM134 526h1.25v1.25h-1.25zM136 526h1.25v1.25h-1.25zM141 526h1.25v1.25h-1.25zM143 526h1.25v1.25h-1.25zM144 526h1.25v1.25h-1.25zM145 526h1.25v1.25h-1.25zM148 526h1.25v1.25h-1.25zM150 526h1.25v1.25h-1.25zM118 527h1.25v1.25h-1.25zM119 527h1.25v1.25h-1.25zM120 527h1.25v1.25h-1.25zM121 527h1.25v1.25h-1.25zM122 527h1.25v1.25h-1.25zM123 527h1.25v1.25h-1.25zM124 527h1.25v1.25h-1.25zM125 527h1.25v1.25h-1.25zM126 527h1.25v1.25h-1.25zM127 527h1.25v1.25h-1.25zM128 527h1.25v1.25h-1.25zM129 527h1.25v1.25h-1.25zM130 527h1.25v1.25h-1.25zM131 527h1.25v1.25h-1.25zM133 527h1.25v1.25h-1.25zM134 527h1.25v1.25h-1.25zM137 527h1.25v1.25h-1.25zM138 527h1.25v1.25h-1.25zM141 527h1.25v1.25h-1.25zM146 527h1.25v1.25h-1.25zM148 527h1.25v1.25h-1.25zM150 527h1.25v1.25h-1.25zM151 527h1.25v1.25h-1.25zM104 528h1.25v1.25h-1.25zM105 528h1.25v1.25h-1.25zM107 528h1.25v1.25h-1.25zM117 528h1.25v1.25h-1.25zM118 528h1.25v1.25h-1.25zM119 528h1.25v1.25h-1.25zM120 528h1.25v1.25h-1.25zM121 528h1.25v1.25h-1.25zM122 528h1.25v1.25h-1.25zM123 528h1.25v1.25h-1.25zM124 528h1.25v1.25h-1.25zM126 528h1.25v1.25h-1.25zM127 528h1.25v1.25h-1.25zM128 528h1.25v1.25h-1.25zM129 528h1.25v1.25h-1.25zM130 528h1.25v1.25h-1.25zM132 528h1.25v1.25h-1.25zM133 528h1.25v1.25h-1.25zM134 528h1.25v1.25h-1.25zM135 528h1.25v1.25h-1.25zM137 528h1.25v1.25h-1.25zM138 528h1.25v1.25h-1.25zM139 528h1.25v1.25h-1.25zM141 528h1.25v1.25h-1.25zM148 528h1.25v1.25h-1.25zM104 529h1.25v1.25h-1.25zM105 529h1.25v1.25h-1.25zM106 529h1.25v1.25h-1.25zM117 529h1.25v1.25h-1.25zM118 529h1.25v1.25h-1.25zM119 529h1.25v1.25h-1.25zM120 529h1.25v1.25h-1.25zM121 529h1.25v1.25h-1.25zM122 529h1.25v1.25h-1.25zM123 529h1.25v1.25h-1.25zM124 529h1.25v1.25h-1.25zM125 529h1.25v1.25h-1.25zM126 529h1.25v1.25h-1.25zM128 529h1.25v1.25h-1.25zM129 529h1.25v1.25h-1.25zM130 529h1.25v1.25h-1.25zM131 529h1.25v1.25h-1.25zM132 529h1.25v1.25h-1.25zM133 529h1.25v1.25h-1.25zM134 529h1.25v1.25h-1.25zM140 529h1.25v1.25h-1.25zM141 529h1.25v1.25h-1.25zM142 529h1.25v1.25h-1.25zM144 529h1.25v1.25h-1.25zM146 529h1.25v1.25h-1.25zM103 530h1.25v1.25h-1.25zM107 530h1.25v1.25h-1.25zM117 530h1.25v1.25h-1.25zM118 530h1.25v1.25h-1.25zM119 530h1.25v1.25h-1.25zM120 530h1.25v1.25h-1.25zM121 530h1.25v1.25h-1.25zM122 530h1.25v1.25h-1.25zM123 530h1.25v1.25h-1.25zM124 530h1.25v1.25h-1.25zM125 530h1.25v1.25h-1.25zM127 530h1.25v1.25h-1.25zM129 530h1.25v1.25h-1.25zM130 530h1.25v1.25h-1.25zM132 530h1.25v1.25h-1.25zM133 530h1.25v1.25h-1.25zM135 530h1.25v1.25h-1.25zM139 530h1.25v1.25h-1.25zM140 530h1.25v1.25h-1.25zM146 530h1.25v1.25h-1.25zM150 530h1.25v1.25h-1.25zM152 530h1.25v1.25h-1.25zM103 531h1.25v1.25h-1.25zM105 531h1.25v1.25h-1.25zM117 531h1.25v1.25h-1.25zM118 531h1.25v1.25h-1.25zM119 531h1.25v1.25h-1.25zM120 531h1.25v1.25h-1.25zM121 531h1.25v1.25h-1.25zM122 531h1.25v1.25h-1.25zM123 531h1.25v1.25h-1.25zM124 531h1.25v1.25h-1.25zM125 531h1.25v1.25h-1.25zM126 531h1.25v1.25h-1.25zM127 531h1.25v1.25h-1.25zM130 531h1.25v1.25h-1.25zM131 531h1.25v1.25h-1.25zM132 531h1.25v1.25h-1.25zM133 531h1.25v1.25h-1.25zM134 531h1.25v1.25h-1.25zM135 531h1.25v1.25h-1.25zM137 531h1.25v1.25h-1.25zM138 531h1.25v1.25h-1.25zM140 531h1.25v1.25h-1.25zM143 531h1.25v1.25h-1.25zM146 531h1.25v1.25h-1.25zM151 531h1.25v1.25h-1.25zM152 531h1.25v1.25h-1.25zM102 532h1.25v1.25h-1.25zM103 532h1.25v1.25h-1.25zM104 532h1.25v1.25h-1.25zM105 532h1.25v1.25h-1.25zM117 532h1.25v1.25h-1.25zM118 532h1.25v1.25h-1.25zM119 532h1.25v1.25h-1.25zM120 532h1.25v1.25h-1.25zM121 532h1.25v1.25h-1.25zM122 532h1.25v1.25h-1.25zM124 532h1.25v1.25h-1.25zM125 532h1.25v1.25h-1.25zM126 532h1.25v1.25h-1.25zM127 532h1.25v1.25h-1.25zM128 532h1.25v1.25h-1.25zM129 532h1.25v1.25h-1.25zM131 532h1.25v1.25h-1.25zM132 532h1.25v1.25h-1.25zM134 532h1.25v1.25h-1.25zM135 532h1.25v1.25h-1.25zM140 532h1.25v1.25h-1.25zM141 532h1.25v1.25h-1.25zM143 532h1.25v1.25h-1.25zM145 532h1.25v1.25h-1.25zM150 532h1.25v1.25h-1.25zM103 533h1.25v1.25h-1.25zM105 533h1.25v1.25h-1.25zM106 533h1.25v1.25h-1.25zM117 533h1.25v1.25h-1.25zM118 533h1.25v1.25h-1.25zM119 533h1.25v1.25h-1.25zM122 533h1.25v1.25h-1.25zM123 533h1.25v1.25h-1.25zM124 533h1.25v1.25h-1.25zM125 533h1.25v1.25h-1.25zM126 533h1.25v1.25h-1.25zM129 533h1.25v1.25h-1.25zM130 533h1.25v1.25h-1.25zM131 533h1.25v1.25h-1.25zM133 533h1.25v1.25h-1.25zM137 533h1.25v1.25h-1.25zM147 533h1.25v1.25h-1.25zM148 533h1.25v1.25h-1.25zM152 533h1.25v1.25h-1.25zM105 534h1.25v1.25h-1.25zM117 534h1.25v1.25h-1.25zM118 534h1.25v1.25h-1.25zM119 534h1.25v1.25h-1.25zM120 534h1.25v1.25h-1.25zM121 534h1.25v1.25h-1.25zM122 534h1.25v1.25h-1.25zM123 534h1.25v1.25h-1.25zM124 534h1.25v1.25h-1.25zM126 534h1.25v1.25h-1.25zM127 534h1.25v1.25h-1.25zM129 534h1.25v1.25h-1.25zM130 534h1.25v1.25h-1.25zM131 534h1.25v1.25h-1.25zM132 534h1.25v1.25h-1.25zM133 534h1.25v1.25h-1.25zM135 534h1.25v1.25h-1.25zM136 534h1.25v1.25h-1.25zM138 534h1.25v1.25h-1.25zM140 534h1.25v1.25h-1.25zM141 534h1.25v1.25h-1.25zM145 534h1.25v1.25h-1.25zM148 534h1.25v1.25h-1.25zM102 535h1.25v1.25h-1.25zM103 535h1.25v1.25h-1.25zM105 535h1.25v1.25h-1.25zM117 535h1.25v1.25h-1.25zM118 535h1.25v1.25h-1.25zM119 535h1.25v1.25h-1.25zM120 535h1.25v1.25h-1.25zM121 535h1.25v1.25h-1.25zM122 535h1.25v1.25h-1.25zM123 535h1.25v1.25h-1.25zM124 535h1.25v1.25h-1.25zM126 535h1.25v1.25h-1.25zM127 535h1.25v1.25h-1.25zM129 535h1.25v1.25h-1.25zM130 535h1.25v1.25h-1.25zM133 535h1.25v1.25h-1.25zM137 535h1.25v1.25h-1.25zM138 535h1.25v1.25h-1.25zM139 535h1.25v1.25h-1.25zM141 535h1.25v1.25h-1.25zM143 535h1.25v1.25h-1.25zM145 535h1.25v1.25h-1.25zM146 535h1.25v1.25h-1.25zM147 535h1.25v1.25h-1.25zM149 535h1.25v1.25h-1.25zM105 536h1.25v1.25h-1.25zM117 536h1.25v1.25h-1.25zM118 536h1.25v1.25h-1.25zM119 536h1.25v1.25h-1.25zM120 536h1.25v1.25h-1.25zM121 536h1.25v1.25h-1.25zM123 536h1.25v1.25h-1.25zM124 536h1.25v1.25h-1.25zM125 536h1.25v1.25h-1.25zM126 536h1.25v1.25h-1.25zM128 536h1.25v1.25h-1.25zM130 536h1.25v1.25h-1.25zM131 536h1.25v1.25h-1.25zM132 536h1.25v1.25h-1.25zM133 536h1.25v1.25h-1.25zM138 536h1.25v1.25h-1.25zM139 536h1.25v1.25h-1.25zM140 536h1.25v1.25h-1.25zM145 536h1.25v1.25h-1.25zM148 536h1.25v1.25h-1.25zM117 537h1.25v1.25h-1.25zM118 537h1.25v1.25h-1.25zM119 537h1.25v1.25h-1.25zM120 537h1.25v1.25h-1.25zM121 537h1.25v1.25h-1.25zM122 537h1.25v1.25h-1.25zM123 537h1.25v1.25h-1.25zM124 537h1.25v1.25h-1.25zM125 537h1.25v1.25h-1.25zM126 537h1.25v1.25h-1.25zM127 537h1.25v1.25h-1.25zM128 537h1.25v1.25h-1.25zM130 537h1.25v1.25h-1.25zM131 537h1.25v1.25h-1.25zM132 537h1.25v1.25h-1.25zM133 537h1.25v1.25h-1.25zM134 537h1.25v1.25h-1.25zM135 537h1.25v1.25h-1.25zM137 537h1.25v1.25h-1.25zM138 537h1.25v1.25h-1.25zM140 537h1.25v1.25h-1.25zM145 537h1.25v1.25h-1.25zM148 537h1.25v1.25h-1.25zM101 538h1.25v1.25h-1.25zM104 538h1.25v1.25h-1.25zM117 538h1.25v1.25h-1.25zM118 538h1.25v1.25h-1.25zM119 538h1.25v1.25h-1.25zM120 538h1.25v1.25h-1.25zM121 538h1.25v1.25h-1.25zM122 538h1.25v1.25h-1.25zM123 538h1.25v1.25h-1.25zM125 538h1.25v1.25h-1.25zM126 538h1.25v1.25h-1.25zM127 538h1.25v1.25h-1.25zM128 538h1.25v1.25h-1.25zM130 538h1.25v1.25h-1.25zM131 538h1.25v1.25h-1.25zM135 538h1.25v1.25h-1.25zM136 538h1.25v1.25h-1.25zM137 538h1.25v1.25h-1.25zM139 538h1.25v1.25h-1.25zM148 538h1.25v1.25h-1.25zM152 538h1.25v1.25h-1.25zM103 539h1.25v1.25h-1.25zM104 539h1.25v1.25h-1.25zM117 539h1.25v1.25h-1.25zM118 539h1.25v1.25h-1.25zM119 539h1.25v1.25h-1.25zM120 539h1.25v1.25h-1.25zM122 539h1.25v1.25h-1.25zM123 539h1.25v1.25h-1.25zM125 539h1.25v1.25h-1.25zM127 539h1.25v1.25h-1.25zM128 539h1.25v1.25h-1.25zM129 539h1.25v1.25h-1.25zM130 539h1.25v1.25h-1.25zM131 539h1.25v1.25h-1.25zM132 539h1.25v1.25h-1.25zM133 539h1.25v1.25h-1.25zM134 539h1.25v1.25h-1.25zM135 539h1.25v1.25h-1.25zM136 539h1.25v1.25h-1.25zM138 539h1.25v1.25h-1.25zM147 539h1.25v1.25h-1.25zM148 539h1.25v1.25h-1.25zM117 540h1.25v1.25h-1.25zM118 540h1.25v1.25h-1.25zM119 540h1.25v1.25h-1.25zM120 540h1.25v1.25h-1.25zM121 540h1.25v1.25h-1.25zM122 540h1.25v1.25h-1.25zM123 540h1.25v1.25h-1.25zM124 540h1.25v1.25h-1.25zM126 540h1.25v1.25h-1.25zM127 540h1.25v1.25h-1.25zM128 540h1.25v1.25h-1.25zM129 540h1.25v1.25h-1.25zM130 540h1.25v1.25h-1.25zM131 540h1.25v1.25h-1.25zM132 540h1.25v1.25h-1.25zM133 540h1.25v1.25h-1.25zM134 540h1.25v1.25h-1.25zM136 540h1.25v1.25h-1.25zM141 540h1.25v1.25h-1.25zM146 540h1.25v1.25h-1.25zM147 540h1.25v1.25h-1.25zM150 540h1.25v1.25h-1.25zM103 541h1.25v1.25h-1.25zM120 541h1.25v1.25h-1.25zM121 541h1.25v1.25h-1.25zM122 541h1.25v1.25h-1.25zM123 541h1.25v1.25h-1.25zM124 541h1.25v1.25h-1.25zM125 541h1.25v1.25h-1.25zM126 541h1.25v1.25h-1.25zM127 541h1.25v1.25h-1.25zM128 541h1.25v1.25h-1.25zM129 541h1.25v1.25h-1.25zM130 541h1.25v1.25h-1.25zM131 541h1.25v1.25h-1.25zM132 541h1.25v1.25h-1.25zM134 541h1.25v1.25h-1.25zM137 541h1.25v1.25h-1.25zM138 541h1.25v1.25h-1.25zM141 541h1.25v1.25h-1.25zM147 541h1.25v1.25h-1.25zM148 541h1.25v1.25h-1.25zM100 542h1.25v1.25h-1.25zM101 542h1.25v1.25h-1.25zM103 542h1.25v1.25h-1.25zM117 542h1.25v1.25h-1.25zM119 542h1.25v1.25h-1.25zM121 542h1.25v1.25h-1.25zM122 542h1.25v1.25h-1.25zM123 542h1.25v1.25h-1.25zM124 542h1.25v1.25h-1.25zM125 542h1.25v1.25h-1.25zM127 542h1.25v1.25h-1.25zM128 542h1.25v1.25h-1.25zM129 542h1.25v1.25h-1.25zM130 542h1.25v1.25h-1.25zM131 542h1.25v1.25h-1.25zM133 542h1.25v1.25h-1.25zM135 542h1.25v1.25h-1.25zM138 542h1.25v1.25h-1.25zM139 542h1.25v1.25h-1.25zM142 542h1.25v1.25h-1.25zM143 542h1.25v1.25h-1.25zM145 542h1.25v1.25h-1.25zM146 542h1.25v1.25h-1.25zM99 543h1.25v1.25h-1.25zM102 543h1.25v1.25h-1.25zM117 543h1.25v1.25h-1.25zM118 543h1.25v1.25h-1.25zM119 543h1.25v1.25h-1.25zM120 543h1.25v1.25h-1.25zM121 543h1.25v1.25h-1.25zM122 543h1.25v1.25h-1.25zM123 543h1.25v1.25h-1.25zM124 543h1.25v1.25h-1.25zM125 543h1.25v1.25h-1.25zM126 543h1.25v1.25h-1.25zM128 543h1.25v1.25h-1.25zM129 543h1.25v1.25h-1.25zM130 543h1.25v1.25h-1.25zM132 543h1.25v1.25h-1.25zM133 543h1.25v1.25h-1.25zM134 543h1.25v1.25h-1.25zM135 543h1.25v1.25h-1.25zM139 543h1.25v1.25h-1.25zM142 543h1.25v1.25h-1.25zM145 543h1.25v1.25h-1.25zM146 543h1.25v1.25h-1.25zM147 543h1.25v1.25h-1.25zM99 544h1.25v1.25h-1.25zM100 544h1.25v1.25h-1.25zM118 544h1.25v1.25h-1.25zM119 544h1.25v1.25h-1.25zM120 544h1.25v1.25h-1.25zM122 544h1.25v1.25h-1.25zM123 544h1.25v1.25h-1.25zM124 544h1.25v1.25h-1.25zM125 544h1.25v1.25h-1.25zM126 544h1.25v1.25h-1.25zM127 544h1.25v1.25h-1.25zM128 544h1.25v1.25h-1.25zM129 544h1.25v1.25h-1.25zM130 544h1.25v1.25h-1.25zM131 544h1.25v1.25h-1.25zM132 544h1.25v1.25h-1.25zM133 544h1.25v1.25h-1.25zM134 544h1.25v1.25h-1.25zM135 544h1.25v1.25h-1.25zM136 544h1.25v1.25h-1.25zM137 544h1.25v1.25h-1.25zM138 544h1.25v1.25h-1.25zM139 544h1.25v1.25h-1.25zM140 544h1.25v1.25h-1.25zM141 544h1.25v1.25h-1.25zM143 544h1.25v1.25h-1.25zM146 544h1.25v1.25h-1.25zM148 544h1.25v1.25h-1.25zM149 544h1.25v1.25h-1.25zM150 544h1.25v1.25h-1.25zM151 544h1.25v1.25h-1.25zM152 544h1.25v1.25h-1.25zM100 545h1.25v1.25h-1.25zM101 545h1.25v1.25h-1.25zM117 545h1.25v1.25h-1.25zM118 545h1.25v1.25h-1.25zM119 545h1.25v1.25h-1.25zM122 545h1.25v1.25h-1.25zM123 545h1.25v1.25h-1.25zM124 545h1.25v1.25h-1.25zM125 545h1.25v1.25h-1.25zM126 545h1.25v1.25h-1.25zM127 545h1.25v1.25h-1.25zM128 545h1.25v1.25h-1.25zM130 545h1.25v1.25h-1.25zM133 545h1.25v1.25h-1.25zM135 545h1.25v1.25h-1.25zM136 545h1.25v1.25h-1.25zM137 545h1.25v1.25h-1.25zM138 545h1.25v1.25h-1.25zM139 545h1.25v1.25h-1.25zM141 545h1.25v1.25h-1.25zM144 545h1.25v1.25h-1.25zM145 545h1.25v1.25h-1.25zM146 545h1.25v1.25h-1.25zM147 545h1.25v1.25h-1.25zM149 545h1.25v1.25h-1.25zM100 546h1.25v1.25h-1.25zM101 546h1.25v1.25h-1.25zM117 546h1.25v1.25h-1.25zM118 546h1.25v1.25h-1.25zM119 546h1.25v1.25h-1.25zM121 546h1.25v1.25h-1.25zM122 546h1.25v1.25h-1.25zM123 546h1.25v1.25h-1.25zM124 546h1.25v1.25h-1.25zM125 546h1.25v1.25h-1.25zM126 546h1.25v1.25h-1.25zM128 546h1.25v1.25h-1.25zM129 546h1.25v1.25h-1.25zM130 546h1.25v1.25h-1.25zM131 546h1.25v1.25h-1.25zM132 546h1.25v1.25h-1.25zM133 546h1.25v1.25h-1.25zM134 546h1.25v1.25h-1.25zM135 546h1.25v1.25h-1.25zM136 546h1.25v1.25h-1.25zM138 546h1.25v1.25h-1.25zM139 546h1.25v1.25h-1.25zM140 546h1.25v1.25h-1.25zM142 546h1.25v1.25h-1.25zM143 546h1.25v1.25h-1.25zM145 546h1.25v1.25h-1.25zM146 546h1.25v1.25h-1.25zM149 546h1.25v1.25h-1.25zM152 546h1.25v1.25h-1.25zM99 547h1.25v1.25h-1.25zM100 547h1.25v1.25h-1.25zM118 547h1.25v1.25h-1.25zM119 547h1.25v1.25h-1.25zM120 547h1.25v1.25h-1.25zM121 547h1.25v1.25h-1.25zM123 547h1.25v1.25h-1.25zM124 547h1.25v1.25h-1.25zM125 547h1.25v1.25h-1.25zM126 547h1.25v1.25h-1.25zM127 547h1.25v1.25h-1.25zM129 547h1.25v1.25h-1.25zM130 547h1.25v1.25h-1.25zM131 547h1.25v1.25h-1.25zM134 547h1.25v1.25h-1.25zM135 547h1.25v1.25h-1.25zM137 547h1.25v1.25h-1.25zM139 547h1.25v1.25h-1.25zM141 547h1.25v1.25h-1.25zM144 547h1.25v1.25h-1.25zM145 547h1.25v1.25h-1.25zM146 547h1.25v1.25h-1.25zM147 547h1.25v1.25h-1.25zM98 548h1.25v1.25h-1.25zM100 548h1.25v1.25h-1.25zM117 548h1.25v1.25h-1.25zM118 548h1.25v1.25h-1.25zM119 548h1.25v1.25h-1.25zM120 548h1.25v1.25h-1.25zM121 548h1.25v1.25h-1.25zM122 548h1.25v1.25h-1.25zM124 548h1.25v1.25h-1.25zM125 548h1.25v1.25h-1.25zM126 548h1.25v1.25h-1.25zM127 548h1.25v1.25h-1.25zM128 548h1.25v1.25h-1.25zM132 548h1.25v1.25h-1.25zM133 548h1.25v1.25h-1.25zM134 548h1.25v1.25h-1.25zM135 548h1.25v1.25h-1.25zM136 548h1.25v1.25h-1.25zM137 548h1.25v1.25h-1.25zM139 548h1.25v1.25h-1.25zM142 548h1.25v1.25h-1.25zM98 549h1.25v1.25h-1.25zM99 549h1.25v1.25h-1.25zM118 549h1.25v1.25h-1.25zM119 549h1.25v1.25h-1.25zM120 549h1.25v1.25h-1.25zM121 549h1.25v1.25h-1.25zM122 549h1.25v1.25h-1.25zM123 549h1.25v1.25h-1.25zM124 549h1.25v1.25h-1.25zM125 549h1.25v1.25h-1.25zM126 549h1.25v1.25h-1.25zM127 549h1.25v1.25h-1.25zM128 549h1.25v1.25h-1.25zM129 549h1.25v1.25h-1.25zM130 549h1.25v1.25h-1.25zM131 549h1.25v1.25h-1.25zM132 549h1.25v1.25h-1.25zM135 549h1.25v1.25h-1.25zM136 549h1.25v1.25h-1.25zM138 549h1.25v1.25h-1.25zM139 549h1.25v1.25h-1.25zM140 549h1.25v1.25h-1.25zM142 549h1.25v1.25h-1.25zM145 549h1.25v1.25h-1.25zM147 549h1.25v1.25h-1.25zM149 549h1.25v1.25h-1.25zM150 549h1.25v1.25h-1.25zM151 549h1.25v1.25h-1.25zM152 549h1.25v1.25h-1.25zM93 550h1.25v1.25h-1.25zM94 550h1.25v1.25h-1.25zM97 550h1.25v1.25h-1.25zM98 550h1.25v1.25h-1.25zM99 550h1.25v1.25h-1.25zM117 550h1.25v1.25h-1.25zM118 550h1.25v1.25h-1.25zM119 550h1.25v1.25h-1.25zM120 550h1.25v1.25h-1.25zM122 550h1.25v1.25h-1.25zM123 550h1.25v1.25h-1.25zM124 550h1.25v1.25h-1.25zM126 550h1.25v1.25h-1.25zM127 550h1.25v1.25h-1.25zM128 550h1.25v1.25h-1.25zM129 550h1.25v1.25h-1.25zM131 550h1.25v1.25h-1.25zM132 550h1.25v1.25h-1.25zM133 550h1.25v1.25h-1.25zM135 550h1.25v1.25h-1.25zM136 550h1.25v1.25h-1.25zM142 550h1.25v1.25h-1.25zM143 550h1.25v1.25h-1.25zM144 550h1.25v1.25h-1.25zM151 550h1.25v1.25h-1.25zM95 551h1.25v1.25h-1.25zM98 551h1.25v1.25h-1.25zM99 551h1.25v1.25h-1.25zM117 551h1.25v1.25h-1.25zM119 551h1.25v1.25h-1.25zM121 551h1.25v1.25h-1.25zM122 551h1.25v1.25h-1.25zM123 551h1.25v1.25h-1.25zM124 551h1.25v1.25h-1.25zM125 551h1.25v1.25h-1.25zM126 551h1.25v1.25h-1.25zM127 551h1.25v1.25h-1.25zM128 551h1.25v1.25h-1.25zM129 551h1.25v1.25h-1.25zM130 551h1.25v1.25h-1.25zM131 551h1.25v1.25h-1.25zM132 551h1.25v1.25h-1.25zM134 551h1.25v1.25h-1.25zM135 551h1.25v1.25h-1.25zM136 551h1.25v1.25h-1.25zM137 551h1.25v1.25h-1.25zM140 551h1.25v1.25h-1.25zM142 551h1.25v1.25h-1.25zM143 551h1.25v1.25h-1.25zM146 551h1.25v1.25h-1.25zM147 551h1.25v1.25h-1.25zM149 551h1.25v1.25h-1.25zM95 552h1.25v1.25h-1.25zM98 552h1.25v1.25h-1.25zM117 552h1.25v1.25h-1.25zM118 552h1.25v1.25h-1.25zM119 552h1.25v1.25h-1.25zM120 552h1.25v1.25h-1.25zM122 552h1.25v1.25h-1.25zM123 552h1.25v1.25h-1.25zM124 552h1.25v1.25h-1.25zM125 552h1.25v1.25h-1.25zM126 552h1.25v1.25h-1.25zM127 552h1.25v1.25h-1.25zM128 552h1.25v1.25h-1.25zM129 552h1.25v1.25h-1.25zM130 552h1.25v1.25h-1.25zM132 552h1.25v1.25h-1.25zM133 552h1.25v1.25h-1.25zM134 552h1.25v1.25h-1.25zM135 552h1.25v1.25h-1.25zM136 552h1.25v1.25h-1.25zM138 552h1.25v1.25h-1.25zM139 552h1.25v1.25h-1.25zM94 553h1.25v1.25h-1.25zM96 553h1.25v1.25h-1.25zM98 553h1.25v1.25h-1.25zM117 553h1.25v1.25h-1.25zM118 553h1.25v1.25h-1.25zM119 553h1.25v1.25h-1.25zM120 553h1.25v1.25h-1.25zM122 553h1.25v1.25h-1.25zM123 553h1.25v1.25h-1.25zM124 553h1.25v1.25h-1.25zM125 553h1.25v1.25h-1.25zM126 553h1.25v1.25h-1.25zM127 553h1.25v1.25h-1.25zM128 553h1.25v1.25h-1.25zM129 553h1.25v1.25h-1.25zM130 553h1.25v1.25h-1.25zM131 553h1.25v1.25h-1.25zM132 553h1.25v1.25h-1.25zM133 553h1.25v1.25h-1.25zM134 553h1.25v1.25h-1.25zM135 553h1.25v1.25h-1.25zM136 553h1.25v1.25h-1.25zM137 553h1.25v1.25h-1.25zM138 553h1.25v1.25h-1.25zM141 553h1.25v1.25h-1.25zM144 553h1.25v1.25h-1.25zM147 553h1.25v1.25h-1.25zM148 553h1.25v1.25h-1.25zM151 553h1.25v1.25h-1.25zM89 554h1.25v1.25h-1.25zM92 554h1.25v1.25h-1.25zM93 554h1.25v1.25h-1.25zM97 554h1.25v1.25h-1.25zM117 554h1.25v1.25h-1.25zM119 554h1.25v1.25h-1.25zM120 554h1.25v1.25h-1.25zM121 554h1.25v1.25h-1.25zM122 554h1.25v1.25h-1.25zM123 554h1.25v1.25h-1.25zM124 554h1.25v1.25h-1.25zM125 554h1.25v1.25h-1.25zM126 554h1.25v1.25h-1.25zM127 554h1.25v1.25h-1.25zM128 554h1.25v1.25h-1.25zM129 554h1.25v1.25h-1.25zM130 554h1.25v1.25h-1.25zM131 554h1.25v1.25h-1.25zM132 554h1.25v1.25h-1.25zM133 554h1.25v1.25h-1.25zM134 554h1.25v1.25h-1.25zM136 554h1.25v1.25h-1.25zM137 554h1.25v1.25h-1.25zM138 554h1.25v1.25h-1.25zM144 554h1.25v1.25h-1.25zM146 554h1.25v1.25h-1.25zM93 555h1.25v1.25h-1.25zM94 555h1.25v1.25h-1.25zM96 555h1.25v1.25h-1.25zM97 555h1.25v1.25h-1.25zM118 555h1.25v1.25h-1.25zM119 555h1.25v1.25h-1.25zM120 555h1.25v1.25h-1.25zM121 555h1.25v1.25h-1.25zM122 555h1.25v1.25h-1.25zM123 555h1.25v1.25h-1.25zM124 555h1.25v1.25h-1.25zM125 555h1.25v1.25h-1.25zM126 555h1.25v1.25h-1.25zM127 555h1.25v1.25h-1.25zM128 555h1.25v1.25h-1.25zM129 555h1.25v1.25h-1.25zM131 555h1.25v1.25h-1.25zM132 555h1.25v1.25h-1.25zM133 555h1.25v1.25h-1.25zM134 555h1.25v1.25h-1.25zM137 555h1.25v1.25h-1.25zM138 555h1.25v1.25h-1.25zM140 555h1.25v1.25h-1.25zM143 555h1.25v1.25h-1.25zM145 555h1.25v1.25h-1.25zM148 555h1.25v1.25h-1.25zM151 555h1.25v1.25h-1.25zM89 556h1.25v1.25h-1.25zM90 556h1.25v1.25h-1.25zM91 556h1.25v1.25h-1.25zM95 556h1.25v1.25h-1.25zM118 556h1.25v1.25h-1.25zM121 556h1.25v1.25h-1.25zM122 556h1.25v1.25h-1.25zM123 556h1.25v1.25h-1.25zM124 556h1.25v1.25h-1.25zM125 556h1.25v1.25h-1.25zM126 556h1.25v1.25h-1.25zM127 556h1.25v1.25h-1.25zM128 556h1.25v1.25h-1.25zM129 556h1.25v1.25h-1.25zM130 556h1.25v1.25h-1.25zM132 556h1.25v1.25h-1.25zM134 556h1.25v1.25h-1.25zM136 556h1.25v1.25h-1.25zM137 556h1.25v1.25h-1.25zM138 556h1.25v1.25h-1.25zM139 556h1.25v1.25h-1.25zM140 556h1.25v1.25h-1.25zM146 556h1.25v1.25h-1.25zM147 556h1.25v1.25h-1.25zM149 556h1.25v1.25h-1.25zM152 556h1.25v1.25h-1.25zM87 557h1.25v1.25h-1.25zM90 557h1.25v1.25h-1.25zM91 557h1.25v1.25h-1.25zM94 557h1.25v1.25h-1.25zM95 557h1.25v1.25h-1.25zM118 557h1.25v1.25h-1.25zM119 557h1.25v1.25h-1.25zM120 557h1.25v1.25h-1.25zM121 557h1.25v1.25h-1.25zM122 557h1.25v1.25h-1.25zM123 557h1.25v1.25h-1.25zM124 557h1.25v1.25h-1.25zM125 557h1.25v1.25h-1.25zM126 557h1.25v1.25h-1.25zM129 557h1.25v1.25h-1.25zM130 557h1.25v1.25h-1.25zM131 557h1.25v1.25h-1.25zM132 557h1.25v1.25h-1.25zM133 557h1.25v1.25h-1.25zM134 557h1.25v1.25h-1.25zM135 557h1.25v1.25h-1.25zM136 557h1.25v1.25h-1.25zM137 557h1.25v1.25h-1.25zM138 557h1.25v1.25h-1.25zM140 557h1.25v1.25h-1.25zM146 557h1.25v1.25h-1.25zM147 557h1.25v1.25h-1.25zM150 557h1.25v1.25h-1.25zM89 558h1.25v1.25h-1.25zM93 558h1.25v1.25h-1.25zM94 558h1.25v1.25h-1.25zM95 558h1.25v1.25h-1.25zM118 558h1.25v1.25h-1.25zM119 558h1.25v1.25h-1.25zM121 558h1.25v1.25h-1.25zM122 558h1.25v1.25h-1.25zM124 558h1.25v1.25h-1.25zM125 558h1.25v1.25h-1.25zM126 558h1.25v1.25h-1.25zM127 558h1.25v1.25h-1.25zM128 558h1.25v1.25h-1.25zM129 558h1.25v1.25h-1.25zM130 558h1.25v1.25h-1.25zM131 558h1.25v1.25h-1.25zM132 558h1.25v1.25h-1.25zM133 558h1.25v1.25h-1.25zM134 558h1.25v1.25h-1.25zM136 558h1.25v1.25h-1.25zM137 558h1.25v1.25h-1.25zM140 558h1.25v1.25h-1.25zM141 558h1.25v1.25h-1.25zM142 558h1.25v1.25h-1.25zM145 558h1.25v1.25h-1.25zM149 558h1.25v1.25h-1.25zM89 559h1.25v1.25h-1.25zM91 559h1.25v1.25h-1.25zM92 559h1.25v1.25h-1.25zM94 559h1.25v1.25h-1.25zM118 559h1.25v1.25h-1.25zM121 559h1.25v1.25h-1.25zM122 559h1.25v1.25h-1.25zM123 559h1.25v1.25h-1.25zM124 559h1.25v1.25h-1.25zM125 559h1.25v1.25h-1.25zM127 559h1.25v1.25h-1.25zM128 559h1.25v1.25h-1.25zM129 559h1.25v1.25h-1.25zM130 559h1.25v1.25h-1.25zM131 559h1.25v1.25h-1.25zM132 559h1.25v1.25h-1.25zM133 559h1.25v1.25h-1.25zM135 559h1.25v1.25h-1.25zM137 559h1.25v1.25h-1.25zM139 559h1.25v1.25h-1.25zM144 559h1.25v1.25h-1.25zM86 560h1.25v1.25h-1.25zM90 560h1.25v1.25h-1.25zM91 560h1.25v1.25h-1.25zM92 560h1.25v1.25h-1.25zM118 560h1.25v1.25h-1.25zM119 560h1.25v1.25h-1.25zM120 560h1.25v1.25h-1.25zM121 560h1.25v1.25h-1.25zM122 560h1.25v1.25h-1.25zM124 560h1.25v1.25h-1.25zM125 560h1.25v1.25h-1.25zM126 560h1.25v1.25h-1.25zM127 560h1.25v1.25h-1.25zM128 560h1.25v1.25h-1.25zM129 560h1.25v1.25h-1.25zM131 560h1.25v1.25h-1.25zM132 560h1.25v1.25h-1.25zM133 560h1.25v1.25h-1.25zM134 560h1.25v1.25h-1.25zM137 560h1.25v1.25h-1.25zM138 560h1.25v1.25h-1.25zM140 560h1.25v1.25h-1.25zM141 560h1.25v1.25h-1.25zM145 560h1.25v1.25h-1.25zM150 560h1.25v1.25h-1.25zM85 561h1.25v1.25h-1.25zM86 561h1.25v1.25h-1.25zM88 561h1.25v1.25h-1.25zM89 561h1.25v1.25h-1.25zM90 561h1.25v1.25h-1.25zM91 561h1.25v1.25h-1.25zM93 561h1.25v1.25h-1.25zM118 561h1.25v1.25h-1.25zM119 561h1.25v1.25h-1.25zM120 561h1.25v1.25h-1.25zM121 561h1.25v1.25h-1.25zM122 561h1.25v1.25h-1.25zM126 561h1.25v1.25h-1.25zM127 561h1.25v1.25h-1.25zM130 561h1.25v1.25h-1.25zM131 561h1.25v1.25h-1.25zM132 561h1.25v1.25h-1.25zM134 561h1.25v1.25h-1.25zM135 561h1.25v1.25h-1.25zM136 561h1.25v1.25h-1.25zM137 561h1.25v1.25h-1.25zM138 561h1.25v1.25h-1.25zM141 561h1.25v1.25h-1.25zM142 561h1.25v1.25h-1.25zM147 561h1.25v1.25h-1.25zM150 561h1.25v1.25h-1.25zM152 561h1.25v1.25h-1.25zM83 562h1.25v1.25h-1.25zM84 562h1.25v1.25h-1.25zM87 562h1.25v1.25h-1.25zM88 562h1.25v1.25h-1.25zM92 562h1.25v1.25h-1.25zM93 562h1.25v1.25h-1.25zM118 562h1.25v1.25h-1.25zM119 562h1.25v1.25h-1.25zM120 562h1.25v1.25h-1.25zM121 562h1.25v1.25h-1.25zM124 562h1.25v1.25h-1.25zM125 562h1.25v1.25h-1.25zM126 562h1.25v1.25h-1.25zM127 562h1.25v1.25h-1.25zM128 562h1.25v1.25h-1.25zM129 562h1.25v1.25h-1.25zM130 562h1.25v1.25h-1.25zM132 562h1.25v1.25h-1.25zM133 562h1.25v1.25h-1.25zM134 562h1.25v1.25h-1.25zM135 562h1.25v1.25h-1.25zM136 562h1.25v1.25h-1.25zM137 562h1.25v1.25h-1.25zM139 562h1.25v1.25h-1.25zM140 562h1.25v1.25h-1.25zM142 562h1.25v1.25h-1.25zM143 562h1.25v1.25h-1.25zM145 562h1.25v1.25h-1.25zM146 562h1.25v1.25h-1.25zM151 562h1.25v1.25h-1.25zM152 562h1.25v1.25h-1.25zM83 563h1.25v1.25h-1.25zM86 563h1.25v1.25h-1.25zM87 563h1.25v1.25h-1.25zM92 563h1.25v1.25h-1.25zM118 563h1.25v1.25h-1.25zM119 563h1.25v1.25h-1.25zM120 563h1.25v1.25h-1.25zM121 563h1.25v1.25h-1.25zM122 563h1.25v1.25h-1.25zM123 563h1.25v1.25h-1.25zM124 563h1.25v1.25h-1.25zM125 563h1.25v1.25h-1.25zM126 563h1.25v1.25h-1.25zM127 563h1.25v1.25h-1.25zM128 563h1.25v1.25h-1.25zM129 563h1.25v1.25h-1.25zM130 563h1.25v1.25h-1.25zM132 563h1.25v1.25h-1.25zM133 563h1.25v1.25h-1.25zM134 563h1.25v1.25h-1.25zM136 563h1.25v1.25h-1.25zM137 563h1.25v1.25h-1.25zM138 563h1.25v1.25h-1.25zM140 563h1.25v1.25h-1.25zM141 563h1.25v1.25h-1.25zM144 563h1.25v1.25h-1.25zM145 563h1.25v1.25h-1.25zM149 563h1.25v1.25h-1.25zM84 564h1.25v1.25h-1.25zM85 564h1.25v1.25h-1.25zM88 564h1.25v1.25h-1.25zM90 564h1.25v1.25h-1.25zM91 564h1.25v1.25h-1.25zM118 564h1.25v1.25h-1.25zM119 564h1.25v1.25h-1.25zM120 564h1.25v1.25h-1.25zM121 564h1.25v1.25h-1.25zM122 564h1.25v1.25h-1.25zM123 564h1.25v1.25h-1.25zM124 564h1.25v1.25h-1.25zM125 564h1.25v1.25h-1.25zM126 564h1.25v1.25h-1.25zM127 564h1.25v1.25h-1.25zM128 564h1.25v1.25h-1.25zM129 564h1.25v1.25h-1.25zM130 564h1.25v1.25h-1.25zM131 564h1.25v1.25h-1.25zM132 564h1.25v1.25h-1.25zM133 564h1.25v1.25h-1.25zM134 564h1.25v1.25h-1.25zM136 564h1.25v1.25h-1.25zM137 564h1.25v1.25h-1.25zM138 564h1.25v1.25h-1.25zM141 564h1.25v1.25h-1.25zM142 564h1.25v1.25h-1.25zM145 564h1.25v1.25h-1.25zM146 564h1.25v1.25h-1.25zM147 564h1.25v1.25h-1.25zM83 565h1.25v1.25h-1.25zM88 565h1.25v1.25h-1.25zM90 565h1.25v1.25h-1.25zM118 565h1.25v1.25h-1.25zM119 565h1.25v1.25h-1.25zM120 565h1.25v1.25h-1.25zM121 565h1.25v1.25h-1.25zM122 565h1.25v1.25h-1.25zM123 565h1.25v1.25h-1.25zM124 565h1.25v1.25h-1.25zM125 565h1.25v1.25h-1.25zM126 565h1.25v1.25h-1.25zM127 565h1.25v1.25h-1.25zM128 565h1.25v1.25h-1.25zM129 565h1.25v1.25h-1.25zM130 565h1.25v1.25h-1.25zM131 565h1.25v1.25h-1.25zM132 565h1.25v1.25h-1.25zM134 565h1.25v1.25h-1.25zM135 565h1.25v1.25h-1.25zM137 565h1.25v1.25h-1.25zM140 565h1.25v1.25h-1.25zM141 565h1.25v1.25h-1.25zM142 565h1.25v1.25h-1.25zM144 565h1.25v1.25h-1.25zM145 565h1.25v1.25h-1.25zM147 565h1.25v1.25h-1.25zM150 565h1.25v1.25h-1.25zM151 565h1.25v1.25h-1.25zM78 566h1.25v1.25h-1.25zM84 566h1.25v1.25h-1.25zM88 566h1.25v1.25h-1.25zM89 566h1.25v1.25h-1.25zM118 566h1.25v1.25h-1.25zM119 566h1.25v1.25h-1.25zM120 566h1.25v1.25h-1.25zM122 566h1.25v1.25h-1.25zM123 566h1.25v1.25h-1.25zM124 566h1.25v1.25h-1.25zM125 566h1.25v1.25h-1.25zM126 566h1.25v1.25h-1.25zM127 566h1.25v1.25h-1.25zM128 566h1.25v1.25h-1.25zM129 566h1.25v1.25h-1.25zM130 566h1.25v1.25h-1.25zM132 566h1.25v1.25h-1.25zM133 566h1.25v1.25h-1.25zM134 566h1.25v1.25h-1.25zM135 566h1.25v1.25h-1.25zM136 566h1.25v1.25h-1.25zM140 566h1.25v1.25h-1.25zM141 566h1.25v1.25h-1.25zM142 566h1.25v1.25h-1.25zM145 566h1.25v1.25h-1.25zM147 566h1.25v1.25h-1.25zM148 566h1.25v1.25h-1.25zM149 566h1.25v1.25h-1.25zM151 566h1.25v1.25h-1.25zM76 567h1.25v1.25h-1.25zM81 567h1.25v1.25h-1.25zM87 567h1.25v1.25h-1.25zM88 567h1.25v1.25h-1.25zM118 567h1.25v1.25h-1.25zM119 567h1.25v1.25h-1.25zM120 567h1.25v1.25h-1.25zM121 567h1.25v1.25h-1.25zM124 567h1.25v1.25h-1.25zM125 567h1.25v1.25h-1.25zM126 567h1.25v1.25h-1.25zM127 567h1.25v1.25h-1.25zM128 567h1.25v1.25h-1.25zM129 567h1.25v1.25h-1.25zM130 567h1.25v1.25h-1.25zM131 567h1.25v1.25h-1.25zM132 567h1.25v1.25h-1.25zM133 567h1.25v1.25h-1.25zM134 567h1.25v1.25h-1.25zM136 567h1.25v1.25h-1.25zM138 567h1.25v1.25h-1.25zM139 567h1.25v1.25h-1.25zM141 567h1.25v1.25h-1.25zM143 567h1.25v1.25h-1.25zM144 567h1.25v1.25h-1.25zM73 568h1.25v1.25h-1.25zM75 568h1.25v1.25h-1.25zM80 568h1.25v1.25h-1.25zM81 568h1.25v1.25h-1.25zM82 568h1.25v1.25h-1.25zM119 568h1.25v1.25h-1.25zM120 568h1.25v1.25h-1.25zM122 568h1.25v1.25h-1.25zM123 568h1.25v1.25h-1.25zM124 568h1.25v1.25h-1.25zM125 568h1.25v1.25h-1.25zM126 568h1.25v1.25h-1.25zM128 568h1.25v1.25h-1.25zM129 568h1.25v1.25h-1.25zM130 568h1.25v1.25h-1.25zM131 568h1.25v1.25h-1.25zM132 568h1.25v1.25h-1.25zM133 568h1.25v1.25h-1.25zM134 568h1.25v1.25h-1.25zM135 568h1.25v1.25h-1.25zM136 568h1.25v1.25h-1.25zM138 568h1.25v1.25h-1.25zM141 568h1.25v1.25h-1.25zM142 568h1.25v1.25h-1.25zM144 568h1.25v1.25h-1.25zM71 569h1.25v1.25h-1.25zM76 569h1.25v1.25h-1.25zM79 569h1.25v1.25h-1.25zM81 569h1.25v1.25h-1.25zM83 569h1.25v1.25h-1.25zM84 569h1.25v1.25h-1.25zM88 569h1.25v1.25h-1.25zM119 569h1.25v1.25h-1.25zM120 569h1.25v1.25h-1.25zM121 569h1.25v1.25h-1.25zM122 569h1.25v1.25h-1.25zM124 569h1.25v1.25h-1.25zM125 569h1.25v1.25h-1.25zM127 569h1.25v1.25h-1.25zM128 569h1.25v1.25h-1.25zM129 569h1.25v1.25h-1.25zM130 569h1.25v1.25h-1.25zM132 569h1.25v1.25h-1.25zM133 569h1.25v1.25h-1.25zM136 569h1.25v1.25h-1.25zM137 569h1.25v1.25h-1.25zM138 569h1.25v1.25h-1.25zM139 569h1.25v1.25h-1.25zM142 569h1.25v1.25h-1.25zM143 569h1.25v1.25h-1.25zM144 569h1.25v1.25h-1.25zM150 569h1.25v1.25h-1.25zM71 570h1.25v1.25h-1.25zM74 570h1.25v1.25h-1.25zM77 570h1.25v1.25h-1.25zM83 570h1.25v1.25h-1.25zM84 570h1.25v1.25h-1.25zM85 570h1.25v1.25h-1.25zM86 570h1.25v1.25h-1.25zM87 570h1.25v1.25h-1.25zM119 570h1.25v1.25h-1.25zM120 570h1.25v1.25h-1.25zM121 570h1.25v1.25h-1.25zM122 570h1.25v1.25h-1.25zM123 570h1.25v1.25h-1.25zM124 570h1.25v1.25h-1.25zM125 570h1.25v1.25h-1.25zM126 570h1.25v1.25h-1.25zM127 570h1.25v1.25h-1.25zM128 570h1.25v1.25h-1.25zM129 570h1.25v1.25h-1.25zM130 570h1.25v1.25h-1.25zM131 570h1.25v1.25h-1.25zM132 570h1.25v1.25h-1.25zM134 570h1.25v1.25h-1.25zM139 570h1.25v1.25h-1.25zM140 570h1.25v1.25h-1.25zM143 570h1.25v1.25h-1.25zM61 571h1.25v1.25h-1.25zM64 571h1.25v1.25h-1.25zM67 571h1.25v1.25h-1.25zM70 571h1.25v1.25h-1.25zM74 571h1.25v1.25h-1.25zM75 571h1.25v1.25h-1.25zM76 571h1.25v1.25h-1.25zM78 571h1.25v1.25h-1.25zM80 571h1.25v1.25h-1.25zM81 571h1.25v1.25h-1.25zM82 571h1.25v1.25h-1.25zM84 571h1.25v1.25h-1.25zM85 571h1.25v1.25h-1.25zM119 571h1.25v1.25h-1.25zM120 571h1.25v1.25h-1.25zM121 571h1.25v1.25h-1.25zM122 571h1.25v1.25h-1.25zM123 571h1.25v1.25h-1.25zM124 571h1.25v1.25h-1.25zM126 571h1.25v1.25h-1.25zM127 571h1.25v1.25h-1.25zM128 571h1.25v1.25h-1.25zM129 571h1.25v1.25h-1.25zM132 571h1.25v1.25h-1.25zM133 571h1.25v1.25h-1.25zM134 571h1.25v1.25h-1.25zM135 571h1.25v1.25h-1.25zM139 571h1.25v1.25h-1.25zM141 571h1.25v1.25h-1.25zM142 571h1.25v1.25h-1.25zM147 571h1.25v1.25h-1.25zM149 571h1.25v1.25h-1.25zM152 571h1.25v1.25h-1.25zM69 572h1.25v1.25h-1.25zM72 572h1.25v1.25h-1.25zM73 572h1.25v1.25h-1.25zM75 572h1.25v1.25h-1.25zM80 572h1.25v1.25h-1.25zM83 572h1.25v1.25h-1.25zM119 572h1.25v1.25h-1.25zM120 572h1.25v1.25h-1.25zM122 572h1.25v1.25h-1.25zM123 572h1.25v1.25h-1.25zM124 572h1.25v1.25h-1.25zM126 572h1.25v1.25h-1.25zM128 572h1.25v1.25h-1.25zM129 572h1.25v1.25h-1.25zM130 572h1.25v1.25h-1.25zM131 572h1.25v1.25h-1.25zM133 572h1.25v1.25h-1.25zM135 572h1.25v1.25h-1.25zM136 572h1.25v1.25h-1.25zM138 572h1.25v1.25h-1.25zM139 572h1.25v1.25h-1.25zM141 572h1.25v1.25h-1.25zM142 572h1.25v1.25h-1.25zM143 572h1.25v1.25h-1.25zM151 572h1.25v1.25h-1.25zM152 572h1.25v1.25h-1.25zM57 573h1.25v1.25h-1.25zM58 573h1.25v1.25h-1.25zM63 573h1.25v1.25h-1.25zM64 573h1.25v1.25h-1.25zM65 573h1.25v1.25h-1.25zM66 573h1.25v1.25h-1.25zM67 573h1.25v1.25h-1.25zM69 573h1.25v1.25h-1.25zM70 573h1.25v1.25h-1.25zM75 573h1.25v1.25h-1.25zM77 573h1.25v1.25h-1.25zM78 573h1.25v1.25h-1.25zM79 573h1.25v1.25h-1.25zM80 573h1.25v1.25h-1.25zM119 573h1.25v1.25h-1.25zM120 573h1.25v1.25h-1.25zM121 573h1.25v1.25h-1.25zM122 573h1.25v1.25h-1.25zM125 573h1.25v1.25h-1.25zM126 573h1.25v1.25h-1.25zM127 573h1.25v1.25h-1.25zM128 573h1.25v1.25h-1.25zM129 573h1.25v1.25h-1.25zM130 573h1.25v1.25h-1.25zM131 573h1.25v1.25h-1.25zM132 573h1.25v1.25h-1.25zM133 573h1.25v1.25h-1.25zM134 573h1.25v1.25h-1.25zM135 573h1.25v1.25h-1.25zM136 573h1.25v1.25h-1.25zM137 573h1.25v1.25h-1.25zM140 573h1.25v1.25h-1.25zM141 573h1.25v1.25h-1.25zM145 573h1.25v1.25h-1.25zM149 573h1.25v1.25h-1.25zM150 573h1.25v1.25h-1.25zM62 574h1.25v1.25h-1.25zM63 574h1.25v1.25h-1.25zM68 574h1.25v1.25h-1.25zM73 574h1.25v1.25h-1.25zM74 574h1.25v1.25h-1.25zM77 574h1.25v1.25h-1.25zM120 574h1.25v1.25h-1.25zM121 574h1.25v1.25h-1.25zM122 574h1.25v1.25h-1.25zM123 574h1.25v1.25h-1.25zM124 574h1.25v1.25h-1.25zM125 574h1.25v1.25h-1.25zM126 574h1.25v1.25h-1.25zM129 574h1.25v1.25h-1.25zM132 574h1.25v1.25h-1.25zM134 574h1.25v1.25h-1.25zM135 574h1.25v1.25h-1.25zM136 574h1.25v1.25h-1.25zM137 574h1.25v1.25h-1.25zM140 574h1.25v1.25h-1.25zM146 574h1.25v1.25h-1.25zM147 574h1.25v1.25h-1.25zM151 574h1.25v1.25h-1.25zM59 575h1.25v1.25h-1.25zM60 575h1.25v1.25h-1.25zM61 575h1.25v1.25h-1.25zM62 575h1.25v1.25h-1.25zM63 575h1.25v1.25h-1.25zM64 575h1.25v1.25h-1.25zM65 575h1.25v1.25h-1.25zM66 575h1.25v1.25h-1.25zM67 575h1.25v1.25h-1.25zM68 575h1.25v1.25h-1.25zM69 575h1.25v1.25h-1.25zM120 575h1.25v1.25h-1.25zM121 575h1.25v1.25h-1.25zM122 575h1.25v1.25h-1.25zM123 575h1.25v1.25h-1.25zM124 575h1.25v1.25h-1.25zM125 575h1.25v1.25h-1.25zM126 575h1.25v1.25h-1.25zM127 575h1.25v1.25h-1.25zM129 575h1.25v1.25h-1.25zM132 575h1.25v1.25h-1.25zM134 575h1.25v1.25h-1.25zM135 575h1.25v1.25h-1.25zM136 575h1.25v1.25h-1.25zM137 575h1.25v1.25h-1.25zM138 575h1.25v1.25h-1.25zM140 575h1.25v1.25h-1.25zM141 575h1.25v1.25h-1.25zM144 575h1.25v1.25h-1.25zM149 575h1.25v1.25h-1.25zM150 575h1.25v1.25h-1.25zM57 576h1.25v1.25h-1.25zM60 576h1.25v1.25h-1.25zM61 576h1.25v1.25h-1.25zM63 576h1.25v1.25h-1.25zM120 576h1.25v1.25h-1.25zM121 576h1.25v1.25h-1.25zM123 576h1.25v1.25h-1.25zM124 576h1.25v1.25h-1.25zM125 576h1.25v1.25h-1.25zM126 576h1.25v1.25h-1.25zM127 576h1.25v1.25h-1.25zM128 576h1.25v1.25h-1.25zM129 576h1.25v1.25h-1.25zM130 576h1.25v1.25h-1.25zM134 576h1.25v1.25h-1.25zM136 576h1.25v1.25h-1.25zM139 576h1.25v1.25h-1.25zM141 576h1.25v1.25h-1.25zM142 576h1.25v1.25h-1.25zM58 577h1.25v1.25h-1.25zM60 577h1.25v1.25h-1.25zM121 577h1.25v1.25h-1.25zM122 577h1.25v1.25h-1.25zM123 577h1.25v1.25h-1.25zM124 577h1.25v1.25h-1.25zM125 577h1.25v1.25h-1.25zM126 577h1.25v1.25h-1.25zM127 577h1.25v1.25h-1.25zM128 577h1.25v1.25h-1.25zM129 577h1.25v1.25h-1.25zM130 577h1.25v1.25h-1.25zM131 577h1.25v1.25h-1.25zM132 577h1.25v1.25h-1.25zM134 577h1.25v1.25h-1.25zM135 577h1.25v1.25h-1.25zM136 577h1.25v1.25h-1.25zM139 577h1.25v1.25h-1.25zM143 577h1.25v1.25h-1.25zM145 577h1.25v1.25h-1.25zM146 577h1.25v1.25h-1.25zM148 577h1.25v1.25h-1.25zM60 578h1.25v1.25h-1.25zM121 578h1.25v1.25h-1.25zM122 578h1.25v1.25h-1.25zM123 578h1.25v1.25h-1.25zM125 578h1.25v1.25h-1.25zM126 578h1.25v1.25h-1.25zM127 578h1.25v1.25h-1.25zM128 578h1.25v1.25h-1.25zM130 578h1.25v1.25h-1.25zM133 578h1.25v1.25h-1.25zM135 578h1.25v1.25h-1.25zM136 578h1.25v1.25h-1.25zM137 578h1.25v1.25h-1.25zM140 578h1.25v1.25h-1.25zM141 578h1.25v1.25h-1.25zM142 578h1.25v1.25h-1.25zM143 578h1.25v1.25h-1.25zM148 578h1.25v1.25h-1.25zM150 578h1.25v1.25h-1.25zM152 578h1.25v1.25h-1.25zM59 579h1.25v1.25h-1.25zM122 579h1.25v1.25h-1.25zM124 579h1.25v1.25h-1.25zM125 579h1.25v1.25h-1.25zM126 579h1.25v1.25h-1.25zM127 579h1.25v1.25h-1.25zM130 579h1.25v1.25h-1.25zM131 579h1.25v1.25h-1.25zM133 579h1.25v1.25h-1.25zM134 579h1.25v1.25h-1.25zM135 579h1.25v1.25h-1.25zM136 579h1.25v1.25h-1.25zM137 579h1.25v1.25h-1.25zM138 579h1.25v1.25h-1.25zM139 579h1.25v1.25h-1.25zM141 579h1.25v1.25h-1.25zM142 579h1.25v1.25h-1.25zM143 579h1.25v1.25h-1.25zM145 579h1.25v1.25h-1.25zM146 579h1.25v1.25h-1.25zM150 579h1.25v1.25h-1.25zM151 579h1.25v1.25h-1.25zM58 580h1.25v1.25h-1.25zM59 580h1.25v1.25h-1.25zM122 580h1.25v1.25h-1.25zM123 580h1.25v1.25h-1.25zM124 580h1.25v1.25h-1.25zM127 580h1.25v1.25h-1.25zM128 580h1.25v1.25h-1.25zM130 580h1.25v1.25h-1.25zM131 580h1.25v1.25h-1.25zM132 580h1.25v1.25h-1.25zM133 580h1.25v1.25h-1.25zM134 580h1.25v1.25h-1.25zM135 580h1.25v1.25h-1.25zM136 580h1.25v1.25h-1.25zM137 580h1.25v1.25h-1.25zM138 580h1.25v1.25h-1.25zM139 580h1.25v1.25h-1.25zM140 580h1.25v1.25h-1.25zM142 580h1.25v1.25h-1.25zM145 580h1.25v1.25h-1.25zM149 580h1.25v1.25h-1.25zM57 581h1.25v1.25h-1.25zM58 581h1.25v1.25h-1.25zM123 581h1.25v1.25h-1.25zM127 581h1.25v1.25h-1.25zM128 581h1.25v1.25h-1.25zM129 581h1.25v1.25h-1.25zM130 581h1.25v1.25h-1.25zM132 581h1.25v1.25h-1.25zM133 581h1.25v1.25h-1.25zM134 581h1.25v1.25h-1.25zM136 581h1.25v1.25h-1.25zM137 581h1.25v1.25h-1.25zM138 581h1.25v1.25h-1.25zM139 581h1.25v1.25h-1.25zM142 581h1.25v1.25h-1.25zM143 581h1.25v1.25h-1.25zM148 581h1.25v1.25h-1.25zM150 581h1.25v1.25h-1.25zM151 581h1.25v1.25h-1.25zM57 582h1.25v1.25h-1.25zM124 582h1.25v1.25h-1.25zM125 582h1.25v1.25h-1.25zM126 582h1.25v1.25h-1.25zM127 582h1.25v1.25h-1.25zM130 582h1.25v1.25h-1.25zM131 582h1.25v1.25h-1.25zM132 582h1.25v1.25h-1.25zM134 582h1.25v1.25h-1.25zM135 582h1.25v1.25h-1.25zM136 582h1.25v1.25h-1.25zM138 582h1.25v1.25h-1.25zM139 582h1.25v1.25h-1.25zM143 582h1.25v1.25h-1.25zM147 582h1.25v1.25h-1.25zM58 583h1.25v1.25h-1.25zM59 583h1.25v1.25h-1.25zM125 583h1.25v1.25h-1.25zM127 583h1.25v1.25h-1.25zM128 583h1.25v1.25h-1.25zM129 583h1.25v1.25h-1.25zM130 583h1.25v1.25h-1.25zM131 583h1.25v1.25h-1.25zM134 583h1.25v1.25h-1.25zM135 583h1.25v1.25h-1.25zM139 583h1.25v1.25h-1.25zM145 583h1.25v1.25h-1.25zM146 583h1.25v1.25h-1.25zM59 584h1.25v1.25h-1.25zM127 584h1.25v1.25h-1.25zM128 584h1.25v1.25h-1.25zM129 584h1.25v1.25h-1.25zM130 584h1.25v1.25h-1.25zM132 584h1.25v1.25h-1.25zM133 584h1.25v1.25h-1.25zM135 584h1.25v1.25h-1.25zM139 584h1.25v1.25h-1.25zM140 584h1.25v1.25h-1.25zM142 584h1.25v1.25h-1.25zM143 584h1.25v1.25h-1.25zM58 585h1.25v1.25h-1.25zM59 585h1.25v1.25h-1.25zM126 585h1.25v1.25h-1.25zM127 585h1.25v1.25h-1.25zM128 585h1.25v1.25h-1.25zM130 585h1.25v1.25h-1.25zM134 585h1.25v1.25h-1.25zM135 585h1.25v1.25h-1.25zM139 585h1.25v1.25h-1.25zM141 585h1.25v1.25h-1.25zM142 585h1.25v1.25h-1.25zM143 585h1.25v1.25h-1.25zM146 585h1.25v1.25h-1.25zM59 586h1.25v1.25h-1.25zM127 586h1.25v1.25h-1.25zM128 586h1.25v1.25h-1.25zM129 586h1.25v1.25h-1.25zM130 586h1.25v1.25h-1.25zM132 586h1.25v1.25h-1.25zM134 586h1.25v1.25h-1.25zM135 586h1.25v1.25h-1.25zM137 586h1.25v1.25h-1.25zM141 586h1.25v1.25h-1.25zM142 586h1.25v1.25h-1.25zM144 586h1.25v1.25h-1.25zM147 586h1.25v1.25h-1.25zM151 586h1.25v1.25h-1.25zM57 587h1.25v1.25h-1.25zM58 587h1.25v1.25h-1.25zM129 587h1.25v1.25h-1.25zM130 587h1.25v1.25h-1.25zM131 587h1.25v1.25h-1.25zM132 587h1.25v1.25h-1.25zM135 587h1.25v1.25h-1.25zM139 587h1.25v1.25h-1.25zM140 587h1.25v1.25h-1.25zM141 587h1.25v1.25h-1.25zM142 587h1.25v1.25h-1.25zM143 587h1.25v1.25h-1.25zM144 587h1.25v1.25h-1.25zM147 587h1.25v1.25h-1.25zM148 587h1.25v1.25h-1.25zM149 587h1.25v1.25h-1.25zM152 587h1.25v1.25h-1.25zM57 588h1.25v1.25h-1.25zM130 588h1.25v1.25h-1.25zM131 588h1.25v1.25h-1.25zM132 588h1.25v1.25h-1.25zM133 588h1.25v1.25h-1.25zM135 588h1.25v1.25h-1.25zM138 588h1.25v1.25h-1.25zM139 588h1.25v1.25h-1.25zM142 588h1.25v1.25h-1.25zM143 588h1.25v1.25h-1.25zM144 588h1.25v1.25h-1.25zM146 588h1.25v1.25h-1.25zM57 589h1.25v1.25h-1.25zM58 589h1.25v1.25h-1.25zM132 589h1.25v1.25h-1.25zM133 589h1.25v1.25h-1.25zM137 589h1.25v1.25h-1.25zM138 589h1.25v1.25h-1.25zM139 589h1.25v1.25h-1.25zM143 589h1.25v1.25h-1.25zM145 589h1.25v1.25h-1.25zM148 589h1.25v1.25h-1.25zM150 589h1.25v1.25h-1.25zM58 590h1.25v1.25h-1.25zM59 590h1.25v1.25h-1.25zM135 590h1.25v1.25h-1.25zM136 590h1.25v1.25h-1.25zM140 590h1.25v1.25h-1.25zM142 590h1.25v1.25h-1.25zM144 590h1.25v1.25h-1.25zM146 590h1.25v1.25h-1.25zM148 590h1.25v1.25h-1.25zM149 590h1.25v1.25h-1.25zM150 590h1.25v1.25h-1.25zM57 591h1.25v1.25h-1.25zM58 591h1.25v1.25h-1.25zM59 591h1.25v1.25h-1.25zM138 591h1.25v1.25h-1.25zM139 591h1.25v1.25h-1.25zM142 591h1.25v1.25h-1.25zM143 591h1.25v1.25h-1.25zM147 591h1.25v1.25h-1.25zM149 591h1.25v1.25h-1.25zM57 592h1.25v1.25h-1.25zM138 592h1.25v1.25h-1.25zM142 592h1.25v1.25h-1.25zM145 592h1.25v1.25h-1.25zM146 592h1.25v1.25h-1.25zM147 592h1.25v1.25h-1.25zM150 592h1.25v1.25h-1.25z" fill="#000"/>
<path d="M125 468h1.1v1.1h-1.1zM127 468h1.1v1.1h-1.1zM141 468h1.1v1.1h-1.1zM114 469h1.1v1.1h-1.1zM116 470h1.1v1.1h-1.1zM175 473h1.1v1.1h-1.1zM108 475h1.1v1.1h-1.1zM126 475h1.1v1.1h-1.1zM161 475h1.1v1.1h-1.1zM112 476h1.1v1.1h-1.1zM113 477h1.1v1.1h-1.1zM126 477h1.1v1.1h-1.1zM131 477h1.1v1.1h-1.1zM137 477h1.1v1.1h-1.1zM160 477h1.1v1.1h-1.1zM112 478h1.1v1.1h-1.1zM136 478h1.1v1.1h-1.1zM129 481h1.1v1.1h-1.1zM109 482h1.1v1.1h-1.1zM110 482h1.1v1.1h-1.1zM106 484h1.1v1.1h-1.1zM159 484h1.1v1.1h-1.1zM108 485h1.1v1.1h-1.1zM109 485h1.1v1.1h-1.1zM125 486h1.1v1.1h-1.1zM128 487h1.1v1.1h-1.1zM130 487h1.1v1.1h-1.1zM179 487h1.1v1.1h-1.1zM133 488h1.1v1.1h-1.1zM150 488h1.1v1.1h-1.1zM132 490h1.1v1.1h-1.1zM137 490h1.1v1.1h-1.1zM135 491h1.1v1.1h-1.1zM146 491h1.1v1.1h-1.1zM133 494h1.1v1.1h-1.1zM146 494h1.1v1.1h-1.1zM144 495h1.1v1.1h-1.1zM123 496h1.1v1.1h-1.1zM125 496h1.1v1.1h-1.1zM134 496h1.1v1.1h-1.1zM148 496h1.1v1.1h-1.1zM124 497h1.1v1.1h-1.1zM126 497h1.1v1.1h-1.1zM140 497h1.1v1.1h-1.1zM144 497h1.1v1.1h-1.1zM128 498h1.1v1.1h-1.1zM135 498h1.1v1.1h-1.1zM148 498h1.1v1.1h-1.1zM129 499h1.1v1.1h-1.1zM132 499h1.1v1.1h-1.1zM136 499h1.1v1.1h-1.1zM137 499h1.1v1.1h-1.1zM147 499h1.1v1.1h-1.1zM134 500h1.1v1.1h-1.1zM140 500h1.1v1.1h-1.1zM145 501h1.1v1.1h-1.1zM142 502h1.1v1.1h-1.1zM151 502h1.1v1.1h-1.1zM158 502h1.1v1.1h-1.1zM180 502h1.1v1.1h-1.1zM145 504h1.1v1.1h-1.1zM155 504h1.1v1.1h-1.1zM106 506h1.1v1.1h-1.1zM107 507h1.1v1.1h-1.1zM149 508h1.1v1.1h-1.1zM150 509h1.1v1.1h-1.1zM107 511h1.1v1.1h-1.1zM173 512h1.1v1.1h-1.1zM101 514h1.1v1.1h-1.1zM105 514h1.1v1.1h-1.1zM106 514h1.1v1.1h-1.1zM156 516h1.1v1.1h-1.1zM104 521h1.1v1.1h-1.1zM159 522h1.1v1.1h-1.1zM174 523h1.1v1.1h-1.1zM102 528h1.1v1.1h-1.1zM102 529h1.1v1.1h-1.1zM100 531h1.1v1.1h-1.1zM98 533h1.1v1.1h-1.1zM173 536h1.1v1.1h-1.1zM153 538h1.1v1.1h-1.1zM94 544h1.1v1.1h-1.1zM96 545h1.1v1.1h-1.1zM160 545h1.1v1.1h-1.1zM95 548h1.1v1.1h-1.1zM93 549h1.1v1.1h-1.1zM79 550h1.1v1.1h-1.1zM57 553h1.1v1.1h-1.1zM155 553h1.1v1.1h-1.1zM83 554h1.1v1.1h-1.1zM79 555h1.1v1.1h-1.1zM85 555h1.1v1.1h-1.1zM86 555h1.1v1.1h-1.1zM172 555h1.1v1.1h-1.1zM86 556h1.1v1.1h-1.1zM155 556h1.1v1.1h-1.1zM169 558h1.1v1.1h-1.1zM73 559h1.1v1.1h-1.1zM84 559h1.1v1.1h-1.1zM63 560h1.1v1.1h-1.1zM171 560h1.1v1.1h-1.1zM72 561h1.1v1.1h-1.1zM153 561h1.1v1.1h-1.1zM58 562h1.1v1.1h-1.1zM169 563h1.1v1.1h-1.1zM73 564h1.1v1.1h-1.1zM80 564h1.1v1.1h-1.1zM66 565h1.1v1.1h-1.1zM75 565h1.1v1.1h-1.1zM154 565h1.1v1.1h-1.1zM61 566h1.1v1.1h-1.1zM67 566h1.1v1.1h-1.1zM74 566h1.1v1.1h-1.1zM73 567h1.1v1.1h-1.1zM63 568h1.1v1.1h-1.1zM167 573h1.1v1.1h-1.1zM156 589h1.1v1.1h-1.1zM158 589h1.1v1.1h-1.1z" fill="#444"/>
<rect x="58" y="576.5" width="3.8" height="16.5" fill="#b8b8b8"/>
<ellipse cx="325.6" cy="540.6" rx="18.5" ry="6.2" transform="rotate(-52 325.6 540.6)" fill="#000"/>
<path d="M297 549h1.15v1.15h-1.15zM298 549h1.15v1.15h-1.15zM304 548h1.15v1.15h-1.15zM304 549h1.15v1.15h-1.15zM306 547h1.15v1.15h-1.15zM306 548h1.15v1.15h-1.15zM306 550h1.15v1.15h-1.15zM306 552h1.15v1.15h-1.15zM307 547h1.15v1.15h-1.15zM307 552h1.15v1.15h-1.15zM307 554h1.15v1.15h-1.15zM308 548h1.15v1.15h-1.15zM308 549h1.15v1.15h-1.15zM308 550h1.15v1.15h-1.15zM308 553h1.15v1.15h-1.15zM308 555h1.15v1.15h-1.15zM308 558h1.15v1.15h-1.15zM308 559h1.15v1.15h-1.15zM309 552h1.15v1.15h-1.15zM309 553h1.15v1.15h-1.15zM309 560h1.15v1.15h-1.15zM309 561h1.15v1.15h-1.15zM309 563h1.15v1.15h-1.15zM309 564h1.15v1.15h-1.15zM309 566h1.15v1.15h-1.15zM310 548h1.15v1.15h-1.15zM310 549h1.15v1.15h-1.15zM310 550h1.15v1.15h-1.15zM310 551h1.15v1.15h-1.15zM310 554h1.15v1.15h-1.15zM310 556h1.15v1.15h-1.15zM310 557h1.15v1.15h-1.15zM310 558h1.15v1.15h-1.15zM310 560h1.15v1.15h-1.15zM310 561h1.15v1.15h-1.15zM310 563h1.15v1.15h-1.15zM311 547h1.15v1.15h-1.15zM311 550h1.15v1.15h-1.15zM311 551h1.15v1.15h-1.15zM311 552h1.15v1.15h-1.15zM311 553h1.15v1.15h-1.15zM311 555h1.15v1.15h-1.15zM311 561h1.15v1.15h-1.15zM311 564h1.15v1.15h-1.15zM311 567h1.15v1.15h-1.15zM311 569h1.15v1.15h-1.15zM311 571h1.15v1.15h-1.15zM312 544h1.15v1.15h-1.15zM312 545h1.15v1.15h-1.15zM312 546h1.15v1.15h-1.15zM312 547h1.15v1.15h-1.15zM312 548h1.15v1.15h-1.15zM312 550h1.15v1.15h-1.15zM312 551h1.15v1.15h-1.15zM312 553h1.15v1.15h-1.15zM312 554h1.15v1.15h-1.15zM312 559h1.15v1.15h-1.15zM312 562h1.15v1.15h-1.15zM312 567h1.15v1.15h-1.15zM313 540h1.15v1.15h-1.15zM313 546h1.15v1.15h-1.15zM313 547h1.15v1.15h-1.15zM313 548h1.15v1.15h-1.15zM313 549h1.15v1.15h-1.15zM313 550h1.15v1.15h-1.15zM313 551h1.15v1.15h-1.15zM313 552h1.15v1.15h-1.15zM313 554h1.15v1.15h-1.15zM313 555h1.15v1.15h-1.15zM313 561h1.15v1.15h-1.15zM313 565h1.15v1.15h-1.15zM313 567h1.15v1.15h-1.15zM313 569h1.15v1.15h-1.15zM314 545h1.15v1.15h-1.15zM314 546h1.15v1.15h-1.15zM314 547h1.15v1.15h-1.15zM314 549h1.15v1.15h-1.15zM314 550h1.15v1.15h-1.15zM314 551h1.15v1.15h-1.15zM314 552h1.15v1.15h-1.15zM314 553h1.15v1.15h-1.15zM314 554h1.15v1.15h-1.15zM314 555h1.15v1.15h-1.15zM314 556h1.15v1.15h-1.15zM314 557h1.15v1.15h-1.15zM314 559h1.15v1.15h-1.15zM314 563h1.15v1.15h-1.15zM314 565h1.15v1.15h-1.15zM314 566h1.15v1.15h-1.15zM314 568h1.15v1.15h-1.15zM315 535h1.15v1.15h-1.15zM315 538h1.15v1.15h-1.15zM315 541h1.15v1.15h-1.15zM315 542h1.15v1.15h-1.15zM315 544h1.15v1.15h-1.15zM315 545h1.15v1.15h-1.15zM315 546h1.15v1.15h-1.15zM315 547h1.15v1.15h-1.15zM315 548h1.15v1.15h-1.15zM315 549h1.15v1.15h-1.15zM315 550h1.15v1.15h-1.15zM315 551h1.15v1.15h-1.15zM315 553h1.15v1.15h-1.15zM315 554h1.15v1.15h-1.15zM315 558h1.15v1.15h-1.15zM315 559h1.15v1.15h-1.15zM315 561h1.15v1.15h-1.15zM315 562h1.15v1.15h-1.15zM315 565h1.15v1.15h-1.15zM315 566h1.15v1.15h-1.15zM315 568h1.15v1.15h-1.15zM315 576h1.15v1.15h-1.15zM316 536h1.15v1.15h-1.15zM316 538h1.15v1.15h-1.15zM316 539h1.15v1.15h-1.15zM316 540h1.15v1.15h-1.15zM316 541h1.15v1.15h-1.15zM316 542h1.15v1.15h-1.15zM316 543h1.15v1.15h-1.15zM316 545h1.15v1.15h-1.15zM316 546h1.15v1.15h-1.15zM316 548h1.15v1.15h-1.15zM316 549h1.15v1.15h-1.15zM316 550h1.15v1.15h-1.15zM316 551h1.15v1.15h-1.15zM316 552h1.15v1.15h-1.15zM316 554h1.15v1.15h-1.15zM316 555h1.15v1.15h-1.15zM316 557h1.15v1.15h-1.15zM316 558h1.15v1.15h-1.15zM316 559h1.15v1.15h-1.15zM316 580h1.15v1.15h-1.15zM316 581h1.15v1.15h-1.15zM317 537h1.15v1.15h-1.15zM317 539h1.15v1.15h-1.15zM317 540h1.15v1.15h-1.15zM317 541h1.15v1.15h-1.15zM317 543h1.15v1.15h-1.15zM317 544h1.15v1.15h-1.15zM317 545h1.15v1.15h-1.15zM317 546h1.15v1.15h-1.15zM317 547h1.15v1.15h-1.15zM317 548h1.15v1.15h-1.15zM317 549h1.15v1.15h-1.15zM317 550h1.15v1.15h-1.15zM317 552h1.15v1.15h-1.15zM317 553h1.15v1.15h-1.15zM317 554h1.15v1.15h-1.15zM317 555h1.15v1.15h-1.15zM317 556h1.15v1.15h-1.15zM317 557h1.15v1.15h-1.15zM317 558h1.15v1.15h-1.15zM317 559h1.15v1.15h-1.15zM317 560h1.15v1.15h-1.15zM318 535h1.15v1.15h-1.15zM318 536h1.15v1.15h-1.15zM318 537h1.15v1.15h-1.15zM318 538h1.15v1.15h-1.15zM318 539h1.15v1.15h-1.15zM318 541h1.15v1.15h-1.15zM318 542h1.15v1.15h-1.15zM318 543h1.15v1.15h-1.15zM318 544h1.15v1.15h-1.15zM318 545h1.15v1.15h-1.15zM318 546h1.15v1.15h-1.15zM318 547h1.15v1.15h-1.15zM318 548h1.15v1.15h-1.15zM318 549h1.15v1.15h-1.15zM318 550h1.15v1.15h-1.15zM318 551h1.15v1.15h-1.15zM318 552h1.15v1.15h-1.15zM318 553h1.15v1.15h-1.15zM318 555h1.15v1.15h-1.15zM318 561h1.15v1.15h-1.15zM318 577h1.15v1.15h-1.15zM319 534h1.15v1.15h-1.15zM319 536h1.15v1.15h-1.15zM319 537h1.15v1.15h-1.15zM319 538h1.15v1.15h-1.15zM319 539h1.15v1.15h-1.15zM319 540h1.15v1.15h-1.15zM319 541h1.15v1.15h-1.15zM319 542h1.15v1.15h-1.15zM319 543h1.15v1.15h-1.15zM319 544h1.15v1.15h-1.15zM319 545h1.15v1.15h-1.15zM319 546h1.15v1.15h-1.15zM319 547h1.15v1.15h-1.15zM319 548h1.15v1.15h-1.15zM319 549h1.15v1.15h-1.15zM319 550h1.15v1.15h-1.15zM319 551h1.15v1.15h-1.15zM319 552h1.15v1.15h-1.15zM319 554h1.15v1.15h-1.15zM319 555h1.15v1.15h-1.15zM319 556h1.15v1.15h-1.15zM319 557h1.15v1.15h-1.15zM319 558h1.15v1.15h-1.15zM319 559h1.15v1.15h-1.15zM320 530h1.15v1.15h-1.15zM320 531h1.15v1.15h-1.15zM320 532h1.15v1.15h-1.15zM320 535h1.15v1.15h-1.15zM320 536h1.15v1.15h-1.15zM320 537h1.15v1.15h-1.15zM320 538h1.15v1.15h-1.15zM320 539h1.15v1.15h-1.15zM320 540h1.15v1.15h-1.15zM320 541h1.15v1.15h-1.15zM320 542h1.15v1.15h-1.15zM320 543h1.15v1.15h-1.15zM320 544h1.15v1.15h-1.15zM320 545h1.15v1.15h-1.15zM320 546h1.15v1.15h-1.15zM320 547h1.15v1.15h-1.15zM320 548h1.15v1.15h-1.15zM320 549h1.15v1.15h-1.15zM320 550h1.15v1.15h-1.15zM320 552h1.15v1.15h-1.15zM320 554h1.15v1.15h-1.15zM320 555h1.15v1.15h-1.15zM320 559h1.15v1.15h-1.15zM320 560h1.15v1.15h-1.15zM320 571h1.15v1.15h-1.15zM320 572h1.15v1.15h-1.15zM321 528h1.15v1.15h-1.15zM321 530h1.15v1.15h-1.15zM321 532h1.15v1.15h-1.15zM321 533h1.15v1.15h-1.15zM321 534h1.15v1.15h-1.15zM321 535h1.15v1.15h-1.15zM321 536h1.15v1.15h-1.15zM321 537h1.15v1.15h-1.15zM321 538h1.15v1.15h-1.15zM321 539h1.15v1.15h-1.15zM321 540h1.15v1.15h-1.15zM321 541h1.15v1.15h-1.15zM321 542h1.15v1.15h-1.15zM321 543h1.15v1.15h-1.15zM321 544h1.15v1.15h-1.15zM321 545h1.15v1.15h-1.15zM321 546h1.15v1.15h-1.15zM321 547h1.15v1.15h-1.15zM321 548h1.15v1.15h-1.15zM321 549h1.15v1.15h-1.15zM321 550h1.15v1.15h-1.15zM321 551h1.15v1.15h-1.15zM321 553h1.15v1.15h-1.15zM321 554h1.15v1.15h-1.15zM321 555h1.15v1.15h-1.15zM321 556h1.15v1.15h-1.15zM321 559h1.15v1.15h-1.15zM321 572h1.15v1.15h-1.15zM321 573h1.15v1.15h-1.15zM322 530h1.15v1.15h-1.15zM322 533h1.15v1.15h-1.15zM322 535h1.15v1.15h-1.15zM322 536h1.15v1.15h-1.15zM322 537h1.15v1.15h-1.15zM322 538h1.15v1.15h-1.15zM322 539h1.15v1.15h-1.15zM322 540h1.15v1.15h-1.15zM322 541h1.15v1.15h-1.15zM322 542h1.15v1.15h-1.15zM322 543h1.15v1.15h-1.15zM322 544h1.15v1.15h-1.15zM322 545h1.15v1.15h-1.15zM322 546h1.15v1.15h-1.15zM322 547h1.15v1.15h-1.15zM322 548h1.15v1.15h-1.15zM322 549h1.15v1.15h-1.15zM322 550h1.15v1.15h-1.15zM322 551h1.15v1.15h-1.15zM322 552h1.15v1.15h-1.15zM322 553h1.15v1.15h-1.15zM322 554h1.15v1.15h-1.15zM322 556h1.15v1.15h-1.15zM322 557h1.15v1.15h-1.15zM322 571h1.15v1.15h-1.15zM323 527h1.15v1.15h-1.15zM323 528h1.15v1.15h-1.15zM323 532h1.15v1.15h-1.15zM323 533h1.15v1.15h-1.15zM323 534h1.15v1.15h-1.15zM323 535h1.15v1.15h-1.15zM323 536h1.15v1.15h-1.15zM323 537h1.15v1.15h-1.15zM323 538h1.15v1.15h-1.15zM323 539h1.15v1.15h-1.15zM323 540h1.15v1.15h-1.15zM323 541h1.15v1.15h-1.15zM323 542h1.15v1.15h-1.15zM323 543h1.15v1.15h-1.15zM323 544h1.15v1.15h-1.15zM323 545h1.15v1.15h-1.15zM323 546h1.15v1.15h-1.15zM323 547h1.15v1.15h-1.15zM323 548h1.15v1.15h-1.15zM323 549h1.15v1.15h-1.15zM323 550h1.15v1.15h-1.15zM323 551h1.15v1.15h-1.15zM323 552h1.15v1.15h-1.15zM323 553h1.15v1.15h-1.15zM323 554h1.15v1.15h-1.15zM323 555h1.15v1.15h-1.15zM324 529h1.15v1.15h-1.15zM324 531h1.15v1.15h-1.15zM324 533h1.15v1.15h-1.15zM324 534h1.15v1.15h-1.15zM324 535h1.15v1.15h-1.15zM324 536h1.15v1.15h-1.15zM324 537h1.15v1.15h-1.15zM324 538h1.15v1.15h-1.15zM324 539h1.15v1.15h-1.15zM324 540h1.15v1.15h-1.15zM324 541h1.15v1.15h-1.15zM324 542h1.15v1.15h-1.15zM324 543h1.15v1.15h-1.15zM324 544h1.15v1.15h-1.15zM324 545h1.15v1.15h-1.15zM324 546h1.15v1.15h-1.15zM324 547h1.15v1.15h-1.15zM324 548h1.15v1.15h-1.15zM324 549h1.15v1.15h-1.15zM324 550h1.15v1.15h-1.15zM324 551h1.15v1.15h-1.15zM324 552h1.15v1.15h-1.15zM324 554h1.15v1.15h-1.15zM325 527h1.15v1.15h-1.15zM325 528h1.15v1.15h-1.15zM325 532h1.15v1.15h-1.15zM325 533h1.15v1.15h-1.15zM325 534h1.15v1.15h-1.15zM325 535h1.15v1.15h-1.15zM325 536h1.15v1.15h-1.15zM325 537h1.15v1.15h-1.15zM325 538h1.15v1.15h-1.15zM325 539h1.15v1.15h-1.15zM325 540h1.15v1.15h-1.15zM325 541h1.15v1.15h-1.15zM325 542h1.15v1.15h-1.15zM325 543h1.15v1.15h-1.15zM325 544h1.15v1.15h-1.15zM325 545h1.15v1.15h-1.15zM325 546h1.15v1.15h-1.15zM325 547h1.15v1.15h-1.15zM325 548h1.15v1.15h-1.15zM325 549h1.15v1.15h-1.15zM325 550h1.15v1.15h-1.15zM325 551h1.15v1.15h-1.15zM325 552h1.15v1.15h-1.15zM325 553h1.15v1.15h-1.15zM326 529h1.15v1.15h-1.15zM326 530h1.15v1.15h-1.15zM326 531h1.15v1.15h-1.15zM326 532h1.15v1.15h-1.15zM326 533h1.15v1.15h-1.15zM326 534h1.15v1.15h-1.15zM326 535h1.15v1.15h-1.15zM326 536h1.15v1.15h-1.15zM326 537h1.15v1.15h-1.15zM326 538h1.15v1.15h-1.15zM326 539h1.15v1.15h-1.15zM326 540h1.15v1.15h-1.15zM326 541h1.15v1.15h-1.15zM326 542h1.15v1.15h-1.15zM326 543h1.15v1.15h-1.15zM326 544h1.15v1.15h-1.15zM326 545h1.15v1.15h-1.15zM326 546h1.15v1.15h-1.15zM326 547h1.15v1.15h-1.15zM326 548h1.15v1.15h-1.15zM326 549h1.15v1.15h-1.15zM326 550h1.15v1.15h-1.15zM326 551h1.15v1.15h-1.15zM326 552h1.15v1.15h-1.15zM327 526h1.15v1.15h-1.15zM327 527h1.15v1.15h-1.15zM327 528h1.15v1.15h-1.15zM327 531h1.15v1.15h-1.15zM327 532h1.15v1.15h-1.15zM327 533h1.15v1.15h-1.15zM327 534h1.15v1.15h-1.15zM327 535h1.15v1.15h-1.15zM327 536h1.15v1.15h-1.15zM327 537h1.15v1.15h-1.15zM327 538h1.15v1.15h-1.15zM327 540h1.15v1.15h-1.15zM327 541h1.15v1.15h-1.15zM327 542h1.15v1.15h-1.15zM327 543h1.15v1.15h-1.15zM327 544h1.15v1.15h-1.15zM327 545h1.15v1.15h-1.15zM327 546h1.15v1.15h-1.15zM327 547h1.15v1.15h-1.15zM327 548h1.15v1.15h-1.15zM327 551h1.15v1.15h-1.15zM328 528h1.15v1.15h-1.15zM328 529h1.15v1.15h-1.15zM328 530h1.15v1.15h-1.15zM328 531h1.15v1.15h-1.15zM328 532h1.15v1.15h-1.15zM328 533h1.15v1.15h-1.15zM328 534h1.15v1.15h-1.15zM328 535h1.15v1.15h-1.15zM328 536h1.15v1.15h-1.15zM328 537h1.15v1.15h-1.15zM328 538h1.15v1.15h-1.15zM328 539h1.15v1.15h-1.15zM328 540h1.15v1.15h-1.15zM328 541h1.15v1.15h-1.15zM328 542h1.15v1.15h-1.15zM328 543h1.15v1.15h-1.15zM328 544h1.15v1.15h-1.15zM328 545h1.15v1.15h-1.15zM328 546h1.15v1.15h-1.15zM328 549h1.15v1.15h-1.15zM328 550h1.15v1.15h-1.15zM329 524h1.15v1.15h-1.15zM329 525h1.15v1.15h-1.15zM329 527h1.15v1.15h-1.15zM329 529h1.15v1.15h-1.15zM329 530h1.15v1.15h-1.15zM329 531h1.15v1.15h-1.15zM329 532h1.15v1.15h-1.15zM329 533h1.15v1.15h-1.15zM329 534h1.15v1.15h-1.15zM329 535h1.15v1.15h-1.15zM329 536h1.15v1.15h-1.15zM329 537h1.15v1.15h-1.15zM329 538h1.15v1.15h-1.15zM329 539h1.15v1.15h-1.15zM329 540h1.15v1.15h-1.15zM329 541h1.15v1.15h-1.15zM329 542h1.15v1.15h-1.15zM329 543h1.15v1.15h-1.15zM329 544h1.15v1.15h-1.15zM329 545h1.15v1.15h-1.15zM329 546h1.15v1.15h-1.15zM329 547h1.15v1.15h-1.15zM329 548h1.15v1.15h-1.15zM329 549h1.15v1.15h-1.15zM329 550h1.15v1.15h-1.15zM330 526h1.15v1.15h-1.15zM330 528h1.15v1.15h-1.15zM330 529h1.15v1.15h-1.15zM330 530h1.15v1.15h-1.15zM330 531h1.15v1.15h-1.15zM330 532h1.15v1.15h-1.15zM330 533h1.15v1.15h-1.15zM330 534h1.15v1.15h-1.15zM330 535h1.15v1.15h-1.15zM330 536h1.15v1.15h-1.15zM330 537h1.15v1.15h-1.15zM330 539h1.15v1.15h-1.15zM330 540h1.15v1.15h-1.15zM330 542h1.15v1.15h-1.15zM330 543h1.15v1.15h-1.15zM330 544h1.15v1.15h-1.15zM330 545h1.15v1.15h-1.15zM330 548h1.15v1.15h-1.15zM331 525h1.15v1.15h-1.15zM331 526h1.15v1.15h-1.15zM331 527h1.15v1.15h-1.15zM331 528h1.15v1.15h-1.15zM331 529h1.15v1.15h-1.15zM331 530h1.15v1.15h-1.15zM331 531h1.15v1.15h-1.15zM331 532h1.15v1.15h-1.15zM331 533h1.15v1.15h-1.15zM331 534h1.15v1.15h-1.15zM331 535h1.15v1.15h-1.15zM331 536h1.15v1.15h-1.15zM331 537h1.15v1.15h-1.15zM331 538h1.15v1.15h-1.15zM331 539h1.15v1.15h-1.15zM331 540h1.15v1.15h-1.15zM331 541h1.15v1.15h-1.15zM331 542h1.15v1.15h-1.15zM331 543h1.15v1.15h-1.15zM331 544h1.15v1.15h-1.15zM332 519h1.15v1.15h-1.15zM332 520h1.15v1.15h-1.15zM332 524h1.15v1.15h-1.15zM332 526h1.15v1.15h-1.15zM332 528h1.15v1.15h-1.15zM332 529h1.15v1.15h-1.15zM332 530h1.15v1.15h-1.15zM332 531h1.15v1.15h-1.15zM332 532h1.15v1.15h-1.15zM332 533h1.15v1.15h-1.15zM332 534h1.15v1.15h-1.15zM332 535h1.15v1.15h-1.15zM332 536h1.15v1.15h-1.15zM332 537h1.15v1.15h-1.15zM332 539h1.15v1.15h-1.15zM332 540h1.15v1.15h-1.15zM332 543h1.15v1.15h-1.15zM332 544h1.15v1.15h-1.15zM332 545h1.15v1.15h-1.15zM332 546h1.15v1.15h-1.15zM333 520h1.15v1.15h-1.15zM333 522h1.15v1.15h-1.15zM333 523h1.15v1.15h-1.15zM333 524h1.15v1.15h-1.15zM333 525h1.15v1.15h-1.15zM333 526h1.15v1.15h-1.15zM333 527h1.15v1.15h-1.15zM333 528h1.15v1.15h-1.15zM333 529h1.15v1.15h-1.15zM333 530h1.15v1.15h-1.15zM333 531h1.15v1.15h-1.15zM333 532h1.15v1.15h-1.15zM333 533h1.15v1.15h-1.15zM333 534h1.15v1.15h-1.15zM333 535h1.15v1.15h-1.15zM333 536h1.15v1.15h-1.15zM333 537h1.15v1.15h-1.15zM333 539h1.15v1.15h-1.15zM333 540h1.15v1.15h-1.15zM333 541h1.15v1.15h-1.15zM334 520h1.15v1.15h-1.15zM334 521h1.15v1.15h-1.15zM334 523h1.15v1.15h-1.15zM334 524h1.15v1.15h-1.15zM334 526h1.15v1.15h-1.15zM334 527h1.15v1.15h-1.15zM334 528h1.15v1.15h-1.15zM334 529h1.15v1.15h-1.15zM334 530h1.15v1.15h-1.15zM334 531h1.15v1.15h-1.15zM334 532h1.15v1.15h-1.15zM334 533h1.15v1.15h-1.15zM334 536h1.15v1.15h-1.15zM334 537h1.15v1.15h-1.15zM334 538h1.15v1.15h-1.15zM334 541h1.15v1.15h-1.15zM335 521h1.15v1.15h-1.15zM335 528h1.15v1.15h-1.15zM335 529h1.15v1.15h-1.15zM335 530h1.15v1.15h-1.15zM335 531h1.15v1.15h-1.15zM335 532h1.15v1.15h-1.15zM335 533h1.15v1.15h-1.15zM335 534h1.15v1.15h-1.15zM335 535h1.15v1.15h-1.15zM335 537h1.15v1.15h-1.15zM335 538h1.15v1.15h-1.15zM335 539h1.15v1.15h-1.15zM335 540h1.15v1.15h-1.15zM335 541h1.15v1.15h-1.15zM336 521h1.15v1.15h-1.15zM336 523h1.15v1.15h-1.15zM336 524h1.15v1.15h-1.15zM336 525h1.15v1.15h-1.15zM336 526h1.15v1.15h-1.15zM336 528h1.15v1.15h-1.15zM336 530h1.15v1.15h-1.15zM336 531h1.15v1.15h-1.15zM336 532h1.15v1.15h-1.15zM336 533h1.15v1.15h-1.15zM336 534h1.15v1.15h-1.15zM336 535h1.15v1.15h-1.15zM336 536h1.15v1.15h-1.15zM336 537h1.15v1.15h-1.15zM336 538h1.15v1.15h-1.15zM336 539h1.15v1.15h-1.15zM337 522h1.15v1.15h-1.15zM337 523h1.15v1.15h-1.15zM337 524h1.15v1.15h-1.15zM337 527h1.15v1.15h-1.15zM337 528h1.15v1.15h-1.15zM337 530h1.15v1.15h-1.15zM337 531h1.15v1.15h-1.15zM337 532h1.15v1.15h-1.15zM337 533h1.15v1.15h-1.15zM337 534h1.15v1.15h-1.15zM337 535h1.15v1.15h-1.15zM337 538h1.15v1.15h-1.15zM337 540h1.15v1.15h-1.15zM338 522h1.15v1.15h-1.15zM338 523h1.15v1.15h-1.15zM338 525h1.15v1.15h-1.15zM338 528h1.15v1.15h-1.15zM338 529h1.15v1.15h-1.15zM338 531h1.15v1.15h-1.15zM338 533h1.15v1.15h-1.15zM338 536h1.15v1.15h-1.15zM339 519h1.15v1.15h-1.15zM339 520h1.15v1.15h-1.15zM339 521h1.15v1.15h-1.15zM339 522h1.15v1.15h-1.15zM339 523h1.15v1.15h-1.15zM339 525h1.15v1.15h-1.15zM339 526h1.15v1.15h-1.15zM339 527h1.15v1.15h-1.15zM339 529h1.15v1.15h-1.15zM339 533h1.15v1.15h-1.15zM339 535h1.15v1.15h-1.15zM340 518h1.15v1.15h-1.15zM340 519h1.15v1.15h-1.15zM340 522h1.15v1.15h-1.15zM340 523h1.15v1.15h-1.15zM340 524h1.15v1.15h-1.15zM340 526h1.15v1.15h-1.15zM340 527h1.15v1.15h-1.15zM340 528h1.15v1.15h-1.15zM340 531h1.15v1.15h-1.15zM341 518h1.15v1.15h-1.15zM341 520h1.15v1.15h-1.15zM341 521h1.15v1.15h-1.15zM341 527h1.15v1.15h-1.15zM341 529h1.15v1.15h-1.15zM342 516h1.15v1.15h-1.15zM342 517h1.15v1.15h-1.15zM342 522h1.15v1.15h-1.15zM342 524h1.15v1.15h-1.15zM342 527h1.15v1.15h-1.15zM342 528h1.15v1.15h-1.15zM343 517h1.15v1.15h-1.15zM343 518h1.15v1.15h-1.15zM343 520h1.15v1.15h-1.15zM343 521h1.15v1.15h-1.15zM343 526h1.15v1.15h-1.15zM343 527h1.15v1.15h-1.15zM344 515h1.15v1.15h-1.15zM344 516h1.15v1.15h-1.15zM344 517h1.15v1.15h-1.15zM344 519h1.15v1.15h-1.15zM344 520h1.15v1.15h-1.15zM344 528h1.15v1.15h-1.15zM345 517h1.15v1.15h-1.15zM345 518h1.15v1.15h-1.15zM345 521h1.15v1.15h-1.15zM345 522h1.15v1.15h-1.15z" fill="#000"/>
<path d="M280 545h1v1h-1zM285 542h1v1h-1zM286 553h1v1h-1zM287 550h1v1h-1zM287 554h1v1h-1zM289 553h1v1h-1zM290 550h1v1h-1zM290 559h1v1h-1zM291 548h1v1h-1zM292 557h1v1h-1zM292 558h1v1h-1zM292 561h1v1h-1zM293 568h1v1h-1zM294 544h1v1h-1zM294 554h1v1h-1zM295 542h1v1h-1zM295 549h1v1h-1zM295 554h1v1h-1zM296 544h1v1h-1zM296 551h1v1h-1zM296 552h1v1h-1zM297 547h1v1h-1zM297 554h1v1h-1zM297 560h1v1h-1zM298 543h1v1h-1zM299 529h1v1h-1zM299 545h1v1h-1zM299 546h1v1h-1zM299 551h1v1h-1zM299 554h1v1h-1zM300 550h1v1h-1zM300 554h1v1h-1zM300 555h1v1h-1zM300 556h1v1h-1zM300 559h1v1h-1zM300 566h1v1h-1zM301 537h1v1h-1zM301 539h1v1h-1zM301 542h1v1h-1zM301 545h1v1h-1zM301 556h1v1h-1zM301 565h1v1h-1zM302 545h1v1h-1zM302 548h1v1h-1zM302 549h1v1h-1zM302 551h1v1h-1zM303 537h1v1h-1zM304 535h1v1h-1zM304 552h1v1h-1zM304 558h1v1h-1zM304 563h1v1h-1zM305 532h1v1h-1zM305 535h1v1h-1zM305 545h1v1h-1zM305 546h1v1h-1zM305 550h1v1h-1zM305 554h1v1h-1zM305 562h1v1h-1zM305 576h1v1h-1zM306 533h1v1h-1zM306 557h1v1h-1zM306 572h1v1h-1zM306 580h1v1h-1zM306 584h1v1h-1zM307 542h1v1h-1zM307 556h1v1h-1zM307 560h1v1h-1zM307 562h1v1h-1zM307 567h1v1h-1zM307 568h1v1h-1zM307 575h1v1h-1zM307 576h1v1h-1zM307 577h1v1h-1zM307 581h1v1h-1zM308 564h1v1h-1zM308 565h1v1h-1zM308 574h1v1h-1zM308 576h1v1h-1zM309 544h1v1h-1zM309 546h1v1h-1zM309 573h1v1h-1zM309 577h1v1h-1zM309 581h1v1h-1zM310 542h1v1h-1zM310 570h1v1h-1zM310 571h1v1h-1zM310 572h1v1h-1zM310 578h1v1h-1zM311 541h1v1h-1zM311 570h1v1h-1zM311 581h1v1h-1zM311 582h1v1h-1zM312 535h1v1h-1zM312 582h1v1h-1zM313 537h1v1h-1zM313 538h1v1h-1zM313 541h1v1h-1zM313 558h1v1h-1zM313 570h1v1h-1zM313 576h1v1h-1zM313 577h1v1h-1zM313 578h1v1h-1zM314 533h1v1h-1zM314 574h1v1h-1zM314 579h1v1h-1zM314 583h1v1h-1zM314 587h1v1h-1zM315 533h1v1h-1zM315 569h1v1h-1zM315 574h1v1h-1zM315 575h1v1h-1zM315 584h1v1h-1zM315 590h1v1h-1zM316 534h1v1h-1zM316 571h1v1h-1zM316 572h1v1h-1zM316 575h1v1h-1zM316 583h1v1h-1zM316 585h1v1h-1zM316 586h1v1h-1zM317 569h1v1h-1zM317 578h1v1h-1zM317 582h1v1h-1zM318 562h1v1h-1zM318 565h1v1h-1zM318 571h1v1h-1zM318 578h1v1h-1zM318 581h1v1h-1zM319 573h1v1h-1zM319 577h1v1h-1zM319 585h1v1h-1zM320 523h1v1h-1zM320 529h1v1h-1zM320 577h1v1h-1zM320 581h1v1h-1zM320 584h1v1h-1zM320 585h1v1h-1zM321 562h1v1h-1zM321 569h1v1h-1zM321 570h1v1h-1zM321 574h1v1h-1zM321 575h1v1h-1zM321 590h1v1h-1zM322 559h1v1h-1zM322 584h1v1h-1zM323 524h1v1h-1zM323 559h1v1h-1zM323 562h1v1h-1zM323 570h1v1h-1zM323 573h1v1h-1zM323 579h1v1h-1zM323 587h1v1h-1zM324 509h1v1h-1zM324 563h1v1h-1zM324 574h1v1h-1zM325 522h1v1h-1zM325 556h1v1h-1zM325 563h1v1h-1zM325 580h1v1h-1zM326 524h1v1h-1zM326 558h1v1h-1zM326 567h1v1h-1zM326 568h1v1h-1zM326 571h1v1h-1zM326 577h1v1h-1zM327 556h1v1h-1zM327 573h1v1h-1zM327 576h1v1h-1zM328 520h1v1h-1zM328 522h1v1h-1zM328 570h1v1h-1zM328 571h1v1h-1zM328 576h1v1h-1zM328 592h1v1h-1zM329 519h1v1h-1zM329 552h1v1h-1zM329 553h1v1h-1zM329 567h1v1h-1zM330 519h1v1h-1zM330 523h1v1h-1zM330 566h1v1h-1zM331 514h1v1h-1zM331 518h1v1h-1zM331 519h1v1h-1zM331 573h1v1h-1zM332 515h1v1h-1zM333 516h1v1h-1zM334 516h1v1h-1zM334 560h1v1h-1zM334 579h1v1h-1zM335 512h1v1h-1zM336 519h1v1h-1zM336 545h1v1h-1zM336 548h1v1h-1zM337 543h1v1h-1zM337 547h1v1h-1zM338 517h1v1h-1zM339 514h1v1h-1zM339 515h1v1h-1zM339 540h1v1h-1zM339 546h1v1h-1zM340 514h1v1h-1zM341 510h1v1h-1zM341 514h1v1h-1zM341 531h1v1h-1zM342 513h1v1h-1zM342 514h1v1h-1zM342 536h1v1h-1zM343 523h1v1h-1zM343 532h1v1h-1zM344 504h1v1h-1zM344 508h1v1h-1zM344 529h1v1h-1zM344 532h1v1h-1zM345 514h1v1h-1zM345 515h1v1h-1zM345 524h1v1h-1zM346 498h1v1h-1zM346 506h1v1h-1zM346 510h1v1h-1zM346 511h1v1h-1zM346 521h1v1h-1zM346 523h1v1h-1zM346 530h1v1h-1zM347 505h1v1h-1zM347 527h1v1h-1zM347 528h1v1h-1zM349 528h1v1h-1zM350 511h1v1h-1zM350 523h1v1h-1zM351 526h1v1h-1zM352 506h1v1h-1zM352 508h1v1h-1zM352 511h1v1h-1zM353 509h1v1h-1zM354 507h1v1h-1zM354 532h1v1h-1zM355 490h1v1h-1zM355 515h1v1h-1zM356 504h1v1h-1zM356 505h1v1h-1zM358 483h1v1h-1zM358 499h1v1h-1zM358 519h1v1h-1zM360 508h1v1h-1zM360 515h1v1h-1zM361 490h1v1h-1zM363 495h1v1h-1zM364 514h1v1h-1zM365 487h1v1h-1zM366 490h1v1h-1zM369 507h1v1h-1zM370 476h1v1h-1zM371 488h1v1h-1z" fill="#3c3c3c"/>
<line x1="310.6" y1="472.7" x2="310.6" y2="593.3" stroke="#111" stroke-width="1.6" stroke-linecap="butt"/>
<line x1="273.3" y1="559.8" x2="401.6" y2="559.8" stroke="#111" stroke-width="1.6" stroke-linecap="butt"/>
<line x1="56.8" y1="469" x2="56.8" y2="593.5" stroke="#111" stroke-width="1.6" stroke-linecap="butt"/>
<line x1="56" y1="593.3" x2="181.8" y2="593.3" stroke="#111" stroke-width="1.6" stroke-linecap="butt"/>
<line x1="53.8" y1="474.3" x2="56.8" y2="474.3" stroke="#111" stroke-width="1.3" stroke-linecap="butt"/>
<line x1="53.8" y1="482.2" x2="56.8" y2="482.2" stroke="#111" stroke-width="1.3" stroke-linecap="butt"/>
<line x1="53.8" y1="490.2" x2="56.8" y2="490.2" stroke="#111" stroke-width="1.3" stroke-linecap="butt"/>
<line x1="52.2" y1="498.2" x2="56.8" y2="498.2" stroke="#111" stroke-width="1.3" stroke-linecap="butt"/>
<line x1="53.8" y1="506.1" x2="56.8" y2="506.1" stroke="#111" stroke-width="1.3" stroke-linecap="butt"/>
<line x1="53.8" y1="514" x2="56.8" y2="514" stroke="#111" stroke-width="1.3" stroke-linecap="butt"/>
<line x1="53.8" y1="522" x2="56.8" y2="522" stroke="#111" stroke-width="1.3" stroke-linecap="butt"/>
<line x1="52.2" y1="530" x2="56.8" y2="530" stroke="#111" stroke-width="1.3" stroke-linecap="butt"/>
<line x1="53.8" y1="537.9" x2="56.8" y2="537.9" stroke="#111" stroke-width="1.3" stroke-linecap="butt"/>
<line x1="53.8" y1="545.9" x2="56.8" y2="545.9" stroke="#111" stroke-width="1.3" stroke-linecap="butt"/>
<line x1="53.8" y1="553.8" x2="56.8" y2="553.8" stroke="#111" stroke-width="1.3" stroke-linecap="butt"/>
<line x1="52.2" y1="561.8" x2="56.8" y2="561.8" stroke="#111" stroke-width="1.3" stroke-linecap="butt"/>
<line x1="53.8" y1="569.7" x2="56.8" y2="569.7" stroke="#111" stroke-width="1.3" stroke-linecap="butt"/>
<line x1="53.8" y1="577.6" x2="56.8" y2="577.6" stroke="#111" stroke-width="1.3" stroke-linecap="butt"/>
<line x1="53.8" y1="585.6" x2="56.8" y2="585.6" stroke="#111" stroke-width="1.3" stroke-linecap="butt"/>
<line x1="52.2" y1="593.5" x2="56.8" y2="593.5" stroke="#111" stroke-width="1.3" stroke-linecap="butt"/>
<line x1="73.3" y1="593.3" x2="73.3" y2="597.6" stroke="#111" stroke-width="1.0" stroke-linecap="butt"/>
<line x1="79.6" y1="593.3" x2="79.6" y2="596.3" stroke="#111" stroke-width="1.0" stroke-linecap="butt"/>
<line x1="83.3" y1="593.3" x2="83.3" y2="596.3" stroke="#111" stroke-width="1.0" stroke-linecap="butt"/>
<line x1="85.9" y1="593.3" x2="85.9" y2="596.3" stroke="#111" stroke-width="1.0" stroke-linecap="butt"/>
<line x1="88" y1="593.3" x2="88" y2="596.3" stroke="#111" stroke-width="1.0" stroke-linecap="butt"/>
<line x1="89.6" y1="593.3" x2="89.6" y2="596.3" stroke="#111" stroke-width="1.0" stroke-linecap="butt"/>
<line x1="91" y1="593.3" x2="91" y2="596.3" stroke="#111" stroke-width="1.0" stroke-linecap="butt"/>
<line x1="92.3" y1="593.3" x2="92.3" y2="596.3" stroke="#111" stroke-width="1.0" stroke-linecap="butt"/>
<line x1="93.3" y1="593.3" x2="93.3" y2="596.3" stroke="#111" stroke-width="1.0" stroke-linecap="butt"/>
<line x1="94.3" y1="593.3" x2="94.3" y2="597.6" stroke="#111" stroke-width="1.0" stroke-linecap="butt"/>
<line x1="100.6" y1="593.3" x2="100.6" y2="596.3" stroke="#111" stroke-width="1.0" stroke-linecap="butt"/>
<line x1="104.3" y1="593.3" x2="104.3" y2="596.3" stroke="#111" stroke-width="1.0" stroke-linecap="butt"/>
<line x1="106.9" y1="593.3" x2="106.9" y2="596.3" stroke="#111" stroke-width="1.0" stroke-linecap="butt"/>
<line x1="109" y1="593.3" x2="109" y2="596.3" stroke="#111" stroke-width="1.0" stroke-linecap="butt"/>
<line x1="110.6" y1="593.3" x2="110.6" y2="596.3" stroke="#111" stroke-width="1.0" stroke-linecap="butt"/>
<line x1="112" y1="593.3" x2="112" y2="596.3" stroke="#111" stroke-width="1.0" stroke-linecap="butt"/>
<line x1="113.3" y1="593.3" x2="113.3" y2="596.3" stroke="#111" stroke-width="1.0" stroke-linecap="butt"/>
<line x1="114.3" y1="593.3" x2="114.3" y2="596.3" stroke="#111" stroke-width="1.0" stroke-linecap="butt"/>
<line x1="115.5" y1="593.3" x2="115.5" y2="597.6" stroke="#111" stroke-width="1.0" stroke-linecap="butt"/>
<line x1="121.8" y1="593.3" x2="121.8" y2="596.3" stroke="#111" stroke-width="1.0" stroke-linecap="butt"/>
<line x1="125.5" y1="593.3" x2="125.5" y2="596.3" stroke="#111" stroke-width="1.0" stroke-linecap="butt"/>
<line x1="128.1" y1="593.3" x2="128.1" y2="596.3" stroke="#111" stroke-width="1.0" stroke-linecap="butt"/>
<line x1="130.2" y1="593.3" x2="130.2" y2="596.3" stroke="#111" stroke-width="1.0" stroke-linecap="butt"/>
<line x1="131.8" y1="593.3" x2="131.8" y2="596.3" stroke="#111" stroke-width="1.0" stroke-linecap="butt"/>
<line x1="133.2" y1="593.3" x2="133.2" y2="596.3" stroke="#111" stroke-width="1.0" stroke-linecap="butt"/>
<line x1="134.5" y1="593.3" x2="134.5" y2="596.3" stroke="#111" stroke-width="1.0" stroke-linecap="butt"/>
<line x1="135.5" y1="593.3" x2="135.5" y2="596.3" stroke="#111" stroke-width="1.0" stroke-linecap="butt"/>
<line x1="136.3" y1="593.3" x2="136.3" y2="597.6" stroke="#111" stroke-width="1.0" stroke-linecap="butt"/>
<line x1="142.6" y1="593.3" x2="142.6" y2="596.3" stroke="#111" stroke-width="1.0" stroke-linecap="butt"/>
<line x1="146.3" y1="593.3" x2="146.3" y2="596.3" stroke="#111" stroke-width="1.0" stroke-linecap="butt"/>
<line x1="148.9" y1="593.3" x2="148.9" y2="596.3" stroke="#111" stroke-width="1.0" stroke-linecap="butt"/>
<line x1="151" y1="593.3" x2="151" y2="596.3" stroke="#111" stroke-width="1.0" stroke-linecap="butt"/>
<line x1="152.6" y1="593.3" x2="152.6" y2="596.3" stroke="#111" stroke-width="1.0" stroke-linecap="butt"/>
<line x1="154" y1="593.3" x2="154" y2="596.3" stroke="#111" stroke-width="1.0" stroke-linecap="butt"/>
<line x1="155.3" y1="593.3" x2="155.3" y2="596.3" stroke="#111" stroke-width="1.0" stroke-linecap="butt"/>
<line x1="156.3" y1="593.3" x2="156.3" y2="596.3" stroke="#111" stroke-width="1.0" stroke-linecap="butt"/>
<line x1="156.5" y1="593.3" x2="156.5" y2="597.6" stroke="#111" stroke-width="1.0" stroke-linecap="butt"/>
<line x1="162.8" y1="593.3" x2="162.8" y2="596.3" stroke="#111" stroke-width="1.0" stroke-linecap="butt"/>
<line x1="166.5" y1="593.3" x2="166.5" y2="596.3" stroke="#111" stroke-width="1.0" stroke-linecap="butt"/>
<line x1="169.1" y1="593.3" x2="169.1" y2="596.3" stroke="#111" stroke-width="1.0" stroke-linecap="butt"/>
<line x1="171.2" y1="593.3" x2="171.2" y2="596.3" stroke="#111" stroke-width="1.0" stroke-linecap="butt"/>
<line x1="172.8" y1="593.3" x2="172.8" y2="596.3" stroke="#111" stroke-width="1.0" stroke-linecap="butt"/>
<line x1="174.2" y1="593.3" x2="174.2" y2="596.3" stroke="#111" stroke-width="1.0" stroke-linecap="butt"/>
<line x1="175.5" y1="593.3" x2="175.5" y2="596.3" stroke="#111" stroke-width="1.0" stroke-linecap="butt"/>
<line x1="176.5" y1="593.3" x2="176.5" y2="596.3" stroke="#111" stroke-width="1.0" stroke-linecap="butt"/>
<line x1="177.3" y1="593.3" x2="177.3" y2="597.6" stroke="#111" stroke-width="1.0" stroke-linecap="butt"/>
<line x1="273.3" y1="469" x2="273.3" y2="593.5" stroke="#111" stroke-width="1.6" stroke-linecap="butt"/>
<line x1="272.5" y1="593.3" x2="401.6" y2="593.3" stroke="#111" stroke-width="1.6" stroke-linecap="butt"/>
<line x1="270.3" y1="474.3" x2="273.3" y2="474.3" stroke="#111" stroke-width="1.3" stroke-linecap="butt"/>
<line x1="270.3" y1="482.2" x2="273.3" y2="482.2" stroke="#111" stroke-width="1.3" stroke-linecap="butt"/>
<line x1="270.3" y1="490.2" x2="273.3" y2="490.2" stroke="#111" stroke-width="1.3" stroke-linecap="butt"/>
<line x1="268.7" y1="498.2" x2="273.3" y2="498.2" stroke="#111" stroke-width="1.3" stroke-linecap="butt"/>
<line x1="270.3" y1="506.1" x2="273.3" y2="506.1" stroke="#111" stroke-width="1.3" stroke-linecap="butt"/>
<line x1="270.3" y1="514" x2="273.3" y2="514" stroke="#111" stroke-width="1.3" stroke-linecap="butt"/>
<line x1="270.3" y1="522" x2="273.3" y2="522" stroke="#111" stroke-width="1.3" stroke-linecap="butt"/>
<line x1="268.7" y1="530" x2="273.3" y2="530" stroke="#111" stroke-width="1.3" stroke-linecap="butt"/>
<line x1="270.3" y1="537.9" x2="273.3" y2="537.9" stroke="#111" stroke-width="1.3" stroke-linecap="butt"/>
<line x1="270.3" y1="545.9" x2="273.3" y2="545.9" stroke="#111" stroke-width="1.3" stroke-linecap="butt"/>
<line x1="270.3" y1="553.8" x2="273.3" y2="553.8" stroke="#111" stroke-width="1.3" stroke-linecap="butt"/>
<line x1="268.7" y1="561.8" x2="273.3" y2="561.8" stroke="#111" stroke-width="1.3" stroke-linecap="butt"/>
<line x1="270.3" y1="569.7" x2="273.3" y2="569.7" stroke="#111" stroke-width="1.3" stroke-linecap="butt"/>
<line x1="270.3" y1="577.6" x2="273.3" y2="577.6" stroke="#111" stroke-width="1.3" stroke-linecap="butt"/>
<line x1="270.3" y1="585.6" x2="273.3" y2="585.6" stroke="#111" stroke-width="1.3" stroke-linecap="butt"/>
<line x1="268.7" y1="593.5" x2="273.3" y2="593.5" stroke="#111" stroke-width="1.3" stroke-linecap="butt"/>
<line x1="290" y1="593.3" x2="290" y2="597.6" stroke="#111" stroke-width="1.0" stroke-linecap="butt"/>
<line x1="296.3" y1="593.3" x2="296.3" y2="596.3" stroke="#111" stroke-width="1.0" stroke-linecap="butt"/>
<line x1="300" y1="593.3" x2="300" y2="596.3" stroke="#111" stroke-width="1.0" stroke-linecap="butt"/>
<line x1="302.6" y1="593.3" x2="302.6" y2="596.3" stroke="#111" stroke-width="1.0" stroke-linecap="butt"/>
<line x1="304.7" y1="593.3" x2="304.7" y2="596.3" stroke="#111" stroke-width="1.0" stroke-linecap="butt"/>
<line x1="306.3" y1="593.3" x2="306.3" y2="596.3" stroke="#111" stroke-width="1.0" stroke-linecap="butt"/>
<line x1="307.7" y1="593.3" x2="307.7" y2="596.3" stroke="#111" stroke-width="1.0" stroke-linecap="butt"/>
<line x1="309" y1="593.3" x2="309" y2="596.3" stroke="#111" stroke-width="1.0" stroke-linecap="butt"/>
<line x1="310" y1="593.3" x2="310" y2="596.3" stroke="#111" stroke-width="1.0" stroke-linecap="butt"/>
<line x1="311" y1="593.3" x2="311" y2="597.6" stroke="#111" stroke-width="1.0" stroke-linecap="butt"/>
<line x1="317.3" y1="593.3" x2="317.3" y2="596.3" stroke="#111" stroke-width="1.0" stroke-linecap="butt"/>
<line x1="321" y1="593.3" x2="321" y2="596.3" stroke="#111" stroke-width="1.0" stroke-linecap="butt"/>
<line x1="323.6" y1="593.3" x2="323.6" y2="596.3" stroke="#111" stroke-width="1.0" stroke-linecap="butt"/>
<line x1="325.7" y1="593.3" x2="325.7" y2="596.3" stroke="#111" stroke-width="1.0" stroke-linecap="butt"/>
<line x1="327.3" y1="593.3" x2="327.3" y2="596.3" stroke="#111" stroke-width="1.0" stroke-linecap="butt"/>
<line x1="328.7" y1="593.3" x2="328.7" y2="596.3" stroke="#111" stroke-width="1.0" stroke-linecap="butt"/>
<line x1="330" y1="593.3" x2="330" y2="596.3" stroke="#111" stroke-width="1.0" stroke-linecap="butt"/>
<line x1="331" y1="593.3" x2="331" y2="596.3" stroke="#111" stroke-width="1.0" stroke-linecap="butt"/>
<line x1="332" y1="593.3" x2="332" y2="597.6" stroke="#111" stroke-width="1.0" stroke-linecap="butt"/>
<line x1="338.3" y1="593.3" x2="338.3" y2="596.3" stroke="#111" stroke-width="1.0" stroke-linecap="butt"/>
<line x1="342" y1="593.3" x2="342" y2="596.3" stroke="#111" stroke-width="1.0" stroke-linecap="butt"/>
<line x1="344.6" y1="593.3" x2="344.6" y2="596.3" stroke="#111" stroke-width="1.0" stroke-linecap="butt"/>
<line x1="346.7" y1="593.3" x2="346.7" y2="596.3" stroke="#111" stroke-width="1.0" stroke-linecap="butt"/>
<line x1="348.3" y1="593.3" x2="348.3" y2="596.3" stroke="#111" stroke-width="1.0" stroke-linecap="butt"/>
<line x1="349.7" y1="593.3" x2="349.7" y2="596.3" stroke="#111" stroke-width="1.0" stroke-linecap="butt"/>
<line x1="351" y1="593.3" x2="351" y2="596.3" stroke="#111" stroke-width="1.0" stroke-linecap="butt"/>
<line x1="352" y1="593.3" x2="352" y2="596.3" stroke="#111" stroke-width="1.0" stroke-linecap="butt"/>
<line x1="353.5" y1="593.3" x2="353.5" y2="597.6" stroke="#111" stroke-width="1.0" stroke-linecap="butt"/>
<line x1="359.8" y1="593.3" x2="359.8" y2="596.3" stroke="#111" stroke-width="1.0" stroke-linecap="butt"/>
<line x1="363.5" y1="593.3" x2="363.5" y2="596.3" stroke="#111" stroke-width="1.0" stroke-linecap="butt"/>
<line x1="366.1" y1="593.3" x2="366.1" y2="596.3" stroke="#111" stroke-width="1.0" stroke-linecap="butt"/>
<line x1="368.2" y1="593.3" x2="368.2" y2="596.3" stroke="#111" stroke-width="1.0" stroke-linecap="butt"/>
<line x1="369.8" y1="593.3" x2="369.8" y2="596.3" stroke="#111" stroke-width="1.0" stroke-linecap="butt"/>
<line x1="371.2" y1="593.3" x2="371.2" y2="596.3" stroke="#111" stroke-width="1.0" stroke-linecap="butt"/>
<line x1="372.5" y1="593.3" x2="372.5" y2="596.3" stroke="#111" stroke-width="1.0" stroke-linecap="butt"/>
<line x1="373.5" y1="593.3" x2="373.5" y2="596.3" stroke="#111" stroke-width="1.0" stroke-linecap="butt"/>
<line x1="375" y1="593.3" x2="375" y2="597.6" stroke="#111" stroke-width="1.0" stroke-linecap="butt"/>
<line x1="381.3" y1="593.3" x2="381.3" y2="596.3" stroke="#111" stroke-width="1.0" stroke-linecap="butt"/>
<line x1="385" y1="593.3" x2="385" y2="596.3" stroke="#111" stroke-width="1.0" stroke-linecap="butt"/>
<line x1="387.6" y1="593.3" x2="387.6" y2="596.3" stroke="#111" stroke-width="1.0" stroke-linecap="butt"/>
<line x1="389.7" y1="593.3" x2="389.7" y2="596.3" stroke="#111" stroke-width="1.0" stroke-linecap="butt"/>
<line x1="391.3" y1="593.3" x2="391.3" y2="596.3" stroke="#111" stroke-width="1.0" stroke-linecap="butt"/>
<line x1="392.7" y1="593.3" x2="392.7" y2="596.3" stroke="#111" stroke-width="1.0" stroke-linecap="butt"/>
<line x1="394" y1="593.3" x2="394" y2="596.3" stroke="#111" stroke-width="1.0" stroke-linecap="butt"/>
<line x1="395" y1="593.3" x2="395" y2="596.3" stroke="#111" stroke-width="1.0" stroke-linecap="butt"/>
<line x1="396" y1="593.3" x2="396" y2="597.6" stroke="#111" stroke-width="1.0" stroke-linecap="butt"/>
<rect x="125.5" y="521.5" width="27" height="68" fill="none" stroke="#111" stroke-width="1.0"/>
</g>
<rect x="1" y="1" width="518" height="622" fill="none" stroke="#111" stroke-width="2"/>
</svg></body></html>
